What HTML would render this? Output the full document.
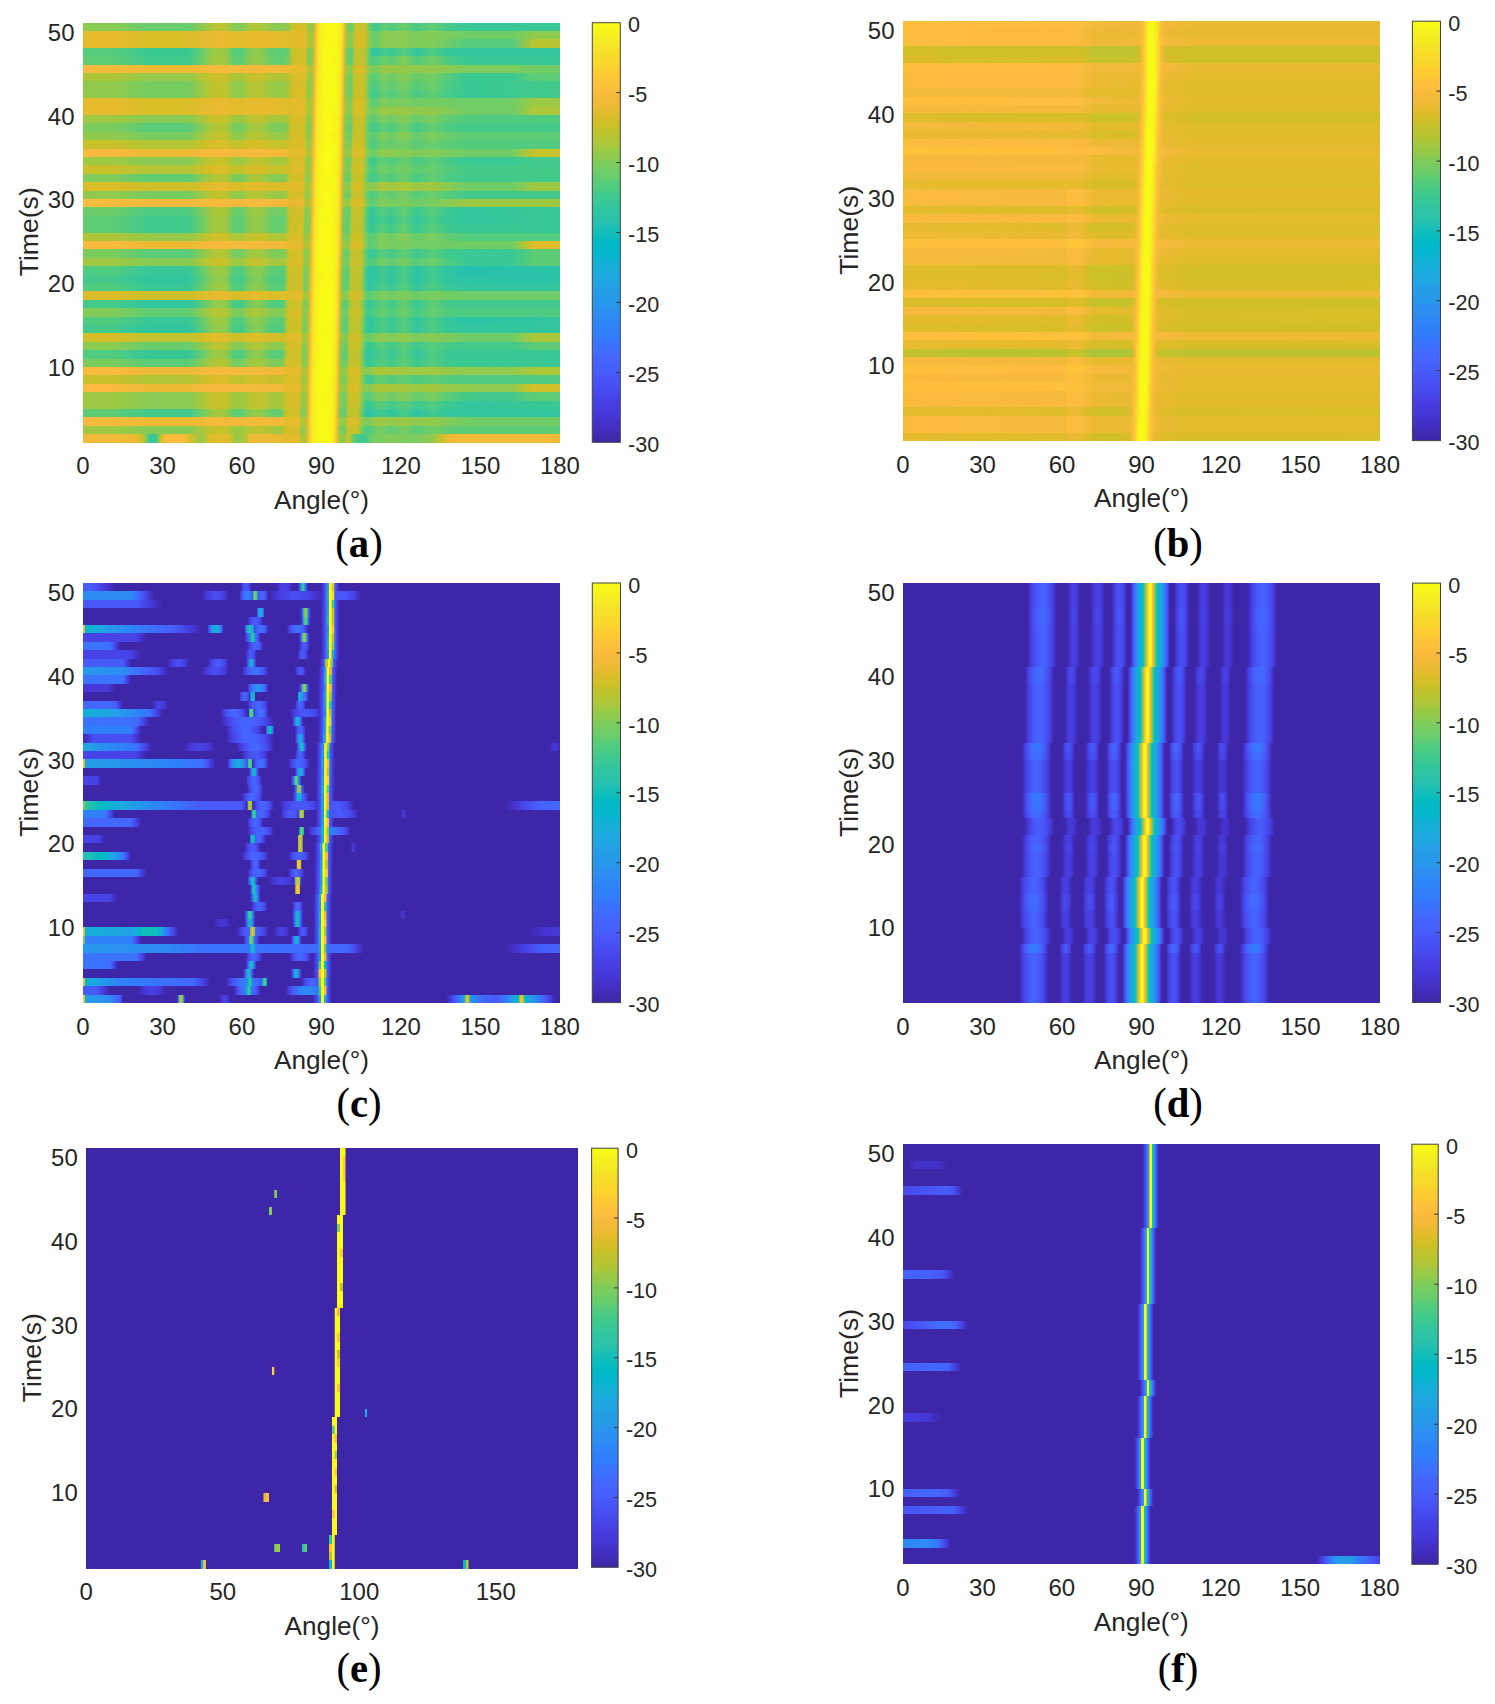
<!DOCTYPE html><html><head><meta charset="utf-8"><style>html,body{margin:0;padding:0;background:#fff;overflow:hidden}body{position:relative;width:1495px;height:1704px}.p{position:absolute;overflow:hidden;filter:blur(0.45px)}.p i{position:absolute;left:0;right:0;display:block}svg{position:absolute;left:0;top:0;display:block}</style></head><body><div class="p" style="left:83px;top:22.6px;width:476.9px;height:420px"><i style="top:0px;height:9px;background:linear-gradient(90deg,#8acb52,#8acb52 6.67%,#68cd6b 13.33%,#68cd6b 22.22%,#bbc42f 27.78%,#b7c532 30%,#89cb53 31.39%,#81cc58 33.33%,#a4c83e 34.72%,#aec637 35.56%,#b0c636 36.94%,#8bcb51 40%,#8bcb51 42.22%,#96ca49 43.06%,#cbc129 43.89%,#d2bf27 44.17%,#d8be28 46.67%,#c8c129 46.94%,#99c946 47.22%,#88cb53 47.5%,#92ca4c 48.06%,#a3c83f 48.33%,#dcbd29 48.61%,#fec13a 48.89%,#f5e825 49.44%,#f5ef21 49.72%,#f8f817 50.56%,#f9fb15 51.94%,#f8f817 53.33%,#f6ef20 53.89%,#f5e825 54.17%,#febe3c 54.72%,#c5c22a 55%,#82cc57 55.28%,#66cd6d 56.39%,#82cc58 56.67%,#b3c534 56.94%,#c6c22a 57.22%,#cac129 59.17%,#70cd65 60%,#41ca8c 60.83%,#46cb88 61.94%,#62cd70 63.06%,#50cc80 64.72%,#6ecd67 67.22%,#47cb87 70%,#62cd70 73.33%,#49cb85 75.83%,#39c895 80.56%,#39c895)"></i><i style="top:8.4px;height:9px;background:linear-gradient(90deg,#e6bb2d,#e6bb2d 6.94%,#d9be28 13.33%,#d9be28 22.22%,#ecba32 27.78%,#e1bc2b 33.06%,#eabb30 35.56%,#e0bc2a 43.89%,#e5bb2d 46.67%,#d5be28 46.94%,#afc637 47.22%,#a5c83d 47.5%,#abc739 48.06%,#bdc32e 48.33%,#e8bb2f 48.61%,#fec338 48.89%,#f5ea23 49.44%,#f8f817 50.56%,#f9fb15 51.94%,#f8f818 53.33%,#f6ef20 53.89%,#f5e626 54.17%,#fbbc3d 54.72%,#cac129 55%,#9ac945 55.28%,#83cc57 56.39%,#a1c840 56.67%,#cac129 56.94%,#d4bf28 57.22%,#d6be28 59.17%,#bcc42f 59.44%,#8acb52 60%,#68cd6b 60.83%,#6fcd66 61.94%,#90ca4d 63.06%,#85cb55 64.72%,#8ccb50 67.22%,#7ecc5b 70%,#84cc56 73.33%,#6fcd66 80.56%,#6fcd66 90%,#8ecb4f 94.44%,#8ecb4f)"></i><i style="top:16.8px;height:9px;background:linear-gradient(90deg,#e6bb2d,#e6bb2d 6.94%,#d9be28 13.33%,#d9be28 22.22%,#ecba32 27.78%,#e1bc2b 33.06%,#eabb30 35.56%,#e0bc2a 43.89%,#e5bb2d 46.67%,#d1bf27 46.94%,#aac73a 47.22%,#a5c83d 47.5%,#acc739 48.06%,#c3c22b 48.33%,#ecba32 48.61%,#fec537 48.89%,#f5ec22 49.44%,#f8f917 50.56%,#f8f718 53.33%,#f5ee21 53.89%,#fccf30 54.44%,#f8ba3d 54.72%,#c3c22b 55%,#99c946 55.28%,#82cc57 56.39%,#cec028 56.94%,#d8be28 58.89%,#d3bf27 59.17%,#9bc944 59.72%,#89cb53 60%,#68cd6b 60.83%,#70cd65 61.94%,#8fca4d 63.06%,#85cb55 64.72%,#8ccb50 67.22%,#7ecc5b 70%,#80cc59 73.33%,#53cc7d 80.56%,#53cc7d 90%,#b9c430 94.44%,#b9c430)"></i><i style="top:25.2px;height:9px;background:linear-gradient(90deg,#55cc7c,#55cc7c 6.67%,#3bc992 13.33%,#3bc992 22.22%,#5ccc76 24.44%,#84cc56 26.11%,#a0c841 27.78%,#9ac945 30%,#5ccc76 31.39%,#5acc77 31.67%,#53cc7d 33.33%,#7acc5e 34.44%,#89cb53 35.28%,#91ca4d 37.22%,#73cd62 38.33%,#5ecd74 40%,#5ecd74 42.22%,#6ccd69 43.06%,#acc738 43.61%,#cac129 43.89%,#d2bf27 46.67%,#afc637 46.94%,#79cc5e 47.22%,#88cb53 48.06%,#b1c635 48.33%,#eabb30 48.61%,#fec735 48.89%,#f5ec22 49.44%,#f8f917 50.56%,#f9fb15 51.67%,#f8f917 53.06%,#f5ee21 53.89%,#fdcd32 54.44%,#edba33 54.72%,#a2c83f 55%,#74cc62 55.28%,#57cc7a 56.39%,#bcc42f 56.94%,#c3c22b 58.89%,#b9c431 59.17%,#75cc61 59.72%,#47cb87 60.28%,#32c69f 60.83%,#35c79a 61.94%,#47cb87 63.06%,#37c897 64.72%,#58cc79 67.22%,#32c69e 70%,#4fcc81 73.33%,#3ac994 75.56%,#33c79d 78.33%,#32c69f)"></i><i style="top:33.6px;height:9px;background:linear-gradient(90deg,#5dcc75,#5dcc75 6.67%,#41ca8c 13.33%,#41ca8c 22.22%,#68cd6b 24.72%,#8acb52 26.11%,#a5c83e 27.78%,#9fc942 30%,#62cd70 31.39%,#5acc77 33.33%,#81cc59 34.44%,#93ca4b 35.56%,#96ca48 37.22%,#7acc5d 38.33%,#65cd6e 40%,#65cd6e 42.22%,#74cc62 43.06%,#b2c534 43.61%,#ccc028 43.89%,#d3bf27 46.67%,#abc739 46.94%,#79cc5e 47.22%,#8bcb51 48.06%,#bac430 48.33%,#efba35 48.61%,#fec934 48.89%,#f5ed22 49.44%,#f8f917 50.56%,#f9fb15 51.67%,#f6f21e 53.61%,#f5ed21 53.89%,#fdcb33 54.44%,#e6bb2d 54.72%,#99c946 55%,#75cc61 55.28%,#5ccc76 56.39%,#bfc32d 56.94%,#c4c22b 58.89%,#b6c532 59.17%,#73cd63 59.72%,#5bcc76 60.28%,#4ecc82 60.83%,#56cc7b 61.94%,#70cd65 63.06%,#5acc78 64.72%,#83cc57 67.22%,#4fcc80 70%,#74cc62 73.33%,#4ccb82 76.39%,#38c896 80.56%,#38c896)"></i><i style="top:42px;height:9px;background:linear-gradient(90deg,#f9ba3d,#f9ba3d 6.67%,#eeba34 13.06%,#eeba34 22.5%,#f7ba3d 27.78%,#f3ba38 42.78%,#e3bc2c 43.89%,#e9bb2f 46.67%,#c9c129 46.94%,#aac73a 47.22%,#b2c535 48.06%,#d6be28 48.33%,#f8ba3d 48.61%,#fdcc32 48.89%,#f5ed21 49.44%,#f8f917 50.56%,#f9fb15 51.94%,#f8f917 53.06%,#f5ed22 53.89%,#fec834 54.44%,#e9bb30 54.72%,#b0c636 55%,#9ec942 55.28%,#98c947 55.56%,#8ecb4f 56.11%,#91ca4c 56.39%,#bac430 56.67%,#d7be28 56.94%,#dcbd29 58.89%,#cec028 59.17%,#96ca48 59.72%,#78cc5f 60.83%,#7dcc5c 61.67%,#9ec942 63.06%,#95ca49 64.72%,#92ca4c 73.33%,#7fcc5a 80.56%,#7fcc5a 90%,#70cd65 94.44%,#70cd65)"></i><i style="top:50.4px;height:9px;background:linear-gradient(90deg,#adc638,#adc638 6.67%,#96ca48 13.33%,#96ca48 22.22%,#bfc32d 25.83%,#cfc028 27.78%,#cdc028 30%,#aec637 31.39%,#a9c73a 33.33%,#bec32e 34.44%,#c8c129 36.39%,#c8c129 37.22%,#b0c636 40%,#b0c636 42.22%,#bac430 43.06%,#d7be28 43.89%,#ddbd29 46.39%,#dabd28 46.67%,#91ca4c 47.22%,#9ec942 48.06%,#d1bf27 48.33%,#fabb3d 48.61%,#fdce31 48.89%,#f5e227 49.17%,#f5ee21 49.44%,#f8f917 50.56%,#f8f917 53.06%,#f5ec22 53.89%,#fec636 54.44%,#ddbd29 54.72%,#95ca49 55%,#87cb54 55.28%,#73cd63 56.11%,#7dcc5c 56.39%,#adc638 56.67%,#cbc129 56.94%,#d0c028 58.89%,#bcc42f 59.17%,#7fcc5a 59.72%,#5dcc74 60.56%,#5bcc76 60.83%,#5fcd73 61.67%,#7ecc5b 62.78%,#6fcd66 64.72%,#87cb54 67.22%,#66cd6d 70%,#77cc5f 73.33%,#59cc78 75.83%,#3ac993 80.56%,#3ac993 90%,#5ecc74 94.44%,#5ecc74)"></i><i style="top:58.8px;height:9px;background:linear-gradient(90deg,#90ca4d,#90ca4d 6.67%,#77cc60 13.33%,#77cc60 22.22%,#b1c636 26.11%,#c2c22c 27.78%,#bec32e 30%,#95ca49 31.39%,#8fcb4e 33.33%,#abc739 34.44%,#b1c636 35%,#b9c431 37.22%,#a6c73c 38.33%,#98ca47 40%,#98ca47 42.22%,#a8c73b 43.06%,#d4bf27 43.89%,#dabd28 46.39%,#d2bf27 46.67%,#a5c83d 46.94%,#8acb51 47.22%,#9ac945 48.06%,#d4bf28 48.33%,#fcbd3d 48.61%,#f5e426 49.17%,#f5ee21 49.44%,#f8f818 50.28%,#f9fb15 51.67%,#f8f817 53.06%,#f5ec23 53.89%,#fec438 54.44%,#d3bf27 54.72%,#87cb54 55%,#6bcd69 56.11%,#7bcc5c 56.39%,#adc638 56.67%,#c7c129 56.94%,#ccc028 58.89%,#b4c533 59.17%,#77cc60 59.72%,#4fcc80 60.56%,#52cc7e 61.67%,#6fcd65 62.78%,#5ecd74 64.72%,#7bcc5d 67.22%,#55cc7b 70%,#6ecd67 73.33%,#53cc7d 75.56%,#39c994 80.56%,#43ca8b)"></i><i style="top:67.2px;height:9px;background:linear-gradient(90deg,#90ca4d,#90ca4d 6.67%,#77cc60 13.33%,#77cc60 22.22%,#b1c636 26.11%,#c2c22c 27.78%,#bec32e 30%,#95ca49 31.39%,#8fcb4e 33.33%,#abc739 34.44%,#b1c636 35%,#b9c431 37.22%,#a6c73c 38.33%,#98ca47 40%,#98ca47 42.22%,#9ec942 42.78%,#ccc028 43.61%,#d4bf27 43.89%,#dabd28 46.39%,#cdc028 46.67%,#a0c841 46.94%,#8bcb51 47.22%,#a1c840 48.06%,#dabd28 48.33%,#febf3b 48.61%,#f5e725 49.17%,#f5ee21 49.44%,#f8f818 50.28%,#f9fb15 51.67%,#f8f817 53.06%,#f6f020 53.61%,#f5e924 53.89%,#fec03b 54.44%,#cbc029 54.72%,#86cb55 55%,#6acd6a 56.11%,#82cc58 56.39%,#b2c535 56.67%,#c7c129 56.94%,#ccc028 58.89%,#b1c635 59.17%,#74cc62 59.72%,#42ca8b 60.56%,#45cb88 61.67%,#62cd71 62.78%,#51cc7f 64.72%,#6ccd68 67.22%,#48cb86 70%,#61cd71 73.33%,#49cb85 75.83%,#39c994 80.56%,#43ca8b)"></i><i style="top:75.6px;height:9px;background:linear-gradient(90deg,#e6bb2d,#e6bb2d 6.94%,#d9be28 13.33%,#d9be28 22.22%,#ecba32 27.78%,#e1bc2b 33.06%,#eabb30 35.56%,#e0bc2a 43.61%,#e5bb2d 46.39%,#d7be28 46.67%,#b1c635 46.94%,#a5c83e 47.22%,#abc739 47.78%,#bac430 48.06%,#e6bb2d 48.33%,#fec239 48.61%,#f5e924 49.17%,#f5ef20 49.44%,#f9fb15 51.67%,#f8f818 53.06%,#f6ef20 53.61%,#f5e725 53.89%,#fdbd3d 54.44%,#cec028 54.72%,#9ac945 55%,#83cc57 56.11%,#9ec942 56.39%,#c7c12a 56.67%,#d4bf28 56.94%,#d7be28 58.89%,#bec32e 59.17%,#89cb53 59.72%,#5acc77 60.56%,#60cd72 61.67%,#81cc59 62.78%,#75cc61 64.72%,#7dcc5c 67.22%,#6ecd66 70%,#76cc60 73.33%,#6fcd66 77.5%,#6fcd66 90%,#9dc943 94.44%,#9dc943)"></i><i style="top:84px;height:9px;background:linear-gradient(90deg,#e6bb2d,#e6bb2d 6.94%,#d9be28 13.33%,#d9be28 22.22%,#ecba32 27.78%,#e1bc2b 33.06%,#eabb30 35.56%,#e0bc2a 43.61%,#e5bb2d 46.39%,#d3bf27 46.67%,#adc738 46.94%,#a5c83d 47.22%,#abc739 47.78%,#c0c32d 48.06%,#eabb30 48.33%,#fec438 48.61%,#f5eb23 49.17%,#f8f917 50.56%,#f8f818 53.06%,#f5ef20 53.61%,#fcd130 54.17%,#fabb3d 54.44%,#c7c12a 54.72%,#9ac945 55%,#8ecb4e 55.56%,#83cc57 56.11%,#ccc028 56.67%,#d4bf28 56.94%,#d8be28 58.61%,#d5be28 58.89%,#bbc430 59.17%,#9dc943 59.44%,#8ccb50 59.72%,#77cc5f 60.56%,#7fcc5a 61.67%,#9fc942 62.78%,#94ca4a 64.72%,#9bc944 67.22%,#8dcb4f 70%,#91ca4c 73.33%,#6fcd66 80.56%,#6fcd66 90%,#acc739 94.44%,#acc739)"></i><i style="top:92.4px;height:9px;background:linear-gradient(90deg,#9fc942,#9fc942 6.67%,#87cb54 13.33%,#87cb54 22.22%,#bac430 26.11%,#c9c129 27.78%,#c6c22a 30%,#a2c83f 31.39%,#9cc943 33.33%,#bac430 35%,#c1c32d 37.22%,#a4c83e 40%,#a4c83e 42.22%,#a9c73a 42.78%,#d4bf27 43.61%,#dcbd29 46.39%,#c1c32c 46.67%,#92ca4c 46.94%,#90ca4d 47.22%,#99c946 47.78%,#b9c431 48.06%,#eaba31 48.33%,#fec636 48.61%,#f5ec22 49.17%,#f8f917 50.28%,#f9fb15 51.39%,#f7f31d 53.33%,#f5e227 53.89%,#fdce31 54.17%,#f3ba38 54.44%,#b4c534 54.72%,#87cb54 55%,#6bcd69 56.11%,#c4c22b 56.67%,#cdc028 58.61%,#c6c22a 58.89%,#88cb53 59.44%,#76cc61 59.72%,#5bcc77 60.56%,#62cd71 61.67%,#80cc59 62.78%,#6dcd67 64.72%,#88cb53 67.22%,#64cd6f 70%,#7dcc5b 73.33%,#64cd6f 75.83%,#50cc80 80.56%,#50cc80)"></i><i style="top:100.8px;height:9px;background:linear-gradient(90deg,#7acc5d,#7acc5d 6.67%,#5acc77 13.33%,#5acc77 22.22%,#9ec943 26.11%,#b4c534 27.78%,#afc637 30%,#7ccc5c 31.39%,#79cc5e 31.94%,#74cd62 33.33%,#96ca48 34.44%,#9ec943 35%,#a8c73b 37.22%,#91ca4c 38.33%,#7ecc5a 40%,#7ecc5a 42.22%,#86cb54 42.78%,#b9c430 43.33%,#d0c027 43.61%,#d7be28 46.39%,#b4c534 46.67%,#81cc59 46.94%,#91ca4c 47.78%,#b9c430 48.06%,#edba33 48.33%,#fec835 48.61%,#f5ed22 49.17%,#f9fb15 51.39%,#f8f917 52.78%,#f5ee21 53.61%,#fdcc32 54.17%,#ebba32 54.44%,#a4c83e 54.72%,#7ccc5c 55%,#60cd72 56.11%,#c3c22b 56.67%,#c8c129 58.61%,#bdc32f 58.89%,#7bcc5d 59.44%,#67cd6d 59.72%,#41ca8c 60.56%,#48cb86 61.67%,#62cd71 62.78%,#4ecc81 64.72%,#6fcd65 67.22%,#45cb88 70%,#66cd6d 73.33%,#4dcc82 76.11%,#42ca8b 80.28%,#42ca8b)"></i><i style="top:109.2px;height:9px;background:linear-gradient(90deg,#90ca4d,#90ca4d 6.67%,#77cc60 13.33%,#77cc60 22.22%,#b1c636 26.11%,#c2c22c 27.78%,#bec32e 30%,#95ca49 31.39%,#8fcb4e 33.33%,#abc739 34.44%,#b1c636 35%,#b9c431 37.22%,#a6c73c 38.33%,#98ca47 40%,#98ca47 42.22%,#a0c841 42.78%,#c5c22a 43.33%,#d3bf27 43.61%,#dabd28 46.39%,#b4c534 46.67%,#89cb52 46.94%,#98ca47 47.78%,#c4c22b 48.06%,#f3ba38 48.33%,#feca33 48.61%,#f5ed22 49.17%,#f9fb15 51.39%,#f6f21e 53.33%,#f5ed21 53.61%,#feca33 54.17%,#e6bb2d 54.44%,#9fc942 54.72%,#82cc58 55%,#73cd62 55.56%,#6ccd68 56.11%,#9fc942 56.39%,#c7c12a 56.67%,#ccc028 58.61%,#bdc32e 58.89%,#7dcc5b 59.44%,#5bcc77 60.56%,#5fcd73 61.39%,#80cc59 62.78%,#6ccd68 64.72%,#8acb51 67.22%,#63cd70 70%,#81cc59 73.33%,#6bcd69 75.56%,#5dcc75 80.28%,#5dcc75)"></i><i style="top:117.6px;height:9px;background:linear-gradient(90deg,#c8c129,#c8c129 6.67%,#b3c534 13.33%,#b3c534 22.22%,#d0bf27 25.83%,#dcbd29 27.78%,#dabd28 30%,#c5c22a 31.39%,#c2c22c 33.33%,#d0c027 34.44%,#d7be28 36.94%,#c6c22a 40%,#c6c22a 42.22%,#dabd28 43.61%,#e0bc2a 46.39%,#bac430 46.67%,#98c947 46.94%,#a4c83e 47.78%,#d0bf27 48.06%,#f8ba3d 48.33%,#fdcd32 48.61%,#f5ed21 49.17%,#f8f917 50.28%,#f9fb15 51.67%,#f8f917 52.78%,#f5ed22 53.61%,#fec835 54.17%,#e3bc2c 54.44%,#a0c841 54.72%,#8ecb4f 55%,#7bcc5d 55.83%,#81cc59 56.11%,#afc637 56.39%,#cfc028 56.67%,#d3bf27 58.61%,#c3c22b 58.89%,#86cb55 59.44%,#53cc7d 60.28%,#4ecc81 60.56%,#52cc7e 61.39%,#70cd65 62.78%,#63cd70 64.72%,#73cd63 67.22%,#5bcc76 70%,#6acd69 73.33%,#5dcc75 75.56%,#51cc7e 80.56%,#51cc7e)"></i><i style="top:126px;height:9px;background:linear-gradient(90deg,#f9ba3d,#f9ba3d 6.67%,#eeba34 13.06%,#eeba34 22.5%,#f7ba3c 27.22%,#f2ba38 42.5%,#e3bc2c 43.61%,#e4bb2c 46.39%,#c3c22b 46.67%,#abc739 46.94%,#b3c534 47.78%,#dcbd29 48.06%,#fcbc3d 48.33%,#f5e327 48.89%,#f5ee21 49.17%,#f8f818 50%,#f9fb15 51.39%,#f8f917 52.78%,#f5ec22 53.61%,#fec537 54.17%,#e1bc2b 54.44%,#a5c83d 54.72%,#9dc943 55%,#8dcb50 55.83%,#98c947 56.11%,#c0c32d 56.39%,#d8be28 56.67%,#dcbd29 58.61%,#cac129 58.89%,#94ca4a 59.44%,#6bcd69 60.28%,#69cd6b 60.56%,#6ecd67 61.39%,#8ecb4f 62.5%,#8fcb4e 62.78%,#7fcc5a 70%,#82cc57 73.33%,#70cd65 80.28%,#70cd65 90%,#aec637 93.06%,#c7c12a 94.44%,#c7c12a)"></i><i style="top:134.4px;height:9px;background:linear-gradient(90deg,#9fc942,#9fc942 6.67%,#87cb54 13.33%,#87cb54 22.22%,#bac430 26.11%,#c9c129 27.78%,#c6c22a 30%,#a2c83f 31.39%,#9cc943 33.33%,#bac430 35%,#c1c32d 37.22%,#a4c83e 40%,#a4c83e 42.22%,#b0c636 42.78%,#cec028 43.33%,#d5be28 43.61%,#dbbd29 46.11%,#d2bf27 46.39%,#a6c83c 46.67%,#8ecb4e 46.94%,#a0c841 47.78%,#d7be28 48.06%,#febd3c 48.33%,#f5e526 48.89%,#f5ee21 49.17%,#f8f818 50%,#f9fb15 51.39%,#f8f817 52.78%,#f5eb23 53.61%,#fec239 54.17%,#d1bf27 54.44%,#89cb52 54.72%,#6ecd67 55.83%,#82cc58 56.11%,#b2c635 56.39%,#c9c129 56.67%,#cec028 58.61%,#b5c533 58.89%,#78cc5f 59.44%,#43ca8b 60.28%,#45cb88 61.39%,#61cd71 62.5%,#52cc7e 64.72%,#6acd6a 67.22%,#49cb85 70%,#5fcd73 73.33%,#48cb86 76.11%,#3ac993 80.28%,#3ac994 90%,#43ca8a 94.44%,#43ca8a)"></i><i style="top:142.8px;height:9px;background:linear-gradient(90deg,#c8c129,#c8c129 6.67%,#b3c534 13.33%,#b3c534 22.22%,#d0bf27 25.83%,#dcbd29 27.78%,#dabd28 30%,#c5c22a 31.39%,#c2c22c 33.33%,#d0c027 34.44%,#d7be28 36.94%,#c6c22a 40%,#c6c22a 42.22%,#dbbd28 43.61%,#e0bc2b 46.11%,#d3bf27 46.39%,#abc739 46.67%,#9ac946 46.94%,#a2c840 47.5%,#afc637 47.78%,#e0bc2a 48.06%,#fec03a 48.33%,#f5e825 48.89%,#f5ee21 49.17%,#f8f817 50%,#f9fb15 51.39%,#f8f817 52.78%,#f6f020 53.33%,#f5e825 53.61%,#febf3c 54.17%,#cec028 54.44%,#92ca4c 54.72%,#78cc5f 55.83%,#91ca4c 56.11%,#bec32e 56.39%,#cfc028 56.67%,#d3bf27 58.61%,#b9c431 58.89%,#80cc59 59.44%,#4dcc82 60.28%,#52cc7e 61.39%,#71cd64 62.5%,#63cd70 64.72%,#73cd63 67.22%,#5bcc76 70%,#69cd6b 73.33%,#58cc79 75.56%,#45cb89 80.56%,#45cb89)"></i><i style="top:151.2px;height:9px;background:linear-gradient(90deg,#81cc59,#81cc59 6.67%,#60cd72 13.33%,#60cd72 22.22%,#a1c840 26.11%,#b7c532 27.78%,#b2c635 30%,#81cc58 31.39%,#79cc5e 33.33%,#9ec942 34.72%,#a9c73b 35.56%,#abc739 36.94%,#86cb54 39.72%,#84cc57 42.22%,#87cb54 42.5%,#cac129 43.33%,#d1bf27 43.61%,#d7be28 46.11%,#c3c22b 46.39%,#92ca4c 46.67%,#86cb55 46.94%,#90ca4d 47.5%,#a8c73b 47.78%,#e0bc2a 48.06%,#fec339 48.33%,#f5ea24 48.89%,#f8f917 50.28%,#f8f818 52.78%,#f5e626 53.61%,#fbd22f 53.89%,#fabb3d 54.17%,#bdc32f 54.44%,#80cc59 54.72%,#63cd70 55.83%,#85cb56 56.11%,#b6c532 56.39%,#c4c22a 56.67%,#c6c22a 58.61%,#6dcd68 59.44%,#41ca8c 60.28%,#46cb88 61.39%,#62cd70 62.5%,#4fcc81 64.72%,#6fcd66 67.22%,#46cb88 70%,#65cd6e 73.33%,#4dcc82 76.11%,#42ca8b 80.28%,#42ca8b)"></i><i style="top:159.6px;height:9px;background:linear-gradient(90deg,#dbbd29,#dbbd29 6.94%,#cdc028 13.33%,#cdc028 22.22%,#e7bb2e 27.78%,#e6bb2d 30%,#d9bd28 31.39%,#d7be28 33.33%,#e4bb2c 35.83%,#dabd28 40%,#e4bb2c 46.11%,#cfc028 46.39%,#a7c73c 46.67%,#a2c840 46.94%,#a9c73b 47.5%,#c0c32d 47.78%,#ebba31 48.06%,#fec537 48.33%,#f5ec22 48.89%,#f8f917 50%,#f8f718 52.78%,#f5ef21 53.33%,#fcd030 53.89%,#f8ba3d 54.17%,#c2c22c 54.44%,#96ca48 54.72%,#7fcc5a 55.83%,#cbc029 56.39%,#d3bf27 56.67%,#d6be28 58.06%,#d2bf27 58.61%,#99c946 59.17%,#8ccb50 59.44%,#87cb54 60.28%,#8fcb4e 61.39%,#adc638 62.5%,#a1c840 64.72%,#abc739 67.22%,#9ac945 70%,#a0c841 73.33%,#6ecd66 80.56%,#6ecd66 90%,#9cc943 94.44%,#9cc943)"></i><i style="top:168px;height:9px;background:linear-gradient(90deg,#90ca4d,#90ca4d 6.67%,#77cc60 13.33%,#77cc60 22.22%,#b1c636 26.11%,#c2c22c 27.78%,#bec32e 30%,#95ca49 31.39%,#8fcb4e 33.33%,#abc739 34.44%,#b1c636 35%,#b9c431 37.22%,#a6c73c 38.33%,#98ca47 40%,#98ca47 42.22%,#9bc945 42.5%,#d2bf27 43.33%,#dabd28 46.11%,#bcc42f 46.39%,#8ccb50 46.67%,#97ca48 47.5%,#bac430 47.78%,#ebba32 48.06%,#fec735 48.33%,#f5ec22 48.89%,#f8f917 50%,#f9fb15 51.11%,#f8f917 52.5%,#f5ee21 53.33%,#fdcd31 53.89%,#f0ba36 54.17%,#aec637 54.44%,#83cc57 54.72%,#67cd6c 55.83%,#c4c22b 56.39%,#ccc028 58.33%,#c3c22b 58.61%,#83cc57 59.17%,#70cd65 59.44%,#4dcc82 60.28%,#55cc7c 61.39%,#71cd65 62.5%,#5ecc74 64.72%,#7bcc5d 67.22%,#55cc7c 70%,#6fcd66 73.33%,#58cc79 75.56%,#43ca8b 80.56%,#43ca8b)"></i><i style="top:176.4px;height:9px;background:linear-gradient(90deg,#febe3c,#f7ba3c 13.06%,#f8ba3d 42.5%,#e4bb2c 43.33%,#eaba30 46.11%,#d0bf27 46.39%,#adc638 46.67%,#b5c533 47.5%,#d2bf27 47.78%,#f5ba3a 48.06%,#fec934 48.33%,#f5ed22 48.89%,#f9fb15 51.11%,#f6f21e 53.06%,#f5ed21 53.33%,#fdcb33 53.89%,#f0ba36 54.17%,#bbc42f 54.44%,#a1c840 54.72%,#8fcb4e 55.83%,#b8c431 56.11%,#d9be28 56.39%,#ddbd29 58.33%,#d3bf27 58.61%,#bac430 58.89%,#89cb52 59.44%,#63cd6f 60%,#5bcc77 60.28%,#63cd70 61.39%,#80cc59 62.5%,#76cc60 64.72%,#7bcc5d 67.22%,#70cd65 70.56%,#72cd63 72.22%,#9ec943 80.56%,#9ec943)"></i><i style="top:184.8px;height:9px;background:linear-gradient(90deg,#6bcd69,#6bcd69 6.67%,#4dcc82 13.33%,#4dcc82 22.22%,#acc738 27.78%,#a7c73c 30%,#6fcd66 31.39%,#66cd6d 33.33%,#90ca4d 34.72%,#9cc944 35.56%,#9fc942 37.22%,#86cb55 38.33%,#71cd64 40%,#71cd64 42.22%,#7acc5d 42.5%,#b8c531 43.06%,#cec028 43.33%,#d5be28 46.11%,#a9c73b 46.39%,#7ecc5b 46.67%,#8fcb4e 47.5%,#c2c32c 47.78%,#f4ba39 48.06%,#fdcb33 48.33%,#f5ed22 48.89%,#f8f917 50%,#f9fb15 51.39%,#f8f917 52.5%,#f5ed22 53.33%,#fec934 53.89%,#e1bc2b 54.17%,#93ca4b 54.44%,#78cc5f 54.72%,#62cd71 55.56%,#64cd6f 55.83%,#98c946 56.11%,#c1c32c 56.39%,#c6c22a 58.33%,#b5c533 58.61%,#72cd63 59.17%,#3dc990 60%,#39c895 60.28%,#3eca8f 61.39%,#55cc7c 62.5%,#53cc7e 63.33%,#41ca8c 64.72%,#63cd70 67.22%,#3ac993 70%,#58cc79 73.33%,#3fca8e 75.56%,#32c69e 80.28%,#38c896)"></i><i style="top:193.2px;height:9px;background:linear-gradient(90deg,#5dcc75,#5dcc75 6.67%,#41ca8c 13.33%,#41ca8c 22.22%,#68cd6b 24.72%,#8acb52 26.11%,#a5c83e 27.78%,#9fc942 30%,#62cd70 31.39%,#5acc77 33.33%,#81cc59 34.44%,#93ca4b 35.56%,#96ca48 37.22%,#7acc5d 38.33%,#65cd6e 40%,#65cd6e 42.22%,#72cd64 42.5%,#b6c532 43.06%,#ccc028 43.33%,#d0bf27 46.11%,#7acc5d 46.67%,#8ccb50 47.5%,#c7c12a 47.78%,#f8ba3d 48.06%,#fdce31 48.33%,#f5ed21 48.89%,#f8f917 50%,#f8f917 52.5%,#f5ec22 53.33%,#fec736 53.89%,#d8be28 54.17%,#85cb55 54.44%,#73cd62 54.72%,#5ecc74 55.56%,#66cd6d 55.83%,#9cc944 56.11%,#bfc32d 56.39%,#c4c22b 58.33%,#afc636 58.61%,#6ccd68 59.17%,#56cc7b 59.44%,#35c79a 60%,#32c69e 60.28%,#34c79c 61.11%,#48cb86 62.5%,#37c897 64.72%,#57cc7a 67.22%,#33c69d 70%,#4ecc81 73.33%,#3ac994 75.56%,#32c69f 80.28%,#38c896)"></i><i style="top:201.6px;height:9px;background:linear-gradient(90deg,#5dcc75,#5dcc75 6.67%,#41ca8c 13.33%,#41ca8c 22.22%,#68cd6b 24.72%,#8acb52 26.11%,#a5c83e 27.78%,#9fc942 30%,#62cd70 31.39%,#5acc77 33.33%,#81cc59 34.44%,#93ca4b 35.56%,#96ca48 37.22%,#7acc5d 38.33%,#65cd6e 40%,#65cd6e 42.22%,#76cc61 42.5%,#bac430 43.06%,#ccc028 43.33%,#d3bf27 45.83%,#cbc129 46.11%,#99c946 46.39%,#7bcc5d 46.67%,#8dcb4f 47.5%,#cec028 47.78%,#fbbc3d 48.06%,#f5e427 48.61%,#f5ee21 48.89%,#f8f818 49.72%,#f9fb15 51.11%,#f8f817 52.5%,#f5ec22 53.33%,#fec437 53.89%,#d0bf27 54.17%,#7acc5d 54.44%,#5dcc75 55.56%,#6ccd68 55.83%,#a2c840 56.11%,#bfc32d 56.39%,#c4c22a 58.33%,#acc739 58.61%,#6acd6a 59.17%,#3ac993 60%,#3bc992 61.11%,#55cc7c 62.5%,#54cc7d 63.33%,#40ca8d 64.72%,#64cd6e 67.22%,#39c995 70%,#5bcc76 73.33%,#42ca8b 75.83%,#3ac993 78.33%,#38c896)"></i><i style="top:210px;height:9px;background:linear-gradient(90deg,#adc638,#adc638 6.67%,#96ca48 13.33%,#96ca48 22.22%,#bfc32d 25.83%,#cfc028 27.78%,#cdc028 30%,#aec637 31.39%,#a9c73a 33.33%,#bec32e 34.44%,#c8c129 36.39%,#c8c129 37.22%,#b0c636 40%,#b0c636 42.22%,#c5c22a 42.78%,#d7be28 43.33%,#ddbd29 45.83%,#d2bf27 46.11%,#a7c73c 46.39%,#92ca4b 46.67%,#a6c83d 47.5%,#dbbd29 47.78%,#febf3c 48.06%,#f5e626 48.61%,#f5ee21 48.89%,#f8f818 49.72%,#f9fb15 51.11%,#f8f817 52.5%,#f6f020 53.06%,#f5ea24 53.33%,#fec13a 53.89%,#cfc028 54.17%,#8ccb50 54.44%,#71cd64 55.56%,#87cb54 55.83%,#b6c532 56.11%,#cbc129 56.39%,#d0c027 58.33%,#b6c532 58.61%,#7dcc5c 59.17%,#5bcc76 60%,#60cd73 61.11%,#80cc59 62.22%,#6ecd66 64.72%,#86cb54 67.22%,#66cd6d 70%,#7bcc5d 73.33%,#64cd6e 75.83%,#50cc7f 80.56%,#50cc7f)"></i><i style="top:218.4px;height:9px;background:linear-gradient(90deg,#f9ba3d,#f9ba3d 6.67%,#eeba34 13.06%,#eeba34 22.5%,#f7ba3c 27.22%,#f2ba38 42.22%,#e3bc2c 43.33%,#e8bb2f 45.83%,#dcbd29 46.11%,#b8c431 46.39%,#acc739 46.67%,#b1c635 47.22%,#bec32e 47.5%,#e7bb2e 47.78%,#fec13a 48.06%,#f5e924 48.61%,#f5ef21 48.89%,#f8f817 49.72%,#f9fb15 51.11%,#f8f817 52.5%,#f6ef20 53.06%,#f5e725 53.33%,#febe3c 53.89%,#d2bf27 54.17%,#a1c840 54.44%,#8bcb51 55.56%,#a4c83e 55.83%,#cbc129 56.11%,#d8be28 56.39%,#dbbd29 58.33%,#c3c22b 58.61%,#8ecb4e 59.17%,#5acc77 60%,#60cd72 61.11%,#81cc59 62.22%,#76cc60 64.72%,#7acc5d 67.22%,#70cd65 70%,#70cd65 90%,#c1c32c 93.06%,#dfbc2a 94.44%,#dfbc2a)"></i><i style="top:226.8px;height:9px;background:linear-gradient(90deg,#7acc5d,#7acc5d 6.67%,#5acc77 13.33%,#5acc77 22.22%,#9ec943 26.11%,#b4c534 27.78%,#afc637 30%,#7ccc5c 31.39%,#79cc5e 31.94%,#74cd62 33.33%,#96ca48 34.44%,#9ec943 35%,#a8c73b 37.22%,#91ca4c 38.33%,#7ecc5a 40%,#7ecc5a 42.22%,#cac129 43.06%,#d6be28 45.56%,#d6be28 45.83%,#bfc32d 46.11%,#8ecb4f 46.39%,#85cb56 46.67%,#8fca4d 47.22%,#aac73a 47.5%,#e2bc2b 47.78%,#fec338 48.06%,#f5eb23 48.61%,#f8f817 49.72%,#f9fb15 51.11%,#f8f818 52.5%,#f5ef20 53.06%,#f5e526 53.33%,#fcd12f 53.61%,#f8ba3d 53.89%,#b8c431 54.17%,#7ecc5b 54.44%,#61cd71 55.56%,#86cb55 55.83%,#b8c431 56.11%,#c4c22b 56.39%,#c4c22b 58.33%,#69cd6b 59.17%,#43ca8a 59.72%,#38c896 60%,#3cc991 61.11%,#55cc7c 62.22%,#54cc7d 63.33%,#42ca8c 64.72%,#61cd72 67.22%,#3bc992 70%,#58cc79 73.33%,#42ca8b 75.83%,#39c994 80%,#39c895 90%,#5bcc76 94.44%,#5bcc76)"></i><i style="top:235.2px;height:9px;background:linear-gradient(90deg,#9fc942,#9fc942 6.67%,#87cb54 13.33%,#87cb54 22.22%,#bac430 26.11%,#c9c129 27.78%,#c6c22a 30%,#a2c83f 31.39%,#9cc943 33.33%,#bac430 35%,#c1c32d 37.22%,#a4c83e 40%,#a4c83e 42.22%,#d3bf27 43.06%,#dcbd29 45.83%,#c1c32c 46.11%,#93ca4b 46.39%,#90ca4d 46.67%,#99c946 47.22%,#b8c431 47.5%,#e9bb30 47.78%,#fec636 48.06%,#f5ec22 48.61%,#f8f917 49.72%,#f9fb15 50.83%,#f7f31d 52.78%,#f5e327 53.33%,#fccf31 53.61%,#f4ba39 53.89%,#b5c533 54.17%,#87cb54 54.44%,#6bcd69 55.56%,#c3c22b 56.11%,#cdc028 58.06%,#c7c12a 58.33%,#89cb53 58.89%,#73cd63 59.17%,#4dcc82 60%,#54cc7c 61.11%,#71cd64 62.22%,#5fcd73 64.72%,#79cc5f 67.22%,#57cc7a 70%,#6ccd68 73.33%,#4fcc80 76.11%,#3ac994 80.56%,#3ac994 90%,#5dcc75 94.44%,#5dcc75)"></i><i style="top:243.6px;height:9px;background:linear-gradient(90deg,#50cc80,#50cc80 6.67%,#38c896 13.33%,#38c896 22.22%,#5dcc75 24.72%,#80cc59 26.11%,#9dc943 27.78%,#97ca48 30%,#57cc7a 31.39%,#53cc7d 32.22%,#4ecc81 33.33%,#76cc61 34.44%,#8acb52 35.56%,#8dcb4f 37.22%,#6fcd66 38.33%,#5acc77 40%,#5acc77 42.22%,#a6c73c 42.78%,#cac129 43.06%,#d1bf27 45.83%,#acc738 46.11%,#76cc61 46.39%,#87cb54 47.22%,#b2c535 47.5%,#ebba31 47.78%,#fec835 48.06%,#f5ec22 48.61%,#f8f917 49.72%,#f9fb15 50.83%,#f8f917 52.22%,#f5ee21 53.06%,#fdcc32 53.61%,#ebba31 53.89%,#9ec942 54.17%,#72cd63 54.44%,#56cc7b 55.56%,#bcc42f 56.11%,#c2c22c 58.06%,#b7c532 58.33%,#72cd63 58.89%,#40ca8d 59.44%,#2cc4a7 60%,#30c5a2 61.11%,#3dc990 62.22%,#3dc990 63.33%,#31c6a0 64.72%,#4bcb84 67.22%,#2cc4a7 70%,#42ca8c 73.33%,#31c6a0 75.56%,#23c1af 80.56%,#2cc4a7)"></i><i style="top:252px;height:9px;background:linear-gradient(90deg,#43ca8a,#43ca8a 6.67%,#32c69f 13.33%,#32c69f 22.22%,#48cb86 24.17%,#95ca49 27.78%,#8ecb4e 30%,#4ccb83 31.39%,#4acb84 31.67%,#44ca8a 33.33%,#6bcd69 34.44%,#80cc59 35.56%,#84cc56 37.22%,#64cd6e 38.33%,#52cc7e 39.72%,#4fcc81 41.94%,#53cc7e 42.22%,#a6c83d 42.78%,#c8c129 43.06%,#d0c027 45.83%,#a3c83e 46.11%,#72cd64 46.39%,#85cb56 47.22%,#b8c431 47.5%,#f0ba36 47.78%,#feca33 48.06%,#f5ed22 48.61%,#f9fb15 50.83%,#f6f21e 52.78%,#f5ed21 53.06%,#feca33 53.61%,#e3bc2c 53.89%,#91ca4c 54.17%,#6fcd66 54.44%,#57cc7a 55.56%,#bbc42f 56.11%,#c0c32d 58.06%,#b1c635 58.33%,#6ccd69 58.89%,#52cc7e 59.17%,#3dca90 59.44%,#2cc4a7 60%,#3eca8f 62.78%,#30c5a1 64.72%,#4dcb82 67.22%,#2bc3a8 70%,#44cb89 73.33%,#33c69d 75.56%,#2cc4a7 79.44%,#2bc3a8)"></i><i style="top:260.4px;height:9px;background:linear-gradient(90deg,#50cc80,#50cc80 6.67%,#38c896 13.33%,#38c896 22.22%,#5dcc75 24.72%,#80cc59 26.11%,#9dc943 27.78%,#97ca48 30%,#57cc7a 31.39%,#53cc7d 32.22%,#4ecc81 33.33%,#76cc61 34.44%,#8acb52 35.56%,#8dcb4f 37.22%,#6fcd66 38.33%,#5dcc75 39.72%,#5acc77 41.94%,#61cd71 42.22%,#afc637 42.78%,#cac129 43.06%,#d1bf27 45.83%,#76cc60 46.39%,#89cb53 47.22%,#c1c32c 47.5%,#f5ba3a 47.78%,#fdcc32 48.06%,#f5ed21 48.61%,#f8f917 49.72%,#f9fb15 51.11%,#f8f917 52.22%,#f5ed22 53.06%,#fec835 53.61%,#dcbd29 53.89%,#89cb53 54.17%,#71cd64 54.44%,#5bcc77 55.28%,#60cd72 55.56%,#95ca49 55.83%,#bdc32e 56.11%,#c2c22c 58.06%,#afc636 58.33%,#6bcd69 58.89%,#56cc7b 59.17%,#35c79a 59.72%,#32c69e 60%,#34c79c 60.83%,#49cb85 62.5%,#48cb87 63.33%,#37c898 64.72%,#58cc79 67.22%,#32c69f 70%,#4fcc80 73.33%,#3ac994 75.56%,#32c69f 80%,#32c69f)"></i><i style="top:268.8px;height:9px;background:linear-gradient(90deg,#dbbd29,#dbbd29 6.94%,#cdc028 13.33%,#cdc028 22.22%,#e7bb2e 27.78%,#e6bb2d 30%,#d9bd28 31.39%,#d7be28 33.33%,#e4bb2c 35.83%,#dabd28 40%,#e3bb2c 45.56%,#e0bc2a 45.83%,#bbc42f 46.11%,#a0c841 46.39%,#aac73a 47.22%,#d8be28 47.5%,#fbbc3d 47.78%,#f5e327 48.33%,#f5ee21 48.61%,#f8f818 49.44%,#f9fb15 50.83%,#f8f917 52.22%,#f5ec22 53.06%,#fec636 53.61%,#dfbc2a 53.89%,#9ec942 54.17%,#93ca4a 54.44%,#82cc58 55.28%,#8dcb4f 55.56%,#b8c431 55.83%,#d2bf27 56.11%,#d7be28 58.06%,#c4c22b 58.33%,#8bcb51 58.89%,#5ecc74 59.72%,#5bcc76 60%,#5fcd73 60.83%,#80cc59 62.22%,#73cd62 64.72%,#7ecc5b 67.22%,#6ccd68 70%,#78cc5f 73.33%,#6ecd66 77.78%,#6ecd66)"></i><i style="top:277.2px;height:9px;background:linear-gradient(90deg,#43ca8a,#43ca8a 6.67%,#32c69f 13.33%,#32c69f 22.22%,#48cb86 24.17%,#95ca49 27.78%,#8ecb4e 30%,#4ccb83 31.39%,#4acb84 31.67%,#44ca8a 33.33%,#6bcd69 34.44%,#80cc59 35.56%,#84cc56 37.22%,#64cd6e 38.33%,#52cc7e 39.72%,#4fcc81 41.94%,#60cd72 42.22%,#b4c534 42.78%,#c9c129 43.06%,#cfc028 45.56%,#c4c22a 45.83%,#90ca4d 46.11%,#74cc62 46.39%,#8acb51 47.22%,#cec028 47.5%,#fdbd3d 47.78%,#f5e526 48.33%,#f5ee21 48.61%,#f8f818 49.44%,#f9fb15 50.83%,#f8f817 52.22%,#f5eb23 53.06%,#fec339 53.61%,#cac129 53.89%,#74cd62 54.17%,#56cc7b 55.28%,#68cd6b 55.56%,#9fc941 55.83%,#bcc42f 56.11%,#c0c32d 58.06%,#a5c83d 58.33%,#64cd6f 58.89%,#3ac994 59.72%,#3bc992 60.83%,#54cc7d 61.94%,#59cc78 63.06%,#3eca8f 64.72%,#68cd6c 67.22%,#37c897 70%,#60cd72 73.33%,#48cb86 75.56%,#40ca8d 77.78%,#40ca8d)"></i><i style="top:285.6px;height:9px;background:linear-gradient(90deg,#81cc59,#81cc59 6.67%,#60cd72 13.33%,#60cd72 22.22%,#a1c840 26.11%,#b7c532 27.78%,#b2c635 30%,#81cc58 31.39%,#7bcc5d 32.78%,#79cc5e 33.33%,#9ac945 34.44%,#a9c73b 35.56%,#abc739 36.94%,#86cb54 39.72%,#84cc57 41.94%,#93ca4b 42.22%,#c7c12a 42.78%,#d1bf27 43.06%,#d7be28 45.56%,#c8c129 45.83%,#99c946 46.11%,#85cb55 46.39%,#90ca4d 46.94%,#9fc942 47.22%,#d9bd28 47.5%,#fec03b 47.78%,#f5e725 48.33%,#f5ee21 48.61%,#f8f817 49.44%,#f9fb15 50.83%,#f8f817 52.22%,#f6f020 52.78%,#f5e924 53.06%,#febf3c 53.61%,#c7c12a 53.89%,#81cc59 54.17%,#64cd6f 55.28%,#7ecc5b 55.56%,#b0c636 55.83%,#c4c22a 56.11%,#c9c129 58.06%,#acc738 58.33%,#6fcd66 58.89%,#41ca8c 59.72%,#46cb88 60.83%,#62cd70 61.94%,#64cd6e 63.06%,#4ecc81 64.72%,#6ecd66 67.22%,#46cb88 70%,#67cd6c 73.33%,#55cc7c 75.56%,#4ecc81 77.78%,#4ecc81)"></i><i style="top:294px;height:9px;background:linear-gradient(90deg,#50cc80,#50cc80 6.67%,#38c896 13.33%,#38c896 22.22%,#5dcc75 24.72%,#80cc59 26.11%,#9dc943 27.78%,#97ca48 30%,#57cc7a 31.39%,#53cc7d 32.22%,#4ecc81 33.33%,#76cc61 34.44%,#8acb52 35.56%,#8dcb4f 37.22%,#6fcd66 38.33%,#5dcc75 39.72%,#5acc77 41.94%,#73cd63 42.22%,#bfc32d 42.78%,#cbc129 43.06%,#d1bf27 45.56%,#bbc42f 45.83%,#87cb54 46.11%,#79cc5e 46.39%,#85cb55 46.94%,#9ec942 47.22%,#dcbd29 47.5%,#fec239 47.78%,#f5ea24 48.33%,#f8f817 49.44%,#f9fb15 50.83%,#f8f818 52.22%,#f6ef20 52.78%,#f5e625 53.06%,#fabb3d 53.61%,#b8c431 53.89%,#75cc61 54.17%,#58cc79 55.28%,#78cc5f 55.56%,#aec637 55.83%,#bec32e 56.11%,#c0c32d 58.06%,#61cd72 58.89%,#3bc992 59.44%,#32c69f 59.72%,#34c79b 60.83%,#48cb86 61.94%,#4ccb83 63.06%,#37c898 64.72%,#58cc79 67.22%,#32c69f 70%,#4ecc81 73.33%,#37c897 75.56%,#2cc4a7 80.28%,#32c69f)"></i><i style="top:302.4px;height:9px;background:linear-gradient(90deg,#43ca8a,#43ca8a 6.67%,#32c69f 13.33%,#32c69f 22.22%,#48cb86 24.17%,#95ca49 27.78%,#8ecb4e 30%,#4ccb83 31.39%,#4acb84 31.67%,#44ca8a 33.33%,#6bcd69 34.44%,#80cc59 35.56%,#84cc56 37.22%,#64cd6e 38.33%,#52cc7e 39.72%,#4fcc81 41.94%,#6ecd67 42.22%,#c1c32c 42.78%,#c9c129 43.06%,#cfc028 45.56%,#b3c534 45.83%,#7dcc5c 46.11%,#76cc60 46.39%,#83cc57 46.94%,#a3c83e 47.22%,#e1bc2b 47.5%,#fec437 47.78%,#f5ec22 48.33%,#f8f917 49.72%,#f8f818 52.22%,#f5ef21 52.78%,#fcd030 53.33%,#f5ba3a 53.61%,#acc738 53.89%,#71cd64 54.17%,#54cc7d 55.28%,#7bcc5d 55.56%,#b1c635 55.83%,#bcc42f 56.11%,#c0c32d 57.78%,#bac430 58.06%,#76cc60 58.61%,#5ccc76 58.89%,#48cb86 59.17%,#32c69f 59.72%,#35c79a 60.83%,#48cb86 61.94%,#4ccb83 62.78%,#36c899 64.72%,#5acc77 67.22%,#40ca8d 68.61%,#31c6a0 70%,#51cc7f 73.33%,#3ac994 75.56%,#33c79c 77.78%,#31c6a0)"></i><i style="top:310.8px;height:9px;background:linear-gradient(90deg,#d4be28,#d4bf28 6.94%,#c1c32c 13.06%,#c1c32d 22.22%,#d0bf27 24.72%,#e1bc2b 27.78%,#e0bc2a 30%,#d0c028 31.39%,#cdc028 33.33%,#ddbd29 35.56%,#d0bf27 41.94%,#dcbd29 42.78%,#e2bc2b 45.56%,#c9c129 45.83%,#9fc941 46.11%,#9fc942 46.39%,#a6c83d 46.94%,#c3c22b 47.22%,#eeba34 47.5%,#fec736 47.78%,#f5ec22 48.33%,#f8f917 49.44%,#f9fb15 50.56%,#f6f31d 52.5%,#f5e228 53.06%,#fdce31 53.33%,#f3ba39 53.61%,#bac430 53.89%,#93ca4b 54.17%,#7acc5e 55.28%,#cdc028 55.83%,#d5be28 57.78%,#cdc028 58.06%,#93ca4b 58.61%,#83cc57 58.89%,#69cd6b 59.72%,#71cd65 60.83%,#90ca4d 61.94%,#82cc58 64.72%,#8fca4d 67.22%,#7acc5e 70%,#87cb54 73.33%,#6ecd66 80.28%,#6ecd67 90%,#aac73a 94.44%,#aac73a)"></i><i style="top:319.2px;height:9px;background:linear-gradient(90deg,#8acb52,#8acb52 6.67%,#68cd6b 13.33%,#68cd6b 22.22%,#bbc42f 27.78%,#b7c532 30%,#89cb53 31.39%,#81cc58 33.33%,#a0c841 34.44%,#afc637 36.11%,#b0c636 37.22%,#9cc944 38.33%,#8bcb51 40%,#8ccb50 41.94%,#bdc32f 42.5%,#d2bf27 42.78%,#d8be28 45.56%,#b5c533 45.83%,#85cb56 46.11%,#94ca4a 46.94%,#bdc32e 47.22%,#efba35 47.5%,#fec934 47.78%,#f5ed22 48.33%,#f9fb15 50.56%,#f8f917 51.94%,#f5ee21 52.78%,#fdcb32 53.33%,#eaba31 53.61%,#a3c83e 53.89%,#7fcc5a 54.17%,#65cd6e 55.28%,#c5c22a 55.83%,#cac129 57.78%,#bec32e 58.06%,#7dcc5b 58.61%,#65cd6e 58.89%,#3fca8e 59.44%,#38c896 59.72%,#3dca90 60.83%,#55cc7b 61.94%,#58cc79 62.78%,#43ca8b 64.72%,#5fcd73 67.22%,#3cc991 70%,#58cc79 73.33%,#42ca8b 77.78%,#42ca8b 90%,#5ccc76 94.44%,#5ccc76)"></i><i style="top:327.6px;height:9px;background:linear-gradient(90deg,#50cc80,#50cc80 6.67%,#38c896 13.33%,#38c896 22.22%,#5dcc75 24.72%,#80cc59 26.11%,#9dc943 27.78%,#97ca48 30%,#57cc7a 31.39%,#4ecc81 33.33%,#76cc61 34.44%,#8acb52 35.56%,#8dcb4f 37.22%,#6fcd66 38.33%,#5dcc75 39.72%,#5acc77 41.67%,#5fcd73 41.94%,#adc738 42.5%,#cac129 42.78%,#d2bf27 45.56%,#a4c83e 45.83%,#76cc61 46.11%,#88cb53 46.94%,#bdc32e 47.22%,#f2ba38 47.5%,#fdcb33 47.78%,#f5ed22 48.33%,#f8f917 49.44%,#f9fb15 50.83%,#f8f917 51.94%,#f5ed22 52.78%,#fec934 53.33%,#e0bc2a 53.61%,#8fcb4e 53.89%,#71cd64 54.17%,#5bcc76 55%,#5dcc75 55.28%,#92ca4c 55.56%,#bdc32e 55.83%,#c2c22c 57.78%,#b2c635 58.06%,#6dcd68 58.61%,#57cc7a 58.89%,#36c899 59.44%,#32c69e 59.72%,#36c899 60.83%,#45cb89 61.67%,#4dcc82 62.78%,#37c898 64.72%,#58cc79 67.22%,#32c69f 70%,#51cc7f 73.33%,#3dc990 75.56%,#38c896 77.5%,#38c896)"></i><i style="top:336px;height:9px;background:linear-gradient(90deg,#7acc5d,#7acc5d 6.67%,#5acc77 13.33%,#5acc77 22.22%,#9ec943 26.11%,#b4c534 27.78%,#afc637 30%,#7ccc5c 31.39%,#79cc5e 31.94%,#74cd62 33.33%,#96ca48 34.44%,#9ec943 35%,#a8c73b 37.22%,#91ca4c 38.33%,#7ecc5a 40%,#7ecc5a 41.67%,#86cb55 41.94%,#bec32e 42.5%,#d0bf27 42.78%,#d6be28 45.28%,#d4bf28 45.56%,#82cc58 46.11%,#92ca4b 46.94%,#c9c129 47.22%,#f8ba3d 47.5%,#fdcd31 47.78%,#f5ed21 48.33%,#f8f917 49.44%,#f9fb15 50.83%,#f8f917 51.94%,#f5ec22 52.78%,#fec735 53.33%,#dbbd29 53.61%,#8dcb50 53.89%,#7acc5d 54.17%,#65cd6e 55%,#6dcd68 55.28%,#a0c841 55.56%,#c3c22b 55.83%,#c8c129 57.78%,#b5c533 58.06%,#73cd63 58.61%,#5ecd74 58.89%,#3cc991 59.44%,#39c895 59.72%,#3bc992 60.56%,#56cc7b 61.94%,#59cc78 62.78%,#41ca8c 64.72%,#61cd72 67.22%,#3bc992 70%,#58cc79 73.33%,#42ca8b 75.83%,#3bc992 78.06%,#39c895)"></i><i style="top:344.4px;height:9px;background:linear-gradient(90deg,#f9ba3d,#f9ba3d 6.67%,#eeba34 13.06%,#eeba34 22.5%,#f7ba3c 27.22%,#f2ba38 41.67%,#e3bc2c 42.78%,#e8bb2f 45.28%,#e3bb2c 45.56%,#c2c22c 45.83%,#abc739 46.11%,#b3c534 46.94%,#ddbd29 47.22%,#fcbd3d 47.5%,#f5e427 48.06%,#f5ee21 48.33%,#f8f818 49.17%,#f9fb15 50.56%,#f8f917 51.94%,#f5ec22 52.78%,#fec537 53.33%,#e0bc2a 53.61%,#a3c83f 53.89%,#8ccb50 55%,#99c946 55.28%,#c2c22c 55.56%,#d8be28 55.83%,#dcbd29 57.78%,#c9c129 58.06%,#95ca49 58.61%,#88cb53 59.44%,#8dcb50 60.56%,#acc739 61.67%,#adc638 61.94%,#9dc943 70%,#a1c840 73.33%,#8fcb4e 80.28%,#8fcb4e 90%,#acc738 94.44%,#acc738)"></i><i style="top:352.8px;height:9px;background:linear-gradient(90deg,#c8c129,#c8c129 6.67%,#b3c534 13.33%,#b3c534 22.22%,#d0bf27 25.83%,#dcbd29 27.78%,#dabd28 30%,#c5c22a 31.39%,#c2c22c 33.33%,#d0c027 34.44%,#d7be28 36.94%,#c7c129 39.72%,#c6c22a 41.67%,#dbbd28 42.78%,#e0bc2b 45.28%,#d6be28 45.56%,#aec637 45.83%,#99c946 46.11%,#aac73a 46.94%,#dcbd29 47.22%,#febe3c 47.5%,#f5e626 48.06%,#f5ee21 48.33%,#f8f818 49.17%,#f9fb15 50.56%,#f8f817 51.94%,#f6f01f 52.5%,#f5ea24 52.78%,#fec13a 53.33%,#d3bf27 53.61%,#92ca4b 53.89%,#79cc5e 55%,#8ecb4f 55.28%,#bac430 55.56%,#cfc028 55.83%,#d3bf27 57.78%,#bbc42f 58.06%,#80cc59 58.61%,#43ca8b 59.44%,#45cb88 60.56%,#62cd71 61.67%,#61cd72 63.06%,#54cc7c 64.72%,#64cd6f 67.22%,#4ecc81 70%,#5ecd74 73.33%,#51cc7e 77.78%,#51cc7e)"></i><i style="top:361.2px;height:9px;background:linear-gradient(90deg,#f9ba3d,#f9ba3d 6.67%,#eeba34 13.06%,#eeba34 22.5%,#f7ba3c 27.22%,#f2ba38 41.67%,#e3bc2c 42.78%,#e8bb2f 45.28%,#dcbd29 45.56%,#b9c430 45.83%,#acc739 46.11%,#b1c635 46.67%,#bdc32e 46.94%,#e6bb2d 47.22%,#fec13a 47.5%,#f5e825 48.06%,#f5ef21 48.33%,#f8f817 49.17%,#f9fb15 50.56%,#f8f817 51.94%,#f6ef20 52.5%,#f5e825 52.78%,#febe3c 53.33%,#d3bf27 53.61%,#a1c840 53.89%,#9bc944 54.17%,#8bcb51 55%,#a3c83f 55.28%,#cac129 55.56%,#d8be28 55.83%,#dcbd29 57.78%,#c3c22b 58.06%,#94ca4a 58.61%,#87cb54 59.44%,#8dcb4f 60.56%,#adc638 61.67%,#9dc943 70%,#a1c840 73.33%,#8fcb4e 80.28%,#8fcb4e 90%,#b7c531 92.5%,#d3bf27 94.44%,#d3bf27)"></i><i style="top:369.6px;height:9px;background:linear-gradient(90deg,#9fc942,#9fc942 6.67%,#87cb54 13.33%,#87cb54 22.22%,#bac430 26.11%,#c9c129 27.78%,#c6c22a 30%,#a2c83f 31.39%,#9cc943 33.33%,#bac430 35%,#c1c32d 37.22%,#a4c83e 40%,#a4c83e 41.67%,#d1bf27 42.5%,#d6be28 42.78%,#dcbd29 45.28%,#c7c12a 45.56%,#99c946 45.83%,#90ca4d 46.11%,#99c946 46.67%,#b0c636 46.94%,#e4bb2c 47.22%,#fec338 47.5%,#f5eb23 48.06%,#f8f917 49.44%,#f8f818 51.94%,#f5ef20 52.5%,#fbd12f 53.06%,#fabb3d 53.33%,#bfc32d 53.61%,#88cb53 53.89%,#81cc59 54.17%,#6ccd68 55%,#8fcb4e 55.28%,#bec32e 55.56%,#c9c129 55.83%,#cdc028 57.5%,#cac129 57.78%,#8dcb4f 58.33%,#78cc5f 58.61%,#5acc77 59.44%,#61cd72 60.56%,#81cc59 61.67%,#84cc56 62.78%,#6dcd68 64.72%,#88cb53 67.22%,#64cd6f 70%,#7bcc5d 73.33%,#61cd72 75.56%,#43ca8a 80.56%,#43ca8a 90%,#5dcc75 94.44%,#5dcc75)"></i><i style="top:378px;height:9px;background:linear-gradient(90deg,#9fc942,#9fc942 6.67%,#87cb54 13.33%,#87cb54 22.22%,#bac430 26.11%,#c9c129 27.78%,#c6c22a 30%,#a2c83f 31.39%,#9cc943 33.33%,#bac430 35%,#c1c32d 37.22%,#a4c83e 40%,#a4c83e 41.67%,#d3bf27 42.5%,#dcbd29 45.28%,#c2c22c 45.56%,#94ca4a 45.83%,#90ca4d 46.11%,#99c946 46.67%,#b7c532 46.94%,#e9bb2f 47.22%,#fec537 47.5%,#f5ec22 48.06%,#f8f917 49.17%,#f8f719 51.94%,#f5ee21 52.5%,#fccf30 53.06%,#f5ba3a 53.33%,#b6c532 53.61%,#87cb54 53.89%,#6bcd69 55%,#c3c22b 55.56%,#cdc028 57.22%,#c7c12a 57.78%,#6ecd67 58.61%,#43ca8a 59.17%,#38c896 59.44%,#3cc991 60.56%,#55cc7b 61.67%,#58cc79 62.78%,#44cb89 64.72%,#5bcc76 67.22%,#3eca8f 70%,#52cc7e 73.33%,#3fca8e 75.56%,#33c69d 80.56%,#3ac994)"></i><i style="top:386.4px;height:9px;background:linear-gradient(90deg,#5dcc75,#5dcc75 6.67%,#41ca8c 13.33%,#41ca8c 22.22%,#68cd6b 24.72%,#8acb52 26.11%,#a5c83e 27.78%,#9fc942 30%,#62cd70 31.39%,#5acc77 33.33%,#81cc59 34.44%,#93ca4b 35.56%,#96ca48 37.22%,#7acc5d 38.33%,#65cd6e 40%,#65cd6e 41.67%,#abc739 42.22%,#cbc129 42.5%,#d3bf27 45.28%,#b0c636 45.56%,#7bcc5d 45.83%,#8acb51 46.67%,#b3c534 46.94%,#ebba31 47.22%,#fec735 47.5%,#f5ec22 48.06%,#f8f917 49.17%,#f9fb15 50.28%,#f8f917 51.67%,#f5ee21 52.5%,#fdcd32 53.06%,#ecba32 53.33%,#a2c83f 53.61%,#76cc61 53.89%,#59cc78 55%,#bdc32e 55.56%,#c4c22b 57.5%,#bac430 57.78%,#76cc60 58.33%,#42ca8c 58.89%,#2cc4a7 59.44%,#2fc5a2 60.56%,#43ca8a 62.5%,#31c6a0 64.72%,#49cb85 67.22%,#2dc4a6 70%,#43ca8a 73.33%,#35c79a 75.56%,#32c69f 77.78%,#32c69f)"></i><i style="top:394.8px;height:9px;background:linear-gradient(90deg,#f9ba3d,#f9ba3d 6.67%,#eeba34 13.06%,#eeba34 22.5%,#f7ba3c 27.22%,#f2ba38 41.39%,#e2bc2c 42.5%,#e9bb2f 45.28%,#cdc028 45.56%,#aac73a 45.83%,#b2c535 46.67%,#d2bf27 46.94%,#f5ba3b 47.22%,#feca33 47.5%,#f5ed22 48.06%,#f8f917 49.17%,#f9fb15 50.28%,#f6f21e 52.22%,#f5ed21 52.5%,#fdca33 53.06%,#eeba34 53.33%,#b7c532 53.61%,#9ec942 53.89%,#8dcb50 55%,#b6c532 55.28%,#d7be28 55.56%,#dcbd29 57.5%,#d1bf27 57.78%,#9ac946 58.33%,#78cc5f 59.44%,#7dcc5c 60.28%,#9bc945 61.39%,#9ec943 61.94%,#94ca4a 64.72%,#99c946 67.22%,#8ecb4e 70%,#90ca4d 73.33%,#70cd65 80.56%,#70cd65)"></i><i style="top:403.2px;height:9px;background:linear-gradient(90deg,#9fc942,#9fc942 6.67%,#87cb54 13.33%,#87cb54 22.22%,#bac430 26.11%,#c9c129 27.78%,#c6c22a 30%,#a2c83f 31.39%,#9cc943 33.33%,#bac430 35%,#c1c32d 37.22%,#a4c83e 40%,#a4c83e 41.39%,#a7c73c 41.67%,#c9c129 42.22%,#d5be28 42.5%,#dcbd29 45.28%,#b3c534 45.56%,#8dcb4f 45.83%,#9bc945 46.67%,#cac129 46.94%,#f6ba3b 47.22%,#fdcc32 47.5%,#f5ed21 48.06%,#f8f917 49.17%,#f9fb15 50.56%,#f8f917 51.67%,#f5ed22 52.5%,#fec834 53.06%,#e2bc2b 53.33%,#9bc945 53.61%,#84cb56 53.89%,#70cd65 54.72%,#74cc62 55%,#a5c83d 55.28%,#c9c129 55.56%,#cec028 57.5%,#bdc32e 57.78%,#7ecc5b 58.33%,#52cc7e 59.17%,#4ecc81 59.44%,#52cc7e 60.28%,#72cd64 61.67%,#76cc61 62.5%,#5ecd74 64.72%,#78cc5f 67.22%,#56cc7a 70%,#71cd64 73.33%,#5dcc75 77.78%,#5dcc75)"></i><i style="top:411.6px;height:8.4px;background:linear-gradient(90deg,#f2ba37,#eeba34 11.11%,#d7be28 11.94%,#bbc42f 12.78%,#52cc7e 13.61%,#38c896 13.89%,#38c896 15.28%,#59cc78 15.56%,#afc637 16.11%,#d4be28 16.39%,#fbbc3d 17.22%,#fbbc3d 21.11%,#d3bf27 22.5%,#90ca4d 25%,#c8c129 26.11%,#e0bc2a 26.67%,#e0bc2a 30.56%,#c8c129 31.11%,#90ca4d 32.22%,#bbc42f 34.44%,#eeba34 34.72%,#ebba32 41.39%,#e1bc2b 42.5%,#e7bb2d 45%,#e4bb2c 45.28%,#c2c22c 45.56%,#a7c73c 45.83%,#b0c636 46.67%,#dabd28 46.94%,#fbbc3d 47.22%,#f5ee21 48.06%,#f9fb15 50.28%,#f8f917 51.67%,#f5ec22 52.5%,#fec636 53.06%,#e2bc2b 53.33%,#a5c83d 53.61%,#9ac945 53.89%,#89cb52 54.72%,#93ca4b 55%,#bdc32f 55.28%,#d6be28 55.56%,#d6be28 55.83%,#90ca4d 56.11%,#48cb86 57.22%,#3dc990 58.89%,#71cd64 60.56%,#81cc59 63.89%,#77cc60 69.44%,#90ca4d 73.33%,#cdc028 75.28%,#f2ba37 77.22%,#f5ba3a 97.22%,#eaba31)"></i></div><div class="p" style="left:903px;top:21.1px;width:477px;height:420px"><i style="top:0px;height:9px;background:linear-gradient(90deg,#febe3c,#fcbd3d 37.5%,#f2ba37 40%,#f0ba36 49.17%,#f8ba3d 50%,#fec636 50.56%,#f6f01f 51.39%,#f9fb15 52.22%,#f6f01f 53.06%,#fcbd3d 54.17%,#f4ba3a 54.72%,#eaba31 60.83%,#eaba31)"></i><i style="top:8.4px;height:9px;background:linear-gradient(90deg,#fcbc3d,#fabb3d 37.5%,#eeba34 40%,#ecba33 49.17%,#eeba35 49.72%,#f7ba3c 50%,#fec735 50.56%,#f6f21e 51.39%,#f9fb15 52.22%,#f6ef20 53.06%,#fec438 53.89%,#f7ba3c 54.44%,#edba34 55.28%,#e6bb2d 61.11%,#e6bb2d)"></i><i style="top:16.8px;height:9px;background:linear-gradient(90deg,#fcbc3d,#fabb3d 37.5%,#eeba34 40%,#f2ba38 49.72%,#febd3c 50.28%,#f6f31d 51.39%,#f9fb15 52.22%,#f5ee21 53.06%,#fec338 53.89%,#f7ba3c 54.72%,#eeba35 60.56%,#eeba34)"></i><i style="top:25.2px;height:9px;background:linear-gradient(90deg,#d3bf27,#d3bf27 8.06%,#cdc028 8.33%,#d0c027 37.5%,#bec32e 40%,#bec32e 47.78%,#c7c129 49.44%,#ebba31 50%,#fdbd3d 50.28%,#f7f41c 51.39%,#f9fa15 52.22%,#f8f719 52.78%,#fec239 53.89%,#f8ba3d 54.17%,#ddbd29 54.72%,#d6be28 55%,#cdc028 61.11%,#cdc028)"></i><i style="top:33.6px;height:9px;background:linear-gradient(90deg,#dabd28,#dabd28 8.06%,#d4be28 8.33%,#d7be28 37.5%,#c6c22a 40%,#c6c22a 47.78%,#ccc028 49.44%,#d9be28 49.72%,#eeba34 50%,#febd3c 50.28%,#f7f51b 51.39%,#f9fa16 51.94%,#f8f619 52.78%,#fec13a 53.89%,#f7ba3c 54.17%,#dbbd29 54.72%,#d6be28 55%,#cdc028 61.11%,#cdc028)"></i><i style="top:42px;height:9px;background:linear-gradient(90deg,#febe3c,#fcbd3d 37.5%,#f2ba37 40%,#f4ba39 49.72%,#febe3c 50.28%,#f7f61a 51.39%,#f9fa15 52.22%,#f8f61a 52.78%,#fec03b 53.89%,#f7ba3c 54.44%,#eaba31 60.83%,#eaba31)"></i><i style="top:50.4px;height:9px;background:linear-gradient(90deg,#fabb3d,#f9ba3d 37.5%,#ecba32 40%,#eaba31 49.44%,#f0ba36 49.72%,#febf3b 50.28%,#f7f61a 51.39%,#f9fa16 51.94%,#f8f61a 52.78%,#febf3c 53.89%,#f4ba39 54.44%,#ebba32 55.28%,#e4bb2c 60.83%,#e4bb2c)"></i><i style="top:58.8px;height:9px;background:linear-gradient(90deg,#fabb3d,#f9ba3d 37.5%,#ecba32 40%,#e8bb2f 49.44%,#f0ba36 49.72%,#fec03a 50.28%,#f8f61a 51.39%,#f9fa15 51.94%,#f7f61a 52.78%,#febe3c 53.89%,#f8ba3d 54.17%,#e8bb2f 54.72%,#e0bc2b 60.56%,#e0bc2a)"></i><i style="top:67.2px;height:9px;background:linear-gradient(90deg,#f2ba38,#f0ba36 37.5%,#e2bc2b 40%,#e3bc2c 49.44%,#eeba34 49.72%,#f9bb3d 50%,#fec13a 50.28%,#f8f61a 51.39%,#f9fa15 51.94%,#f7f51b 52.78%,#fdbd3d 53.89%,#f8ba3d 54.17%,#e8bb2f 54.72%,#e0bc2b 60.56%,#e0bc2a)"></i><i style="top:75.6px;height:9px;background:linear-gradient(90deg,#febf3b,#fdbd3d 37.5%,#f3ba39 40%,#eeba34 49.44%,#f5ba3a 49.72%,#fec239 50.28%,#f8f719 51.39%,#f9fa16 52.22%,#f7f41c 52.78%,#fdbd3d 53.89%,#f8ba3d 54.17%,#ecba32 54.72%,#e4bb2c 60.56%,#e4bb2c)"></i><i style="top:84px;height:9px;background:linear-gradient(90deg,#f8ba3d,#f5ba3a 37.5%,#e8bb2f 40%,#e6bb2d 49.17%,#e6bb2d 49.44%,#f1ba37 49.72%,#fabb3d 50%,#fec338 50.28%,#f8f719 51.39%,#f9fb15 51.94%,#f7f31d 52.78%,#fec835 53.61%,#f7ba3c 54.17%,#e8bb2f 54.72%,#e0bc2a 60.56%,#e0bc2a)"></i><i style="top:92.4px;height:9px;background:linear-gradient(90deg,#dfbc2a,#dfbc2a 8.06%,#d9be28 8.33%,#dbbd29 37.5%,#cbc129 40%,#cbc129 47.5%,#d1bf27 49.17%,#d6be28 49.44%,#eaba31 49.72%,#fabb3d 50%,#fec636 50.28%,#f6f01f 51.11%,#f9fb15 51.94%,#f6f01f 52.78%,#fec537 53.61%,#fabc3d 53.89%,#f1ba37 54.17%,#ddbd29 54.72%,#d4be28 60.83%,#d4be28)"></i><i style="top:100.8px;height:9px;background:linear-gradient(90deg,#f4ba3a,#f2ba37 37.5%,#e4bb2c 40%,#e4bb2c 49.17%,#f4ba3a 49.72%,#fdbd3d 50%,#fec934 50.28%,#f7f31d 51.11%,#f9fb15 51.94%,#f8f719 52.5%,#fec239 53.61%,#f3ba39 54.17%,#e8bb2f 54.72%,#e0bc2b 60.28%,#e0bc2a)"></i><i style="top:109.2px;height:9px;background:linear-gradient(90deg,#ebba31,#e8bb2f 37.5%,#d9be28 40%,#d9bd28 47.5%,#debc2a 49.17%,#f5ba3a 49.72%,#febe3c 50%,#f7f61a 51.11%,#f9fa16 51.67%,#f8f61a 52.5%,#fec03b 53.61%,#f2ba38 54.17%,#e7bb2e 55%,#e0bc2b 60.28%,#e0bc2a)"></i><i style="top:117.6px;height:9px;background:linear-gradient(90deg,#fcbc3d,#fabb3d 37.5%,#eeba34 40%,#ebba32 49.17%,#f2ba38 49.44%,#fec13a 50%,#f8f61a 51.11%,#f9fa16 51.94%,#f7f61a 52.5%,#fdbd3d 53.61%,#f3ba38 54.17%,#ecba32 54.44%,#e4bb2c 60.56%,#e4bb2c)"></i><i style="top:126px;height:9px;background:linear-gradient(90deg,#fec339,#febe3c 38.33%,#f3ba39 49.17%,#f9ba3d 49.44%,#fec338 50%,#f8f719 51.11%,#f9fb15 51.67%,#f7f31d 52.5%,#fdbd3d 53.61%,#f5ba3b 54.17%,#eaba31 60.28%,#eaba31)"></i><i style="top:134.4px;height:9px;background:linear-gradient(90deg,#f8ba3d,#f5ba3a 37.5%,#e8bb2f 40%,#e8bb2f 48.89%,#f4ba3a 49.44%,#fec636 50%,#f6f01f 50.83%,#f9fb15 51.67%,#f6f01f 52.5%,#fec537 53.33%,#f7ba3c 53.89%,#ebba32 54.72%,#e4bb2c 60.28%,#e4bb2c)"></i><i style="top:142.8px;height:9px;background:linear-gradient(90deg,#fabb3d,#f9ba3d 37.5%,#ecba32 40%,#e8bb2f 48.89%,#f6ba3b 49.44%,#fdbd3d 49.72%,#f7f31d 50.83%,#f9fb15 51.67%,#f8f719 52.22%,#fec239 53.33%,#f3ba39 53.89%,#e8bb2f 54.44%,#e0bc2b 60%,#e0bc2a)"></i><i style="top:151.2px;height:9px;background:linear-gradient(90deg,#f2ba38,#f0ba36 37.5%,#e2bc2b 40%,#e2bc2b 48.06%,#e3bc2c 48.89%,#f6ba3c 49.44%,#febe3c 49.72%,#f7f61a 50.83%,#f9fa16 51.39%,#f8f61a 52.22%,#fec03b 53.33%,#f2ba38 53.89%,#e7bb2e 54.72%,#e0bc2b 60%,#e0bc2a)"></i><i style="top:159.6px;height:9px;background:linear-gradient(90deg,#e9bb30,#e6bb2d 37.5%,#d7be28 40%,#d7be28 47.22%,#dcbd29 48.89%,#f7ba3c 49.44%,#fec13a 49.72%,#f8f61a 50.83%,#f9fa15 51.39%,#f7f61a 52.22%,#fdbd3d 53.33%,#f8ba3d 53.61%,#e6bb2d 54.17%,#debc2a 59.72%,#debd29)"></i><i style="top:168px;height:9px;background:linear-gradient(90deg,#fabb3d,#f7ba3c 34.17%,#fdbd3d 34.44%,#fdbd3d 37.5%,#ecba32 40%,#eaba31 48.61%,#f3ba39 49.17%,#fec338 49.72%,#f8f719 50.83%,#f9fb15 51.39%,#f7f31d 52.22%,#fec835 53.06%,#f8ba3d 53.61%,#ecba32 54.17%,#e4bb2c 60%,#e4bb2c)"></i><i style="top:176.4px;height:9px;background:linear-gradient(90deg,#fabb3d,#f7ba3c 34.17%,#fdbd3d 34.44%,#fdbd3d 37.5%,#ecba32 40%,#e9bb30 48.33%,#eaba31 48.89%,#f4ba39 49.17%,#fcbc3d 49.44%,#fec636 49.72%,#f6f01f 50.56%,#f9fb15 51.39%,#f6f11f 52.22%,#fec537 53.06%,#f5ba3b 53.61%,#e8bb2f 54.17%,#e0bc2b 59.72%,#e0bc2a)"></i><i style="top:184.8px;height:9px;background:linear-gradient(90deg,#e3bc2c,#debd29 34.17%,#e8bb2f 34.44%,#e8bb2f 37.5%,#debd29 37.78%,#d0c027 40%,#d0bf27 46.94%,#d6be28 48.61%,#debd29 48.89%,#efba35 49.17%,#fcbd3d 49.44%,#f6f31d 50.56%,#f9fb15 51.39%,#f8f719 51.94%,#fec338 53.06%,#fabb3d 53.33%,#f1ba37 53.61%,#e2bc2b 54.17%,#d9bd28 60%,#d9be28)"></i><i style="top:193.2px;height:9px;background:linear-gradient(90deg,#fabb3d,#f7ba3c 34.17%,#fdbd3d 34.44%,#fdbd3d 37.5%,#ecba32 40%,#ebba32 47.78%,#ebba31 48.61%,#f8ba3d 49.17%,#febe3c 49.44%,#f7f51b 50.56%,#f9fa16 51.11%,#f8f61a 51.94%,#fec13a 53.06%,#f6ba3b 53.61%,#edba33 54.44%,#e6bb2d 60%,#e6bb2d)"></i><i style="top:201.6px;height:9px;background:linear-gradient(90deg,#e5bb2d,#e0bc2a 34.17%,#eaba31 34.44%,#eaba31 37.5%,#e0bc2a 37.78%,#d2bf27 40%,#d2bf27 46.67%,#d9be28 48.61%,#f5ba3a 49.17%,#fec03b 49.44%,#f8f61a 50.56%,#f9fa16 51.11%,#f7f61a 51.94%,#febe3c 53.06%,#f8ba3d 53.33%,#e5bb2d 53.89%,#dbbd29 60.28%,#dbbd29)"></i><i style="top:210px;height:9px;background:linear-gradient(90deg,#efba35,#eaba31 34.17%,#f3ba39 34.44%,#f3ba39 37.5%,#eaba31 37.78%,#debd29 40%,#debc2a 47.22%,#e1bc2b 48.61%,#edba33 48.89%,#f9bb3d 49.17%,#fec239 49.44%,#f8f619 50.56%,#f9fa15 51.11%,#f7f51b 51.94%,#fdbd3d 53.06%,#f7ba3c 53.33%,#e8bb2f 53.89%,#e0bc2a 59.72%,#e0bc2a)"></i><i style="top:218.4px;height:9px;background:linear-gradient(90deg,#fec13a,#febe3c 34.17%,#fec437 34.44%,#fec437 37.5%,#f8ba3d 39.72%,#f5ba3a 48.61%,#fec437 49.44%,#f5ef20 50.28%,#f9fb15 51.11%,#f6f21e 51.94%,#fdbd3d 53.06%,#f8ba3d 53.61%,#eeba34 59.72%,#eeba34)"></i><i style="top:226.8px;height:9px;background:linear-gradient(90deg,#f8ba3d,#f3ba39 34.17%,#fbbc3d 34.44%,#fbbc3d 37.5%,#f3ba39 37.78%,#e8bb2f 40%,#e8bb2f 48.33%,#f5ba3a 48.89%,#fec736 49.44%,#f6f11e 50.28%,#f9fb15 51.11%,#f6f020 51.94%,#fec437 52.78%,#f6ba3c 53.33%,#ebba32 54.17%,#e4bb2c 59.72%,#e4bb2c)"></i><i style="top:235.2px;height:9px;background:linear-gradient(90deg,#f6ba3b,#f2ba37 34.17%,#fabb3d 34.44%,#fabb3d 37.5%,#f2ba37 37.78%,#e6bb2d 40%,#e5bb2d 48.06%,#eaba31 48.61%,#f5ba3b 48.89%,#fdbd3d 49.17%,#f7f41c 50.28%,#f9fa15 51.11%,#f8f719 51.67%,#fec239 52.78%,#f3ba39 53.33%,#e8bb2f 53.89%,#e0bc2b 59.44%,#e0bc2a)"></i><i style="top:243.6px;height:9px;background:linear-gradient(90deg,#e1bc2b,#dbbd29 34.17%,#e6bb2d 34.44%,#e6bb2d 37.5%,#dbbd29 37.78%,#cdc028 40%,#cdc028 46.39%,#d3bf27 48.33%,#e0bc2a 48.61%,#f2ba38 48.89%,#febf3c 49.17%,#f7f61a 50.28%,#f9fa16 50.83%,#f8f61a 51.67%,#febf3b 52.78%,#f7ba3c 53.06%,#e0bc2a 53.61%,#ddbd29 53.89%,#d4be28 60%,#d4be28)"></i><i style="top:252px;height:9px;background:linear-gradient(90deg,#dfbc2a,#d9be28 34.17%,#e4bb2c 34.44%,#e4bb2c 37.5%,#d9be28 37.78%,#cbc129 40%,#cbc029 46.67%,#d2bf27 48.33%,#f4ba3a 48.89%,#fec13a 49.17%,#f8f61a 50.28%,#f9fa15 50.83%,#f7f61a 51.67%,#fdbd3d 52.78%,#f5ba3a 53.06%,#debd29 53.61%,#d4be28 60%,#d4be28)"></i><i style="top:260.4px;height:9px;background:linear-gradient(90deg,#e5bb2d,#e0bc2a 34.17%,#eaba31 34.44%,#eaba31 37.5%,#e0bc2a 37.78%,#d2bf27 40%,#d2bf27 46.39%,#d8be28 48.33%,#f8ba3d 48.89%,#fec339 49.17%,#f8f719 50.28%,#f9fa15 50.83%,#f7f41c 51.67%,#fdbd3d 52.78%,#f5ba3a 53.06%,#e2bc2b 53.61%,#d9bd28 59.72%,#d9be28)"></i><i style="top:268.8px;height:9px;background:linear-gradient(90deg,#febe3c,#fec13a 37.5%,#f2ba37 40%,#f2ba38 48.33%,#f8ba3d 48.61%,#fec437 49.17%,#f5ef20 50%,#f9fb15 50.83%,#f6f21e 51.67%,#fdbd3d 52.78%,#f8ba3d 53.33%,#eeba34 59.44%,#eeba34)"></i><i style="top:277.2px;height:9px;background:linear-gradient(90deg,#dabd28,#d4be28 34.17%,#e0bc2a 34.44%,#e0bc2a 37.5%,#d4be28 37.78%,#c6c22a 40%,#c6c22a 46.39%,#ccc028 48.06%,#d3bf27 48.33%,#fabb3d 48.89%,#f6f11f 50%,#f9fb15 50.83%,#f6f01f 51.67%,#fabb3d 52.78%,#efba35 53.06%,#d9be28 53.61%,#d0bf27 59.44%,#d0c027)"></i><i style="top:285.6px;height:9px;background:linear-gradient(90deg,#f8ba3d,#f3ba39 34.17%,#fbbc3d 34.44%,#fbbc3d 37.5%,#f3ba39 37.78%,#e8bb2f 40%,#e3bb2c 48.06%,#f4ba39 48.61%,#fdbd3d 48.89%,#f6f31d 50%,#f9fb15 50.83%,#f8f719 51.39%,#f6e028 51.94%,#fec338 52.5%,#fabb3d 52.78%,#f1ba37 53.06%,#e2bc2b 53.61%,#d9bd28 59.44%,#d9be28)"></i><i style="top:294px;height:9px;background:linear-gradient(90deg,#e5bb2d,#e0bc2a 34.17%,#eaba31 34.44%,#eaba31 37.5%,#e0bc2a 37.78%,#d2bf27 40%,#d2bf27 46.39%,#d8be28 48.06%,#f1ba37 48.61%,#febd3c 48.89%,#f7f51b 50%,#f9fa16 50.56%,#f8f619 51.39%,#f6de29 51.94%,#fec13a 52.5%,#f0ba36 53.06%,#e2bc2b 53.61%,#d9bd28 59.44%,#d9be28)"></i><i style="top:302.4px;height:9px;background:linear-gradient(90deg,#dfbc2a,#d9be28 34.17%,#e4bb2c 34.44%,#e4bb2c 37.5%,#d9be28 37.78%,#cbc129 40%,#cbc029 46.39%,#d2bf27 48.06%,#e0bc2a 48.33%,#f2ba38 48.61%,#febf3c 48.89%,#f7f61a 50%,#f9fa16 50.56%,#f8f61a 51.39%,#febf3b 52.5%,#f7ba3c 52.78%,#e0bc2a 53.33%,#ddbd29 53.61%,#d4be28 59.72%,#d4be28)"></i><i style="top:310.8px;height:9px;background:linear-gradient(90deg,#febe3c,#fec13a 37.5%,#f2ba37 40%,#f6ba3c 48.33%,#fec13a 48.89%,#f8f61a 50%,#f9fa16 50.83%,#f7f61a 51.39%,#febd3c 52.5%,#f9ba3d 53.06%,#eeba34 59.17%,#eeba34)"></i><i style="top:319.2px;height:9px;background:linear-gradient(90deg,#e9bb30,#e4bb2c 34.17%,#eeba34 34.44%,#eeba34 37.5%,#e4bb2c 37.78%,#d7be28 40%,#d7be28 46.39%,#dabd28 48.06%,#f8ba3d 48.61%,#fec239 48.89%,#f8f719 50%,#f9fa15 50.56%,#f7f41c 51.39%,#fdbd3d 52.5%,#f5ba3b 52.78%,#e2bc2b 53.33%,#d9bd28 59.44%,#d9be28)"></i><i style="top:327.6px;height:9px;background:linear-gradient(90deg,#c2c22c,#c2c22c 8.06%,#bbc42f 8.33%,#bbc42f 34.17%,#c8c129 34.44%,#c8c129 37.5%,#bbc42f 37.78%,#abc739 40%,#abc739 46.11%,#b8c431 48.06%,#dabd28 48.33%,#f5ba3a 48.61%,#fec437 48.89%,#f5ee21 49.72%,#f9fb15 50.56%,#f6f21d 51.39%,#fec735 52.22%,#fabc3d 52.5%,#d7be28 53.06%,#c6c22a 53.33%,#bbc42f 59.44%,#bbc42f)"></i><i style="top:336px;height:9px;background:linear-gradient(90deg,#f8ba3d,#f3ba39 34.17%,#fbbc3d 34.44%,#fbbc3d 37.5%,#f3ba39 37.78%,#e8bb2f 40%,#e8bb2f 47.78%,#f4ba3a 48.33%,#fec636 48.89%,#f6f01f 49.72%,#f9fb15 50.56%,#f6f01f 51.39%,#fec537 52.22%,#f7ba3c 52.78%,#ebba32 53.61%,#e4bb2c 59.17%,#e4bb2c)"></i><i style="top:344.4px;height:9px;background:linear-gradient(90deg,#fec03b,#fdbd3d 34.17%,#fec338 34.44%,#fec338 37.5%,#f8ba3d 39.44%,#f4ba39 48.06%,#febd3c 48.61%,#f6f31d 49.72%,#f9fb15 50.56%,#f8f719 51.11%,#f6e028 51.67%,#fec338 52.22%,#f8ba3d 52.78%,#f1ba37 53.33%,#eaba31 59.17%,#eaba31)"></i><i style="top:352.8px;height:9px;background:linear-gradient(90deg,#fabb3d,#f7ba3c 34.17%,#fdbd3d 34.44%,#fdbd3d 37.5%,#ecba32 40%,#eaba31 47.5%,#f8ba3d 48.33%,#febe3c 48.61%,#f7f51b 49.72%,#f9fa16 50.28%,#f8f619 51.11%,#f6de29 51.67%,#fec13a 52.22%,#f5ba3a 52.78%,#ebba32 53.61%,#e4bb2c 59.17%,#e4bb2c)"></i><i style="top:361.2px;height:9px;background:linear-gradient(90deg,#febe3c,#fec13a 37.5%,#f2ba37 40%,#f3ba39 48.06%,#febf3b 48.61%,#f7f61a 49.72%,#f9fa16 50.56%,#f8f61a 51.11%,#febf3b 52.22%,#f5ba3a 52.78%,#edba33 53.61%,#e6bb2d 59.17%,#e6bb2d)"></i><i style="top:369.6px;height:9px;background:linear-gradient(90deg,#fabb3d,#f7ba3c 34.17%,#fdbd3d 34.44%,#fdbd3d 37.5%,#ecba32 40%,#e8bb2f 47.78%,#f1ba36 48.06%,#fec13a 48.61%,#f8f61a 49.72%,#f9fa15 50.28%,#f7f61a 51.11%,#fdbd3d 52.22%,#f8ba3d 52.5%,#e8bb2f 53.06%,#e0bc2b 58.89%,#e0bc2a)"></i><i style="top:378px;height:9px;background:linear-gradient(90deg,#fabb3d,#f7ba3c 34.17%,#fdbd3d 34.44%,#fdbd3d 37.5%,#ecba32 40%,#eaba31 47.5%,#f3ba39 48.06%,#fec338 48.61%,#f6df29 49.17%,#f8f719 49.72%,#f9fa15 50.28%,#f7f31c 51.11%,#fec835 51.94%,#f8ba3d 52.5%,#ecba32 53.06%,#e4bb2c 58.89%,#e4bb2c)"></i><i style="top:386.4px;height:9px;background:linear-gradient(90deg,#e5bb2d,#e0bc2a 34.17%,#eaba31 34.44%,#eaba31 37.5%,#e0bc2a 37.78%,#d2bf27 40%,#d2bf27 45.83%,#dabd28 47.78%,#ecba32 48.06%,#fabb3d 48.33%,#fec537 48.61%,#f6ef20 49.44%,#f9fb15 50.28%,#f6f11e 51.11%,#fec636 51.94%,#fbbc3d 52.22%,#f3ba39 52.5%,#e2bc2b 53.06%,#d9bd28 58.89%,#d9be28)"></i><i style="top:394.8px;height:9px;background:linear-gradient(90deg,#fabb3d,#f7ba3c 34.17%,#fdbd3d 34.44%,#fdbd3d 37.5%,#ecba32 40%,#eaba31 47.5%,#f6ba3b 48.06%,#fec735 48.61%,#f6f21e 49.44%,#f9fb15 50.28%,#f6ef20 51.11%,#fec438 51.94%,#f6ba3b 52.5%,#ebba32 53.33%,#e4bb2c 58.89%,#e4bb2c)"></i><i style="top:403.2px;height:9px;background:linear-gradient(90deg,#fabb3d,#f7ba3c 34.17%,#fdbd3d 34.44%,#fdbd3d 37.5%,#ecba32 40%,#eaba31 47.22%,#f7ba3c 48.06%,#febd3c 48.33%,#f7f41c 49.44%,#f9fa15 50.28%,#f8f719 50.83%,#fec239 51.94%,#f5ba3a 52.5%,#ebba32 53.33%,#e4bb2c 58.89%,#e4bb2c)"></i><i style="top:411.6px;height:8.4px;background:linear-gradient(90deg,#e5bb2d,#e0bc2a 34.17%,#eaba31 34.44%,#eaba31 37.5%,#e0bc2a 37.78%,#d2bf27 40%,#d2bf27 45.56%,#d8be28 47.5%,#f3ba38 48.06%,#febe3c 48.33%,#f7f61a 49.44%,#f9fa16 50%,#f8f61a 50.83%,#fec03b 51.94%,#f8ba3d 52.22%,#e4bb2c 52.78%,#e2bc2b 53.06%,#d9bd28 58.89%,#d9be28)"></i></div><div class="p" style="left:83px;top:582.9px;width:476.9px;height:420.2px"><i style="top:0px;height:9px;background:linear-gradient(90deg,#475bf9,#475bf9 1.67%,#4744e8 3.61%,#4539d9 4.58%,#3e26a8 6.67%,#3e26a8 33.06%,#463adb 33.33%,#4744e8 33.47%,#475af9 34.03%,#4757f7 34.44%,#4744e8 34.86%,#463adb 35%,#3e26a8 35.28%,#3e26a8 40.56%,#4538d7 41.25%,#4743e7 42.08%,#463adc 43.06%,#4331c8 43.47%,#3e26a8 43.89%,#3e26a8 45%,#473fe2 45.28%,#4755f6 45.56%,#0fb2d4 45.69%,#09bcbe 45.83%,#48cb86 46.11%,#09bcbe 46.39%,#0fb2d4 46.53%,#4755f6 46.67%,#473fe2 46.94%,#3e26a8 47.22%,#3e26a8 49.86%,#473ee1 50.42%,#4755f6 50.83%,#426afe 50.97%,#2797eb 51.11%,#2797eb 51.39%,#12beb9 51.53%,#f9fb15 51.67%,#f9fb15 51.94%,#f5eb23 52.08%,#fbbc3d 52.22%,#fbbc3d 52.5%,#88cb53 52.64%,#4563fc 52.78%,#4745e9 53.19%,#4434d0 53.47%,#3e28ac 53.75%,#3e26a8 53.89%,#3e26a8)"></i><i style="top:8.4px;height:9px;background:linear-gradient(90deg,#2d8cf3,#2d8cf3 10%,#3777fe 10.97%,#4564fd 11.81%,#4740e4 13.47%,#3e26a8 15%,#3e26a8 25%,#4433cb 25.56%,#463ee1 26.11%,#484ff2 27.64%,#4849ed 28.75%,#463ee1 29.44%,#4433cb 30%,#3e26a8 30.56%,#3e26a8 32.78%,#463cdf 33.06%,#465efb 33.47%,#3975fe 33.89%,#3080fb 34.31%,#317efb 34.72%,#3f6eff 35.14%,#4854f5 35.56%,#29c3aa 35.69%,#40ca8d 35.83%,#9fc942 36.11%,#40ca8d 36.39%,#29c3aa 36.53%,#484df0 36.67%,#4660fc 37.08%,#4564fd 37.78%,#484df0 38.33%,#4639da 38.61%,#3e26a8 38.89%,#4434cf 40.14%,#463cdf 40.97%,#484ff2 44.03%,#4742e6 47.36%,#4538d8 48.33%,#402bb7 49.72%,#4433cb 50.14%,#473ee1 50.42%,#4755f6 50.83%,#406dfe 50.97%,#23a1e5 51.11%,#23a1e5 51.39%,#24c2ae 51.53%,#f9fb15 51.67%,#f9fb15 51.94%,#f7f51b 52.08%,#f5e128 52.22%,#f5e128 52.5%,#c8c129 52.64%,#4563fc 52.78%,#4759f8 52.92%,#4759f8 54.72%,#4744e8 56.67%,#4435d1 57.5%,#3e26a8 58.33%,#3e26a8)"></i><i style="top:16.81px;height:9px;background:linear-gradient(90deg,#475bf9,#4758f8 11.39%,#463adc 14.17%,#3e26a8 16.67%,#3e26a8 49.86%,#473ee1 50.42%,#4755f6 50.83%,#4367fd 50.97%,#2d8cf3 51.11%,#2d8cf3 51.39%,#02bac4 51.53%,#f9fb15 51.67%,#f9fb15 51.94%,#fad42e 52.08%,#48cb86 52.22%,#48cb86 52.5%,#12beb9 52.64%,#4563fc 52.78%,#4745e9 53.19%,#4434d0 53.47%,#3e28ac 53.75%,#3e26a8 53.89%,#3e26a8)"></i><i style="top:25.21px;height:9px;background:linear-gradient(90deg,#3e26a8,#3e26a8 36.39%,#484ff1 36.53%,#3776fe 36.67%,#2994ed 36.81%,#1fa6e2 36.94%,#0fb2d4 37.22%,#1fa6e2 37.5%,#2994ed 37.64%,#3776fe 37.78%,#484ff1 37.92%,#3e26a8 38.06%,#3e26a8 45.56%,#4536d5 45.69%,#4849ed 45.83%,#4367fd 46.11%,#35c79a 46.25%,#59cc78 46.39%,#bbc42f 46.67%,#59cc78 46.94%,#35c79a 47.08%,#4367fd 47.22%,#4849ed 47.5%,#4536d5 47.64%,#3e26a8 47.78%,#3e26a8 49.86%,#473ee1 50.42%,#4755f6 50.83%,#426afe 50.97%,#2797eb 51.11%,#2797eb 51.39%,#12beb9 51.53%,#f9fb15 51.67%,#f9fb15 51.94%,#f5e526 52.08%,#d4be28 52.22%,#d4be28 52.5%,#5ccc76 52.64%,#4563fc 52.78%,#4745e9 53.19%,#4434d0 53.47%,#3e28ac 53.75%,#3e26a8 53.89%,#3e26a8)"></i><i style="top:33.62px;height:9px;background:linear-gradient(90deg,#3e26a8,#3e26a8 34.44%,#4433cd 34.72%,#4740e4 35%,#4850f3 35.42%,#475af9 35.97%,#4757f7 36.53%,#4747eb 37.08%,#463adb 37.36%,#3e26a8 37.78%,#3e26a8 45.56%,#473fe2 45.83%,#4755f6 46.11%,#12beb9 46.25%,#50cc7f 46.53%,#81cc59 46.67%,#50cc7f 46.81%,#12beb9 47.08%,#4755f6 47.22%,#473fe2 47.5%,#3e26a8 47.78%,#3e26a8 49.86%,#473ee1 50.42%,#4755f6 50.83%,#3d70ff 50.97%,#1caadf 51.11%,#1caadf 51.39%,#2fc5a2 51.53%,#f9fb15 51.67%,#f9fb15 51.94%,#f5e526 52.08%,#d4be28 52.22%,#d4be28 52.5%,#5ccc76 52.64%,#4563fc 52.78%,#4745e9 53.19%,#4434d0 53.47%,#3e28ac 53.75%,#3e26a8 53.89%,#3e26a8)"></i><i style="top:42.02px;height:9px;background:linear-gradient(90deg,#fec735,#fec735 0.28%,#01b8c9 0.42%,#17aeda 2.36%,#23a1e5 4.44%,#3080fb 11.25%,#4563fd 17.5%,#475bf9 19.44%,#4744e9 21.53%,#4536d5 22.92%,#3e26a8 25%,#3e26a8 26.11%,#4539d8 26.25%,#484ff1 26.39%,#4563fc 26.53%,#3776fe 26.67%,#249ee6 27.08%,#10b2d5 27.64%,#10b2d5 27.92%,#1fa6e2 28.33%,#2e87f7 28.75%,#4563fc 29.03%,#484ff1 29.17%,#4539d8 29.31%,#3e26a8 29.44%,#3e26a8 33.89%,#484cef 34.03%,#3a74fe 34.17%,#2994ed 34.31%,#1caadf 34.44%,#02b7cb 34.58%,#24c2ae 34.86%,#29c3aa 35%,#24c2ae 35.14%,#02b7cb 35.42%,#1caadf 35.56%,#2994ed 35.69%,#3a74fe 35.83%,#484cef 35.97%,#3f6efe 36.81%,#3c71ff 37.5%,#465efb 38.06%,#484ef1 38.33%,#4639da 38.61%,#3e26a8 38.89%,#3e26a8 42.78%,#463cde 43.19%,#484bef 43.47%,#465efb 43.89%,#3d70ff 44.58%,#3f6efe 45.56%,#4852f4 46.39%,#463cde 46.81%,#3e26a8 47.22%,#3e26a8 49.86%,#473ee1 50.42%,#4755f6 50.83%,#4564fd 50.97%,#2f80fa 51.11%,#2f80fa 51.39%,#05b6ce 51.53%,#f9fb15 51.67%,#f9fb15 51.94%,#f5ee21 52.08%,#fec735 52.22%,#fec735 52.5%,#9fc942 52.64%,#4563fc 52.78%,#4745e9 53.19%,#4434d0 53.47%,#3e28ac 53.75%,#3e26a8 53.89%,#3e26a8)"></i><i style="top:50.42px;height:9px;background:linear-gradient(90deg,#4743e7,#4743e7 11.11%,#4536d5 11.94%,#3e26a8 13.33%,#3e26a8 33.89%,#463cdf 34.17%,#4849ed 34.31%,#465efb 34.58%,#3975fe 35%,#0fb2d4 35.14%,#09bcbe 35.28%,#48cb86 35.56%,#09bcbe 35.83%,#0fb2d4 35.97%,#3975fe 36.11%,#465efb 36.53%,#4849ed 36.81%,#463cdf 36.94%,#3e26a8 37.22%,#3e26a8 45.28%,#4536d5 45.42%,#4849ed 45.56%,#4367fd 45.83%,#35c79a 45.97%,#59cc78 46.11%,#bbc42f 46.39%,#59cc78 46.67%,#35c79a 46.81%,#4367fd 46.94%,#4849ed 47.22%,#4536d5 47.36%,#3e26a8 47.5%,#3e26a8 49.86%,#473ee1 50.42%,#4755f6 50.83%,#426afe 50.97%,#2797eb 51.11%,#2797eb 51.39%,#12beb9 51.53%,#f9fb15 51.67%,#f9fb15 51.94%,#f5e327 52.08%,#c8c129 52.22%,#c8c129 52.5%,#52cc7e 52.64%,#4563fc 52.78%,#4745e9 53.19%,#4434d0 53.47%,#3e28ac 53.75%,#3e26a8 53.89%,#3e26a8)"></i><i style="top:58.83px;height:9px;background:linear-gradient(90deg,#3a74fe,#3a74fe 5.56%,#465efb 6.11%,#473fe2 6.94%,#3e26a8 7.78%,#3e26a8 34.44%,#4536d4 34.72%,#4747eb 35%,#4465fd 35.83%,#4465fd 36.39%,#475af9 36.81%,#4747eb 37.22%,#4536d4 37.5%,#3e26a8 37.78%,#3e26a8 45.28%,#463adb 45.56%,#4744e8 45.69%,#475af9 46.25%,#4757f7 46.67%,#4744e8 47.08%,#463adb 47.22%,#3e26a8 47.5%,#3e26a8 49.86%,#473ee1 50.42%,#4755f6 50.83%,#406dfe 50.97%,#23a1e5 51.11%,#23a1e5 51.39%,#24c2ae 51.53%,#f9fb15 51.67%,#f9fb15 51.94%,#f7db2b 52.08%,#81cc59 52.22%,#81cc59 52.5%,#2fc5a2 52.64%,#4563fc 52.78%,#4745e9 53.19%,#4434d0 53.47%,#3e28ac 53.75%,#3e26a8 53.89%,#3e26a8)"></i><i style="top:67.23px;height:9px;background:linear-gradient(90deg,#4743e7,#4743e7 10%,#4536d5 10.83%,#3e26a8 12.22%,#3e26a8 34.17%,#463adb 34.44%,#4744e8 34.58%,#4757f7 35%,#475af9 35.42%,#4744e8 35.97%,#463adb 36.11%,#3e26a8 36.39%,#3e26a8 45%,#463adb 45.28%,#4744e8 45.42%,#4757f7 45.83%,#475af9 46.25%,#4744e8 46.81%,#463adb 46.94%,#3e26a8 47.22%,#3e26a8 49.86%,#473ee1 50.42%,#4755f6 50.83%,#4367fd 50.97%,#2d8cf3 51.11%,#2d8cf3 51.39%,#02bac4 51.53%,#f9fb15 51.67%,#f9fb15 51.94%,#fec13a 52.08%,#1caadf 52.22%,#1caadf 52.5%,#259ce7 52.64%,#4563fc 52.78%,#4745e9 53.19%,#4434d0 53.47%,#3e28ac 53.75%,#3e26a8 53.89%,#3e26a8)"></i><i style="top:75.64px;height:9px;background:linear-gradient(90deg,#475bf9,#475bf9 8.33%,#463de0 9.17%,#3e26a8 10%,#3e26a8 17.78%,#4332c9 18.19%,#463cdf 18.61%,#484ff2 19.86%,#484aee 20.69%,#463cdf 21.39%,#4332c9 21.81%,#3e26a8 22.22%,#3e26a8 26.11%,#4435d1 26.53%,#4744e8 26.94%,#4759f8 27.92%,#475af9 28.61%,#4744e8 29.72%,#4435d1 30.14%,#3e26a8 30.56%,#3e26a8 34.17%,#4434cf 34.31%,#4744e8 34.44%,#465efb 34.72%,#2797eb 34.86%,#1ea7e1 35%,#08b5d0 35.14%,#12beb9 35.28%,#08b5d0 35.42%,#1ea7e1 35.56%,#2797eb 35.69%,#465efb 35.83%,#4744e8 36.11%,#4434cf 36.25%,#3e26a8 36.39%,#3e26a8 49.58%,#473ee1 50.14%,#4755f6 50.56%,#2d8cf3 50.69%,#9fc942 50.83%,#9fc942 51.11%,#dabd28 51.25%,#f9fb15 51.39%,#f9fb15 51.67%,#f6de29 51.81%,#9fc942 51.94%,#9fc942 52.22%,#39c895 52.36%,#4563fc 52.5%,#4745e9 52.92%,#4434d0 53.19%,#3e28ac 53.47%,#3e26a8 53.61%,#3e26a8)"></i><i style="top:84.04px;height:9px;background:linear-gradient(90deg,#2797eb,#2d8cf3 8.33%,#3b72ff 11.39%,#475bfa 14.03%,#484ff2 15.56%,#4740e4 16.25%,#3e26a8 17.78%,#3e26a8 25%,#4433cb 25.56%,#463ee1 26.11%,#484ff2 27.64%,#4849ed 28.75%,#463ee1 29.44%,#4433cb 30%,#3e26a8 30.56%,#3e26a8 33.33%,#4537d6 33.75%,#484aee 34.17%,#465efb 34.72%,#3e70ff 35.56%,#3e70ff 36.67%,#4755f6 37.78%,#463de0 38.33%,#3e26a8 38.89%,#3e26a8 44.44%,#463adb 44.72%,#4744e8 44.86%,#475af9 45.42%,#4757f7 45.83%,#4744e8 46.25%,#463adb 46.39%,#3e26a8 46.67%,#3e26a8 49.31%,#3f28af 49.44%,#463bdd 49.86%,#4759f8 50.42%,#2797eb 50.56%,#2797eb 50.97%,#f9fb15 51.11%,#f9fb15 51.53%,#eaba31 51.67%,#eaba31 52.08%,#4367fd 52.22%,#473fe3 52.78%,#3e26a8 53.33%,#3e26a8)"></i><i style="top:92.44px;height:9px;background:linear-gradient(90deg,#3a74fe,#3a74fe 8.33%,#4465fd 8.61%,#4742e6 9.31%,#3e26a8 10%,#3e26a8 49.31%,#463cde 49.86%,#475af9 50.42%,#1caadf 50.56%,#1caadf 50.97%,#f9fb15 51.11%,#f9fb15 51.53%,#48cb86 51.67%,#48cb86 52.08%,#4466fd 52.22%,#473fe2 52.78%,#3e26a8 53.33%,#3e26a8)"></i><i style="top:100.85px;height:9px;background:linear-gradient(90deg,#4538d7,#4538d7 5.56%,#3e26a8 6.67%,#3e26a8 34.44%,#463bdd 34.72%,#465efb 35.14%,#3c71ff 35.42%,#2e87f7 35.83%,#2797eb 36.67%,#2e87f7 37.5%,#3c71ff 37.92%,#465efb 38.19%,#4848ec 38.47%,#463bdd 38.61%,#3e26a8 38.89%,#3e26a8 45.28%,#4536d5 45.42%,#4849ed 45.56%,#4367fd 45.83%,#35c79a 45.97%,#59cc78 46.11%,#bbc42f 46.39%,#59cc78 46.67%,#35c79a 46.81%,#4367fd 46.94%,#4849ed 47.22%,#4536d5 47.36%,#3e26a8 47.5%,#3e26a8 49.31%,#463ddf 49.86%,#475bf9 50.42%,#2d8cf3 50.56%,#2d8cf3 50.97%,#f9fb15 51.11%,#f9fb15 51.53%,#fbbc3d 51.67%,#fbbc3d 52.08%,#4465fd 52.22%,#463ee1 52.78%,#3f29b0 53.19%,#3e26a8 53.33%,#3e26a8)"></i><i style="top:109.25px;height:9px;background:linear-gradient(90deg,#3e26a8,#3e26a8 32.78%,#473fe2 33.06%,#4755f6 33.33%,#4466fd 33.75%,#4562fc 34.17%,#484bee 34.58%,#473fe2 34.72%,#3e26a8 35%,#2797eb 35.14%,#1ea7e1 35.28%,#08b5d0 35.42%,#12beb9 35.56%,#08b5d0 35.69%,#1ea7e1 35.83%,#2797eb 35.97%,#3e26a8 36.11%,#3e26a8 45%,#2d8cf3 45.14%,#19addc 45.42%,#01b9c7 45.56%,#19addc 45.69%,#2d8cf3 45.97%,#2f80fa 46.11%,#347afd 46.39%,#4367fd 46.67%,#4849ed 46.94%,#4536d5 47.08%,#3e26a8 47.22%,#3e26a8 49.31%,#463de0 49.86%,#4854f5 50.28%,#4564fd 50.42%,#23a1e5 50.56%,#23a1e5 50.83%,#07b5d0 50.97%,#f9fb15 51.11%,#f9fb15 51.39%,#f5ee21 51.53%,#bbc42f 51.67%,#bbc42f 51.94%,#81cc59 52.08%,#4564fd 52.22%,#463de0 52.78%,#3f28ae 53.19%,#3e26a8 53.33%,#3e26a8)"></i><i style="top:117.66px;height:9px;background:linear-gradient(90deg,#4367fd,#4367fd 6.67%,#4661fc 6.81%,#463de0 7.64%,#3e26a8 8.33%,#3e26a8 14.44%,#4538d7 15.14%,#4743e7 15.97%,#463adc 16.94%,#4331c8 17.36%,#3e26a8 17.78%,#3e26a8 34.44%,#4538d8 34.86%,#4745e9 35.14%,#4755f6 35.56%,#4464fd 36.25%,#4466fd 36.94%,#4850f3 37.92%,#4538d8 38.47%,#3e26a8 38.89%,#3e26a8 44.44%,#473fe2 44.72%,#484bee 44.86%,#4562fc 45.28%,#4466fd 45.69%,#4755f6 46.11%,#473fe2 46.39%,#3e26a8 46.67%,#3e26a8 49.31%,#473ee1 49.86%,#4755f6 50.28%,#426afe 50.42%,#2797eb 50.56%,#2797eb 50.83%,#12beb9 50.97%,#f9fb15 51.11%,#f9fb15 51.39%,#fcd130 51.53%,#35c79a 51.67%,#35c79a 51.94%,#02bac4 52.08%,#4563fc 52.22%,#4745e9 52.64%,#4434d0 52.92%,#3e28ac 53.19%,#3e26a8 53.33%,#3e26a8)"></i><i style="top:126.06px;height:9px;background:linear-gradient(90deg,#0fb2d4,#23a1e5 6.67%,#307efb 12.36%,#3e6fff 14.03%,#4745e9 15.42%,#4535d2 15.97%,#3e26a8 16.67%,#3e26a8 28.89%,#4639da 29.44%,#484df0 30%,#4564fd 31.11%,#4564fd 32.22%,#4755f6 33.06%,#4744e8 33.61%,#4435d0 34.03%,#3e26a8 34.44%,#3e26a8 34.72%,#12beb9 34.86%,#50cc7f 35.14%,#81cc59 35.28%,#50cc7f 35.42%,#12beb9 35.69%,#4639da 35.83%,#484ef1 36.11%,#4464fd 36.53%,#3c71ff 36.94%,#3b73fe 37.36%,#426afe 37.78%,#4756f7 38.19%,#4639da 38.61%,#3e26a8 38.89%,#3e26a8 43.33%,#463adb 44.17%,#4850f3 45.28%,#475bf9 46.53%,#4850f3 48.06%,#4744e8 48.75%,#4331c8 49.58%,#473fe2 49.86%,#4756f6 50.28%,#4368fe 50.42%,#2f80fa 50.56%,#2f80fa 50.83%,#2cc4a6 50.97%,#f9fb15 51.11%,#f9fb15 51.39%,#f8d92c 51.53%,#d4be28 51.67%,#d4be28 51.94%,#31c6a0 52.08%,#4562fc 52.22%,#4744e8 52.64%,#3e27aa 53.19%,#3e26a8 53.33%,#3e26a8)"></i><i style="top:134.46px;height:9px;background:linear-gradient(90deg,#3a74fe,#3e6fff 11.25%,#4745e9 12.64%,#4535d2 13.19%,#3e26a8 13.89%,#3e26a8 28.89%,#4639da 30%,#484ff2 31.25%,#4465fd 33.47%,#4563fd 35.69%,#4853f5 37.36%,#4744e8 38.33%,#4435d0 39.17%,#3e26a8 40%,#3e26a8 43.89%,#4536d5 44.03%,#4849ed 44.17%,#4367fd 44.44%,#2797eb 44.58%,#1ea7e1 44.72%,#08b5d0 44.86%,#12beb9 45%,#08b5d0 45.14%,#1ea7e1 45.28%,#2797eb 45.42%,#4367fd 45.56%,#4759f8 45.69%,#4849ed 45.83%,#4536d5 45.97%,#3e26a8 46.11%,#3e26a8 49.31%,#4538d8 49.72%,#484ff2 50.14%,#4756f7 50.28%,#2f80fa 50.42%,#23a1e5 50.56%,#23a1e5 50.83%,#90ca4d 50.97%,#f9fb15 51.11%,#f9fb15 51.39%,#f5e128 51.53%,#fec735 51.67%,#fec735 51.94%,#29c3aa 52.08%,#4661fc 52.22%,#463adc 52.78%,#3e26a8 53.19%,#3e26a8)"></i><i style="top:142.87px;height:9px;background:linear-gradient(90deg,#2f80fa,#2f80fa 10%,#406dfe 10.42%,#4755f6 10.97%,#4743e7 11.39%,#4538d7 11.67%,#3e26a8 12.22%,#3e26a8 30%,#463bdd 30.83%,#484cf0 31.53%,#4466fd 33.47%,#4563fd 34.72%,#4746ea 36.53%,#4537d6 37.08%,#3e26a8 37.78%,#3e26a8 38.33%,#4756f6 38.47%,#2e84f8 38.61%,#21a3e3 38.75%,#08b5d0 38.89%,#08bcbf 39.03%,#12beb9 39.17%,#08bcbf 39.31%,#08b5d0 39.44%,#21a3e3 39.58%,#2e84f8 39.72%,#4756f6 39.86%,#3e26a8 40%,#3e26a8 44.44%,#473fe2 44.72%,#4755f6 45%,#4466fd 45.42%,#4562fc 45.83%,#484bee 46.25%,#473fe2 46.39%,#3e26a8 46.67%,#3e26a8 49.17%,#3e27aa 49.31%,#4741e4 49.86%,#4757f7 50.28%,#2f82fa 50.42%,#2797eb 50.56%,#2797eb 50.83%,#c8c129 50.97%,#f9fb15 51.11%,#f9fb15 51.39%,#e5bb2d 51.53%,#81cc59 51.67%,#81cc59 51.94%,#21a3e3 52.08%,#4660fb 52.22%,#4742e6 52.64%,#3e26a8 53.19%,#3e26a8)"></i><i style="top:151.27px;height:9px;background:linear-gradient(90deg,#3e26a8,#463adc 1.25%,#484ff2 2.22%,#484ff2 10%,#463adc 10.97%,#3e26a8 12.22%,#3e26a8 30%,#4536d4 30.83%,#473fe2 31.25%,#4853f5 32.36%,#4563fd 33.89%,#4465fd 35.83%,#484cf0 38.06%,#4536d4 39.17%,#3e26a8 40%,#3e26a8 44.44%,#4536d5 44.58%,#4849ed 44.72%,#4367fd 45%,#2d8cf3 45.14%,#19addc 45.42%,#01b9c7 45.56%,#19addc 45.69%,#2d8cf3 45.97%,#4367fd 46.11%,#4849ed 46.39%,#4536d5 46.53%,#3e26a8 46.67%,#3e27ac 49.31%,#4741e5 49.86%,#4758f8 50.28%,#2699e9 50.42%,#1caadf 50.56%,#1caadf 50.83%,#fec13a 50.97%,#f9fb15 51.11%,#f9fb15 51.39%,#fec13a 51.53%,#eaba31 51.67%,#eaba31 51.94%,#259ce7 52.08%,#465ffb 52.22%,#4741e5 52.64%,#3e26a8 53.19%,#3e26a8)"></i><i style="top:159.68px;height:9px;background:linear-gradient(90deg,#1caadf,#2895ec 3.06%,#317dfc 9.17%,#3a74fe 11.11%,#4368fe 11.53%,#473fe2 13.19%,#3e26a8 14.44%,#3e26a8 21.11%,#4538d7 22.5%,#4743e7 24.17%,#463adc 26.11%,#4331c8 26.94%,#3e26a8 27.78%,#3e26a8 32.22%,#4537d6 32.92%,#4746ea 33.47%,#4563fd 35.28%,#4464fd 36.81%,#484cf0 38.47%,#463bdd 39.17%,#3e26a8 40%,#3e26a8 44.72%,#4536d5 44.86%,#4849ed 45%,#4367fd 45.28%,#23a1e5 45.42%,#03bbc3 45.69%,#29c3aa 45.83%,#03bbc3 45.97%,#23a1e5 46.25%,#4367fd 46.39%,#4849ed 46.67%,#4536d5 46.81%,#3e26a8 46.94%,#3e26a8 48.89%,#4538d8 49.31%,#4747ec 49.58%,#4756f7 49.86%,#3a74fe 50%,#2d8cf3 50.14%,#2d8cf3 50.42%,#71cd64 50.56%,#f9fb15 50.69%,#f9fb15 50.97%,#fec13a 51.11%,#9fc942 51.25%,#9fc942 51.53%,#05b6ce 51.67%,#4661fc 51.81%,#463adc 52.36%,#3e26a8 52.78%,#3e26a8 97.78%,#43c 98.33%,#4538d7 98.89%,#43c 99.44%,#3e26a8)"></i><i style="top:168.08px;height:9px;background:linear-gradient(90deg,#4743e7,#4743e7 11.11%,#4536d5 11.94%,#3e26a8 13.33%,#3e26a8 33.33%,#4536d3 33.89%,#4742e6 34.31%,#4757f7 35.42%,#4759f9 36.53%,#4742e6 37.92%,#4536d3 38.33%,#3e26a8 38.89%,#3e26a8 44.44%,#473fe2 44.72%,#484bee 44.86%,#4562fc 45.28%,#4466fd 45.69%,#4755f6 46.11%,#473fe2 46.39%,#3e26a8 46.67%,#3e26a8 48.75%,#3e27aa 48.89%,#4740e4 49.44%,#4757f7 49.86%,#3080fb 50%,#2797eb 50.14%,#2797eb 50.42%,#b6c532 50.56%,#f9fb15 50.69%,#f9fb15 50.97%,#b4c534 51.11%,#29c3aa 51.25%,#29c3aa 51.53%,#2797ea 51.67%,#4660fb 51.81%,#463adb 52.36%,#3e26a8 52.78%,#3e26a8)"></i><i style="top:176.48px;height:9px;background:linear-gradient(90deg,#fec735,#fec735 0.28%,#23a0e5 0.42%,#2f80fa 19.44%,#3e6fff 25.14%,#475af9 25.83%,#4745e9 26.53%,#4535d2 27.08%,#3e26a8 27.78%,#3e26a8 30.28%,#4741e5 30.56%,#465efb 30.83%,#3678fe 31.11%,#2d8cf3 31.39%,#1fa6e2 32.08%,#1caadf 32.64%,#249fe6 33.19%,#2e83f9 33.75%,#416bfe 34.03%,#465efb 34.17%,#4741e5 34.44%,#12beb9 34.58%,#50cc7f 34.86%,#81cc59 35%,#50cc7f 35.14%,#12beb9 35.42%,#3e26a8 35.56%,#4639da 35.83%,#484ef1 36.11%,#465efb 36.39%,#3c71ff 36.94%,#3f6efe 37.64%,#484ef1 38.33%,#4639da 38.61%,#3e26a8 38.89%,#3e26a8 43.06%,#4538d8 43.47%,#4745e9 43.75%,#4755f6 44.17%,#4464fd 44.86%,#4466fd 45.56%,#4850f3 46.53%,#4538d8 47.08%,#3e26a8 47.5%,#3e27ab 48.89%,#4639da 49.31%,#4850f3 49.72%,#4757f7 49.86%,#2d8df2 50%,#23a1e5 50.14%,#23a1e5 50.42%,#e9bb30 50.56%,#f9fb15 50.69%,#f9fb15 50.97%,#fcce31 51.11%,#fbbc3d 51.25%,#fbbc3d 51.53%,#1baade 51.67%,#465ffb 51.81%,#4742e6 52.22%,#3e26a8 52.78%,#3e26a8)"></i><i style="top:184.89px;height:9px;background:linear-gradient(90deg,#3e26a8,#3e26a8 34.72%,#4434cf 34.86%,#4744e8 35%,#465efb 35.28%,#23a1e5 35.42%,#03bbc3 35.69%,#29c3aa 35.83%,#03bbc3 35.97%,#23a1e5 36.25%,#465efb 36.39%,#4744e8 36.67%,#4434cf 36.81%,#3e26a8 36.94%,#3e26a8 44.44%,#463bdd 44.58%,#4853f5 44.72%,#4368fe 44.86%,#347afd 45%,#2797eb 45.14%,#1ea7e1 45.28%,#08b5d0 45.42%,#12beb9 45.56%,#08b5d0 45.69%,#1ea7e1 45.83%,#2797eb 45.97%,#347afd 46.11%,#4368fe 46.25%,#4853f5 46.39%,#463bdd 46.53%,#3e26a8 46.67%,#3e28ac 48.89%,#4741e6 49.44%,#4758f8 49.86%,#2f81fa 50%,#2d8cf3 50.14%,#2d8cf3 50.42%,#febd3c 50.56%,#f9fb15 50.69%,#f9fb15 50.97%,#e7bb2d 51.11%,#bbc42f 51.25%,#bbc42f 51.53%,#2a93ee 51.67%,#465efb 51.81%,#4741e5 52.22%,#3e26a8 52.78%,#3e26a8)"></i><i style="top:193.29px;height:9px;background:linear-gradient(90deg,#4743e7,#4743e7 2.78%,#4536d5 3.19%,#3e26a8 3.89%,#3e26a8 34.17%,#4536d4 34.44%,#4747eb 34.72%,#4562fc 35.42%,#4465fd 36.11%,#4747eb 36.94%,#4536d4 37.22%,#3e26a8 37.5%,#3e26a8 43.61%,#4536d5 43.75%,#4849ed 43.89%,#4367fd 44.17%,#12beb9 44.31%,#50cc7f 44.58%,#81cc59 44.72%,#50cc7f 44.86%,#12beb9 45.14%,#4367fd 45.28%,#4849ed 45.56%,#4536d5 45.69%,#3e26a8 45.83%,#3e26a8 48.75%,#3f28ad 48.89%,#4742e6 49.44%,#4758f8 49.86%,#2c8ff0 50%,#2797eb 50.14%,#2797eb 50.42%,#f9d82c 50.56%,#f9fb15 50.69%,#f9fb15 50.97%,#f8d92b 51.11%,#fad42e 51.53%,#2d8af4 51.67%,#465efb 51.81%,#4740e4 52.22%,#3e26a8 52.78%,#3e26a8)"></i><i style="top:201.7px;height:9px;background:linear-gradient(90deg,#3e26a8,#3e26a8 34.44%,#4536d4 34.72%,#4747eb 35%,#4465fd 35.83%,#4465fd 36.39%,#475af9 36.81%,#4747eb 37.22%,#4536d4 37.5%,#3e26a8 37.78%,#3e26a8 44.17%,#4536d5 44.31%,#4849ed 44.44%,#4367fd 44.72%,#48cb86 44.86%,#a9c73b 45.14%,#d4be28 45.28%,#a9c73b 45.42%,#48cb86 45.69%,#4367fd 45.83%,#4849ed 46.11%,#4536d5 46.25%,#3e26a8 46.39%,#3e26a8 48.75%,#3f28af 48.89%,#4743e7 49.44%,#4759f8 49.86%,#1ea7e1 50%,#1caadf 50.42%,#f6f11f 50.56%,#f9fb15 50.69%,#f9fb15 50.97%,#71cd64 51.11%,#62cd70 51.25%,#62cd70 51.53%,#3f6eff 51.67%,#465dfa 51.81%,#4740e3 52.22%,#3e26a8 52.78%,#3e26a8)"></i><i style="top:210.1px;height:9px;background:linear-gradient(90deg,#3e26a8,#3e26a8 33.33%,#4538d8 33.75%,#4745e9 34.03%,#4755f6 34.44%,#4464fd 35.14%,#4466fd 35.83%,#4850f3 36.81%,#4538d8 37.36%,#3e26a8 37.78%,#3e26a8 43.89%,#4536d4 44.17%,#4852f4 44.58%,#317efb 44.72%,#259ce7 44.86%,#17aedb 45%,#04b6cc 45.14%,#01b9c7 45.28%,#04b6cc 45.42%,#17aedb 45.56%,#259ce7 45.69%,#317efb 45.83%,#4562fc 45.97%,#475af9 46.25%,#473fe2 46.81%,#4536d4 46.94%,#3e26a8 47.22%,#3e26a8 48.75%,#3f29b0 48.89%,#463bdd 49.31%,#4852f4 49.72%,#4759f9 49.86%,#2797eb 50%,#2797eb 50.42%,#f9fb15 50.56%,#f9fb15 50.97%,#eaba31 51.11%,#eaba31 51.53%,#4366fd 51.67%,#4849ed 52.08%,#3e26a8 52.78%,#3e26a8)"></i><i style="top:218.5px;height:9px;background:linear-gradient(90deg,#81cc59,#81cc59 0.28%,#34c79b 0.42%,#01b9c6 4.03%,#1da9e0 7.92%,#337bfd 17.92%,#475bfa 24.86%,#475bf9 33.33%,#463de0 33.89%,#3e26a8 34.44%,#62cd70 34.58%,#c4c22b 34.86%,#eaba31 35%,#c4c22b 35.14%,#62cd70 35.42%,#3e26a8 35.56%,#473fe2 36.11%,#4850f3 36.53%,#475dfa 36.94%,#4466fd 38.06%,#4850f3 39.03%,#4538d8 39.58%,#3e26a8 40%,#3e26a8 41.11%,#463adb 42.22%,#484ef1 43.47%,#475bf9 45.42%,#4756f7 46.81%,#4744e8 48.33%,#4435d1 49.17%,#4744e8 49.44%,#475af9 49.86%,#23a1e5 50%,#23a1e5 50.42%,#f9fb15 50.56%,#f9fb15 50.97%,#d4be28 51.11%,#d4be28 51.53%,#4466fd 51.67%,#4852f4 51.94%,#475bf9 53.47%,#4747eb 55.28%,#463adb 55.83%,#3e26a8 56.67%,#3e26a8 88.33%,#4537d6 90.83%,#484aee 92.92%,#4563fd 95.56%,#4367fd)"></i><i style="top:226.91px;height:9px;background:linear-gradient(90deg,#2f80fa,#2f80fa 4.44%,#4661fc 5.14%,#463de0 5.97%,#3e26a8 6.67%,#3e26a8 35%,#4332ca 35.28%,#01b9c7 35.42%,#23c1af 35.56%,#3ac993 35.69%,#62cd70 35.83%,#3ac993 35.97%,#23c1af 36.11%,#01b9c7 36.25%,#475dfa 36.39%,#4466fd 37.5%,#4850f3 38.47%,#4538d8 39.03%,#3e26a8 39.44%,#3e26a8 41.39%,#4435d1 41.81%,#4744e8 42.22%,#4759f8 43.19%,#475af9 43.89%,#484ff2 44.58%,#463adb 45.28%,#62cd70 45.42%,#c4c22b 45.69%,#eaba31 45.83%,#c4c22b 45.97%,#62cd70 46.25%,#3e26a8 46.39%,#3e26a8 48.75%,#463cdf 49.31%,#475bf9 49.86%,#2d8cf3 50%,#2d8cf3 50.42%,#f9fb15 50.56%,#f9fb15 50.97%,#12beb9 51.11%,#12beb9 51.53%,#4465fd 51.67%,#4851f3 51.94%,#475bf9 54.03%,#484aee 55.97%,#463adb 56.81%,#3e26a8 57.78%,#3e26a8 66.67%,#43c 66.94%,#4538d7 67.22%,#43c 67.5%,#3e26a8 67.78%,#3e26a8)"></i><i style="top:235.31px;height:9px;background:linear-gradient(90deg,#4367fd,#4367fd 10%,#473fe2 11.25%,#3e26a8 12.22%,#3e26a8 34.44%,#4536d4 34.72%,#4747eb 35%,#4465fd 35.83%,#4465fd 36.39%,#475af9 36.81%,#4747eb 37.22%,#4536d4 37.5%,#3e26a8 37.78%,#3e26a8 48.75%,#463de0 49.31%,#465ffb 49.86%,#2797eb 50%,#2797eb 50.28%,#20a4e3 50.42%,#f9fb15 50.56%,#f8f718 50.97%,#fec735 51.11%,#fec735 51.39%,#f6ba3b 51.53%,#4464fd 51.67%,#4746eb 52.08%,#3f28af 52.64%,#3e26a8 52.78%,#3e26a8)"></i><i style="top:243.72px;height:9px;background:linear-gradient(90deg,#3e26a8,#3e26a8 34.44%,#4435d0 34.86%,#4744e8 35.28%,#4755f6 35.83%,#4564fd 36.67%,#4564fd 37.78%,#484df0 38.89%,#4639da 39.44%,#3e26a8 40%,#3e26a8 45.28%,#12beb9 45.42%,#50cc7f 45.69%,#81cc59 45.83%,#50cc7f 45.97%,#12beb9 46.25%,#3e26a8 46.39%,#3e26a8 47.22%,#4536d5 47.78%,#4740e3 48.06%,#4852f4 48.61%,#4564fd 49.31%,#406dfe 49.72%,#4368fe 49.86%,#1caadf 50%,#1caadf 50.28%,#0ebdbb 50.42%,#f9fb15 50.56%,#f9fb15 50.83%,#f5e924 50.97%,#9fc942 51.11%,#9fc942 51.39%,#58cc79 51.53%,#2f80fa 51.67%,#3c72ff 53.33%,#4660fc 54.17%,#4849ed 55%,#4536d5 55.56%,#3e26a8 56.11%,#3e26a8)"></i><i style="top:252.12px;height:9px;background:linear-gradient(90deg,#4743e7,#4743e7 3.33%,#4536d5 3.75%,#3e26a8 4.44%,#3e26a8 35%,#23a1e5 35.14%,#03bbc3 35.42%,#29c3aa 35.56%,#03bbc3 35.69%,#23a1e5 35.97%,#465ffb 36.11%,#4367fd 36.67%,#465ffb 37.22%,#473fe2 37.92%,#4536d4 38.06%,#3e26a8 38.33%,#3e26a8 45%,#81cc59 45.14%,#b2c635 45.28%,#dcbd29 45.42%,#fbbc3d 45.56%,#dcbd29 45.69%,#b2c635 45.83%,#81cc59 45.97%,#3e26a8 46.11%,#3e26a8 48.75%,#473ee1 49.31%,#4755f6 49.72%,#426afe 49.86%,#2797eb 50%,#2797eb 50.28%,#12beb9 50.42%,#f9fb15 50.56%,#f9fb15 50.83%,#f5e825 50.97%,#eaba31 51.11%,#eaba31 51.39%,#71cd64 51.53%,#4563fc 51.67%,#4745e9 52.08%,#4434d0 52.36%,#3e28ac 52.64%,#3e26a8 52.78%,#3e26a8)"></i><i style="top:260.52px;height:9px;background:linear-gradient(90deg,#3e26a8,#3e26a8 33.89%,#463adb 34.31%,#4747eb 34.58%,#4757f7 35.14%,#475af9 35.69%,#4850f3 36.25%,#4740e4 36.67%,#4433cd 36.94%,#3e26a8 37.22%,#3e26a8 45%,#81cc59 45.14%,#b2c635 45.28%,#dcbd29 45.42%,#fbbc3d 45.56%,#dcbd29 45.69%,#b2c635 45.83%,#81cc59 45.97%,#3e26a8 46.11%,#3e26a8 48.47%,#3f28af 48.61%,#4743e7 49.17%,#4759f8 49.58%,#23a1e5 49.72%,#23a1e5 50.14%,#f9fb15 50.28%,#f9fb15 50.69%,#48cb86 50.83%,#48cb86 51.25%,#4367fd 51.39%,#4853f5 51.67%,#473fe3 51.94%,#3e26a8 52.5%,#3e26a8 56.11%,#43c 56.39%,#4538d7 56.67%,#43c 56.94%,#3e26a8 57.22%,#3e26a8)"></i><i style="top:268.93px;height:9px;background:linear-gradient(90deg,#29c3aa,#03bbc2 3.61%,#01b8ca 4.58%,#1da9e0 5.83%,#2e83f9 8.19%,#3e6fff 8.61%,#4747eb 9.31%,#4538d7 9.58%,#3e26a8 10%,#3e26a8 33.33%,#4435d0 33.75%,#4744e8 34.17%,#4755f6 34.72%,#4564fd 35.56%,#4564fd 36.67%,#484df0 37.78%,#4639da 38.33%,#3e26a8 38.89%,#3e26a8 43.06%,#4538d8 43.47%,#4850f3 44.03%,#4466fd 45%,#4464fd 45.69%,#4755f6 46.39%,#4745e9 46.81%,#4538d8 47.08%,#3e26a8 47.5%,#3e26a8 48.47%,#463cde 49.03%,#484bef 49.31%,#475af9 49.58%,#2d8cf3 49.72%,#2d8cf3 50.14%,#f9fb15 50.28%,#f9fb15 50.69%,#fbbc3d 50.83%,#fbbc3d 51.25%,#4466fd 51.39%,#473fe2 51.94%,#3e26a8 52.5%,#3e26a8)"></i><i style="top:277.33px;height:9px;background:linear-gradient(90deg,#3e26a8,#3e26a8 35%,#4332ca 35.14%,#473fe2 35.28%,#484bee 35.42%,#4562fc 35.83%,#4466fd 36.25%,#4755f6 36.67%,#473fe2 36.94%,#3e26a8 37.22%,#3e26a8 44.72%,#bbc42f 44.86%,#e3bb2c 45%,#febf3c 45.14%,#fad42e 45.28%,#febf3c 45.42%,#e3bb2c 45.56%,#bbc42f 45.69%,#3e26a8 45.83%,#3e26a8 48.47%,#463cdf 49.03%,#475af9 49.58%,#2797eb 49.72%,#2797eb 50.14%,#f9fb15 50.28%,#f9fb15 50.69%,#bbc42f 50.83%,#bbc42f 51.25%,#4465fd 51.39%,#4851f4 51.67%,#463ee1 51.94%,#3f29b1 52.36%,#3e26a8 52.5%,#3e26a8)"></i><i style="top:285.74px;height:9px;background:linear-gradient(90deg,#4367fd,#4367fd 11.11%,#473fe2 12.36%,#3e26a8 13.33%,#3e26a8 34.44%,#4538d8 34.86%,#4745e9 35.14%,#4755f6 35.56%,#4464fd 36.25%,#4466fd 36.94%,#4850f3 37.92%,#4538d8 38.47%,#3e26a8 38.89%,#3e26a8 43.06%,#4536d4 43.33%,#4747eb 43.61%,#4465fd 44.44%,#4465fd 45%,#4747eb 45.83%,#4536d4 46.11%,#3e26a8 46.39%,#3e26a8 48.47%,#463de0 49.03%,#465efb 49.58%,#23a1e5 49.72%,#23a1e5 50%,#1caadf 50.14%,#f9fb15 50.28%,#f8f917 50.69%,#fad42e 50.83%,#fad42e 51.11%,#fec636 51.25%,#4464fd 51.39%,#4747eb 51.81%,#3f28af 52.36%,#3e26a8 52.5%,#3e26a8)"></i><i style="top:294.14px;height:9px;background:linear-gradient(90deg,#3e26a8,#3e26a8 34.44%,#4536d5 34.58%,#4849ed 34.72%,#4367fd 35%,#23a1e5 35.14%,#03bbc3 35.42%,#29c3aa 35.56%,#03bbc3 35.69%,#23a1e5 35.97%,#4367fd 36.11%,#4849ed 36.39%,#4536d5 36.53%,#3e26a8 36.67%,#3e26a8 38.89%,#4537d6 40%,#4743e7 41.39%,#463adc 43.06%,#402bb7 44.17%,#484bef 44.31%,#3e6fff 44.44%,#81cc59 44.58%,#b2c635 44.72%,#dcbd29 44.86%,#fbbc3d 45%,#dcbd29 45.14%,#b2c635 45.28%,#81cc59 45.42%,#3e6fff 45.56%,#484bef 45.69%,#3e26a8 45.83%,#3e26a8 48.47%,#463ee0 49.03%,#4854f5 49.44%,#4564fd 49.58%,#2797eb 49.72%,#2797eb 50%,#0fb2d4 50.14%,#f9fb15 50.28%,#f9fb15 50.56%,#f5e825 50.69%,#81cc59 50.83%,#81cc59 51.11%,#46cb88 51.25%,#4563fd 51.39%,#4746ea 51.81%,#3f28ae 52.36%,#3e26a8 52.5%,#3e26a8)"></i><i style="top:302.54px;height:9px;background:linear-gradient(90deg,#3e26a8,#3e26a8 35%,#4536d5 35.14%,#4849ed 35.28%,#1caadf 35.42%,#03b7cc 35.56%,#35c79a 35.83%,#03b7cc 36.11%,#1caadf 36.25%,#347afd 36.39%,#4367fd 36.67%,#4849ed 36.94%,#4536d5 37.08%,#3e26a8 37.22%,#3e26a8 44.44%,#bbc42f 44.58%,#e3bb2c 44.72%,#febf3c 44.86%,#fad42e 45%,#febf3c 45.14%,#e3bb2c 45.28%,#bbc42f 45.42%,#3e26a8 45.56%,#3e26a8 48.47%,#473ee1 49.03%,#4755f6 49.44%,#3d70ff 49.58%,#1caadf 49.72%,#1caadf 50%,#2fc5a2 50.14%,#f9fb15 50.28%,#f9fb15 50.56%,#f5e526 50.69%,#d4be28 50.83%,#d4be28 51.11%,#5ccc76 51.25%,#4563fc 51.39%,#4745e9 51.81%,#4434d0 52.08%,#3e28ac 52.36%,#3e26a8 52.5%,#3e26a8)"></i><i style="top:310.95px;height:9px;background:linear-gradient(90deg,#4743e7,#4743e7 5.56%,#4535d2 6.25%,#3e26a8 7.22%,#3e26a8 35%,#4434cf 35.14%,#4744e8 35.28%,#465efb 35.56%,#23a1e5 35.69%,#03bbc3 35.97%,#29c3aa 36.11%,#03bbc3 36.25%,#23a1e5 36.53%,#465efb 36.67%,#4744e8 36.94%,#4434cf 37.08%,#3e26a8 37.22%,#3e26a8 48.19%,#3f28af 48.33%,#4743e7 48.89%,#4759f8 49.31%,#2797eb 49.44%,#2797eb 49.86%,#f9fb15 50%,#f9fb15 50.42%,#fbbc3d 50.56%,#fbbc3d 50.97%,#4367fd 51.11%,#473fe3 51.67%,#3e26a8 52.22%,#3e26a8)"></i><i style="top:319.35px;height:9px;background:linear-gradient(90deg,#3e26a8,#3e26a8 35.28%,#4536d4 35.56%,#4747eb 35.83%,#4465fd 36.67%,#4465fd 37.22%,#4747eb 38.06%,#4536d4 38.33%,#3e26a8 38.61%,#3e26a8 43.89%,#473fe2 44.17%,#4755f6 44.44%,#4466fd 44.86%,#4562fc 45.28%,#484bee 45.69%,#473fe2 45.83%,#3e26a8 46.11%,#3e26a8 48.19%,#3f29b0 48.33%,#463bdd 48.75%,#4759f9 49.31%,#2d8cf3 49.44%,#2d8cf3 49.86%,#f9fb15 50%,#f9fb15 50.42%,#35c79a 50.56%,#35c79a 50.97%,#4367fd 51.11%,#473fe3 51.67%,#3e26a8 52.22%,#3e26a8)"></i><i style="top:327.76px;height:9px;background:linear-gradient(90deg,#3e26a8,#3e26a8 33.89%,#463bdd 34.03%,#4853f5 34.17%,#347afd 34.44%,#01b9c7 34.58%,#23c1af 34.72%,#3ac993 34.86%,#62cd70 35%,#3ac993 35.14%,#23c1af 35.28%,#01b9c7 35.42%,#347afd 35.56%,#4853f5 35.83%,#463bdd 35.97%,#3e26a8 36.11%,#3e26a8 43.89%,#4536d5 44.03%,#4849ed 44.17%,#4367fd 44.44%,#2797eb 44.58%,#1ea7e1 44.72%,#08b5d0 44.86%,#12beb9 45%,#08b5d0 45.14%,#1ea7e1 45.28%,#2797eb 45.42%,#4367fd 45.56%,#4849ed 45.83%,#4536d5 45.97%,#3e26a8 46.11%,#3e26a8 48.19%,#3f29b0 48.33%,#463bdd 48.75%,#4759f9 49.31%,#23a1e5 49.44%,#23a1e5 49.86%,#f9fb15 50%,#f9fb15 50.42%,#eaba31 50.56%,#eaba31 50.97%,#4366fd 51.11%,#473fe3 51.67%,#3e26a8 52.22%,#3e26a8 66.39%,#3f28ad 66.53%,#4434ce 66.81%,#4538d7 67.08%,#4332ca 67.36%,#3e26a8 67.64%,#3e26a8)"></i><i style="top:336.16px;height:9px;background:linear-gradient(90deg,#3e26a8,#3e26a8 27.5%,#4332c8 28.19%,#4538d7 29.03%,#4434d0 29.86%,#3e26a8 30.83%,#3e26a8 33.89%,#4536d5 34.03%,#4849ed 34.17%,#4367fd 34.44%,#23a1e5 34.58%,#03bbc3 34.86%,#29c3aa 35%,#03bbc3 35.14%,#23a1e5 35.42%,#4367fd 35.56%,#4849ed 35.83%,#4536d5 35.97%,#3e26a8 36.11%,#3e26a8 43.89%,#4434cf 44.03%,#4744e8 44.17%,#465efb 44.44%,#23a1e5 44.58%,#03bbc3 44.86%,#29c3aa 45%,#03bbc3 45.14%,#23a1e5 45.42%,#465efb 45.56%,#4744e8 45.83%,#4434cf 45.97%,#3e26a8 46.11%,#3e26a8 48.19%,#3f29b0 48.33%,#463bde 48.75%,#4852f4 49.17%,#475af9 49.31%,#2797eb 49.44%,#2797eb 49.86%,#f9fb15 50%,#f9fb15 50.42%,#fec735 50.56%,#fec735 50.97%,#4466fd 51.11%,#473fe2 51.67%,#3e26a8 52.22%,#3e26a8)"></i><i style="top:344.56px;height:9px;background:linear-gradient(90deg,#fec735,#fec735 0.28%,#0fb2d5 0.42%,#23a1e5 10%,#18aedb 10.97%,#01b8ca 11.94%,#04bbc2 12.36%,#12beb9 12.78%,#12beb9 15.56%,#01b9c7 15.83%,#1caadf 16.39%,#2f80fa 17.5%,#406dfe 17.92%,#4742e6 19.03%,#3e26a8 20%,#3e26a8 32.22%,#4536d4 32.78%,#4743e7 33.19%,#4758f8 34.03%,#4465fd 35%,#81cc59 35.14%,#b2c635 35.28%,#dcbd29 35.42%,#fbbc3d 35.56%,#dcbd29 35.69%,#b2c635 35.83%,#81cc59 35.97%,#4465fd 36.11%,#4758f8 37.08%,#4743e7 37.92%,#4536d4 38.33%,#3e26a8 38.89%,#3e26a8 40%,#4538d7 40.69%,#4743e7 41.53%,#463adc 42.5%,#4331c8 42.92%,#3e26a8 43.33%,#3e26a8 45%,#463adb 45.28%,#4744e8 45.42%,#4757f7 45.83%,#475af9 46.25%,#4744e8 46.81%,#463adb 46.94%,#3e26a8 47.22%,#3e26a8 48.19%,#3f29b0 48.33%,#463cde 48.75%,#475af9 49.31%,#1caadf 49.44%,#1caadf 49.86%,#f9fb15 50%,#f9fb15 50.42%,#9fc942 50.56%,#9fc942 50.97%,#4466fd 51.11%,#473fe2 51.67%,#3e26a8 52.22%,#3e26a8 93.33%,#4435d1 96.67%,#4538d7)"></i><i style="top:352.97px;height:9px;background:linear-gradient(90deg,#81cc59,#81cc59 0.28%,#2f80fa 0.42%,#2f80fa 10%,#406dfe 10.42%,#4755f6 10.97%,#4743e7 11.39%,#4538d7 11.67%,#3e26a8 12.22%,#3e26a8 33.61%,#4639da 33.89%,#4744e8 34.03%,#4756f7 34.31%,#426afe 34.72%,#29c3aa 34.86%,#40ca8d 35%,#9fc942 35.28%,#40ca8d 35.56%,#29c3aa 35.69%,#426afe 35.83%,#4756f7 36.25%,#4744e8 36.53%,#4639da 36.67%,#3e26a8 36.94%,#3e26a8 43.61%,#4536d5 43.75%,#4849ed 43.89%,#4367fd 44.17%,#2797eb 44.31%,#1ea7e1 44.44%,#08b5d0 44.58%,#12beb9 44.72%,#08b5d0 44.86%,#1ea7e1 45%,#2797eb 45.14%,#4367fd 45.28%,#4759f8 45.42%,#4849ed 45.56%,#4536d5 45.69%,#3e26a8 45.83%,#3e26a8 48.19%,#3f29b1 48.33%,#463cde 48.75%,#475af9 49.31%,#23a1e5 49.44%,#23a1e5 49.86%,#f9fb15 50%,#f9fb15 50.42%,#fbbc3d 50.56%,#fbbc3d 50.97%,#4466fd 51.11%,#473fe2 51.67%,#3e26a8 52.22%,#3e26a8)"></i><i style="top:361.37px;height:9px;background:linear-gradient(90deg,#2797eb,#2d8cf3 16.67%,#3974fe 24.72%,#3a73fe 34.86%,#347afd 35%,#23a1e5 35.14%,#03bbc3 35.42%,#29c3aa 35.56%,#03bbc3 35.69%,#23a1e5 35.97%,#347afd 36.11%,#3b72ff 36.39%,#416afe 49.31%,#2797eb 49.44%,#2797eb 49.86%,#f9fb15 50%,#f9fb15 50.42%,#62cd70 50.56%,#62cd70 50.97%,#4269fe 51.11%,#4367fd 55.56%,#4758f8 56.25%,#463adc 57.64%,#3e26a8 58.89%,#3e26a8 88.33%,#4536d5 91.25%,#4848ec 93.47%,#475bf9 95.56%,#4661fc)"></i><i style="top:369.78px;height:9px;background:linear-gradient(90deg,#3a74fe,#3a74fe 11.11%,#4368fe 11.39%,#4853f5 11.94%,#473fe2 12.5%,#3e26a8 13.33%,#3e26a8 34.17%,#4536d4 34.44%,#4747eb 34.72%,#475af9 35.14%,#4465fd 35.56%,#4465fd 36.11%,#4747eb 36.94%,#4536d4 37.22%,#3e26a8 37.5%,#3e26a8 43.33%,#4538d8 43.75%,#4745e9 44.03%,#4755f6 44.44%,#4464fd 45.14%,#4466fd 45.83%,#4850f3 46.81%,#4538d8 47.36%,#3e26a8 47.78%,#3e26a8 48.19%,#463cde 48.75%,#475af9 49.31%,#2d8cf3 49.44%,#2d8cf3 49.86%,#f9fb15 50%,#f9fb15 50.42%,#eaba31 50.56%,#eaba31 50.97%,#4466fd 51.11%,#473ee2 51.67%,#3e26a8 52.22%,#3e26a8)"></i><i style="top:378.18px;height:9px;background:linear-gradient(90deg,#3a74fe,#3a74fe 5.56%,#4465fd 5.83%,#4742e6 6.53%,#3e26a8 7.22%,#3e26a8 34.17%,#4536d5 34.31%,#4849ed 34.44%,#4367fd 34.72%,#23a1e5 34.86%,#03bbc3 35.14%,#29c3aa 35.28%,#03bbc3 35.42%,#23a1e5 35.69%,#4367fd 35.83%,#4849ed 36.11%,#4536d5 36.25%,#3e26a8 36.39%,#3e26a8 48.19%,#463cdf 48.75%,#475af9 49.31%,#48cb86 49.44%,#48cb86 49.86%,#f9fb15 50%,#f9fb15 50.42%,#01b9c7 50.56%,#01b9c7 50.97%,#4465fd 51.11%,#4848ec 51.53%,#3e26a8 52.22%,#3e26a8)"></i><i style="top:386.58px;height:9px;background:linear-gradient(90deg,#3e26a8,#3e26a8 33.61%,#4536d5 33.75%,#4849ed 33.89%,#4367fd 34.17%,#23a1e5 34.31%,#03bbc3 34.58%,#29c3aa 34.72%,#03bbc3 34.86%,#23a1e5 35.14%,#4367fd 35.28%,#4849ed 35.56%,#4536d5 35.69%,#3e26a8 35.83%,#3e26a8 43.61%,#4536d5 43.75%,#4849ed 43.89%,#4367fd 44.17%,#2797eb 44.31%,#1ea7e1 44.44%,#08b5d0 44.58%,#12beb9 44.72%,#08b5d0 44.86%,#1ea7e1 45%,#2797eb 45.14%,#4367fd 45.28%,#4849ed 45.56%,#4536d5 45.69%,#3e26a8 45.83%,#3e26a8 48.19%,#463cdf 48.75%,#475af9 49.31%,#fbbc3d 49.44%,#fbbc3d 49.86%,#f9fb15 50%,#f9fb15 50.42%,#bbc42f 50.56%,#bbc42f 50.97%,#4465fd 51.11%,#4747ec 51.53%,#3e26a8 52.22%,#3e26a8)"></i><i style="top:394.99px;height:9px;background:linear-gradient(90deg,#fec735,#fec735 0.28%,#0abdbd 0.42%,#01b9c6 0.69%,#1caadf 1.67%,#2f81fa 8.19%,#4368fe 22.64%,#4367fd 23.33%,#4849ed 24.72%,#463adc 25.42%,#3e26a8 26.67%,#3e26a8 30%,#463bdd 30.69%,#4852f4 31.39%,#3c72ff 32.78%,#2f80fa 34.44%,#0fb2d4 34.58%,#09bcbe 34.72%,#48cb86 35%,#09bcbe 35.28%,#0fb2d4 35.42%,#347afd 35.56%,#4564fd 36.81%,#4852f4 37.5%,#01b9c7 37.64%,#23c1af 37.78%,#3ac993 37.92%,#62cd70 38.06%,#3ac993 38.19%,#23c1af 38.33%,#01b9c7 38.47%,#422ec0 38.61%,#3e26a8 38.89%,#3e26a8 45.83%,#4538d8 46.25%,#4850f3 46.81%,#4466fd 47.78%,#4464fd 48.47%,#4755f6 49.17%,#475af9 49.31%,#81cc59 49.44%,#81cc59 49.86%,#f9fb15 50%,#f9fb15 50.42%,#48cb86 50.56%,#48cb86 50.97%,#4465fd 51.11%,#463ee1 51.67%,#3f29b1 52.08%,#3e26a8 52.22%,#3e26a8)"></i><i style="top:403.39px;height:9px;background:linear-gradient(90deg,#475bf9,#475bf9 2.78%,#484ff2 3.33%,#463adc 4.31%,#3e26a8 5.56%,#3e26a8 11.67%,#4537d6 12.78%,#4743e7 14.17%,#463adc 15.83%,#422fc3 16.67%,#3e26a8 17.22%,#3e26a8 31.67%,#463adb 32.08%,#4756f7 32.64%,#3a74fe 33.47%,#307ffb 34.17%,#0fb2d4 34.31%,#09bcbe 34.44%,#48cb86 34.72%,#09bcbe 35%,#0fb2d4 35.14%,#3677fe 35.28%,#4562fc 35.97%,#4849ed 36.53%,#463adb 36.81%,#3e26a8 37.22%,#3e26a8 42.5%,#473ee1 43.19%,#4758f8 43.89%,#317dfc 45.28%,#2d8bf4 46.53%,#2e87f7 47.92%,#317dfc 48.61%,#3d70ff 49.17%,#406dfe 49.31%,#35c79a 49.44%,#35c79a 49.86%,#f9fb15 50%,#f9fb15 50.42%,#fbbc3d 50.56%,#fbbc3d 50.97%,#4465fd 51.11%,#463ee1 51.67%,#3f29b0 52.08%,#3e26a8 52.22%,#3e26a8)"></i><i style="top:411.8px;height:8.4px;background:linear-gradient(90deg,#fad42e,#fad42e 0.28%,#23a0e5 0.42%,#2d8cf3 5.56%,#3777fe 6.53%,#465efb 7.64%,#475bf9 7.78%,#463de0 8.06%,#3e26a8 8.33%,#3e26a8 19.72%,#4744e8 19.86%,#4561fc 20%,#48cb86 20.14%,#a9c73b 20.42%,#d4be28 20.56%,#a9c73b 20.69%,#48cb86 20.97%,#4561fc 21.11%,#4744e8 21.25%,#3e26a8 21.39%,#3e26a8 28.61%,#4331c8 28.89%,#463adc 29.17%,#4743e7 29.72%,#463adc 30.28%,#4331c8 30.56%,#3e26a8 30.83%,#3e26a8 48.19%,#463ddf 48.75%,#475bf9 49.31%,#2797eb 49.44%,#2797eb 49.86%,#f9fb15 50%,#f9fb15 50.42%,#1caadf 50.56%,#1caadf 50.97%,#4465fd 51.11%,#463ee1 51.67%,#3f29b0 52.08%,#3e26a8 52.22%,#3e26a8 76.11%,#463bdd 77.08%,#465efb 78.19%,#317dfc 79.03%,#1caadf 80%,#81cc59 80.14%,#b2c635 80.28%,#dcbd29 80.42%,#fbbc3d 80.56%,#dcbd29 80.69%,#b2c635 80.83%,#81cc59 80.97%,#1caadf 81.11%,#2d8cf3 81.67%,#3678fe 82.92%,#4367fd 83.89%,#475bf9 86.67%,#3e6fff 87.92%,#2f80fa 88.89%,#1caadf 90.56%,#01b9c7 91.11%,#12beb9 91.39%,#9fc942 91.53%,#ccc028 91.67%,#f0ba36 91.81%,#fec735 91.94%,#f0ba36 92.08%,#ccc028 92.22%,#9fc942 92.36%,#12beb9 92.5%,#01b9c7 92.78%,#1caadf 93.33%,#2f80fa 95.56%,#4368fe 96.39%,#4743e7 97.78%,#4536d5 98.19%,#3e26a8 98.89%,#3e26a8)"></i></div><div class="p" style="left:903px;top:583.1px;width:477px;height:420.2px"><i style="top:0px;height:9px;background:linear-gradient(90deg,#3e26a8,#3e26a8 25.97%,#3e27ab 26.11%,#4537d6 26.67%,#4744e9 27.08%,#475bf9 28.06%,#4563fd 29.03%,#465efb 30%,#4747eb 31.11%,#4536d3 31.67%,#3e26a8 32.22%,#3e26a8 34.44%,#4538d8 35.14%,#4740e4 35.69%,#463adb 36.39%,#422fc3 36.81%,#3e26a8 37.08%,#3e26a8 39.31%,#4538d8 40%,#4743e7 40.69%,#463adc 41.53%,#4434ce 41.81%,#3e27ab 42.22%,#3e26a8 42.36%,#3e26a8 43.75%,#4740e4 44.44%,#4850f3 45.14%,#4851f3 45.56%,#4741e5 46.25%,#4536d4 46.53%,#3e26a8 46.94%,#3e26a8 47.64%,#4742e6 48.06%,#4367fd 48.47%,#2f80fa 48.75%,#2995ec 49.17%,#19addc 49.72%,#04b6cd 50%,#02bac4 50.14%,#20c1b1 50.42%,#32c69e 50.56%,#4fcc81 50.69%,#7fcc5a 50.83%,#bfc32e 50.97%,#e5bb2d 51.11%,#fbbc3d 51.25%,#fccf31 51.39%,#f6f020 51.53%,#f9fb15 51.81%,#f6f020 52.08%,#fccf31 52.22%,#fbbc3d 52.36%,#e5bb2d 52.5%,#bfc32e 52.64%,#7fcc5a 52.78%,#4fcc81 52.92%,#32c69e 53.06%,#20c1b1 53.19%,#02bac4 53.47%,#04b6cd 53.61%,#19addc 53.89%,#2995ec 54.44%,#2f80fa 54.86%,#4367fd 55.14%,#4742e6 55.56%,#3e26a8 55.97%,#3e26a8 56.81%,#4740e4 57.5%,#4850f3 58.19%,#4851f3 58.61%,#4741e5 59.31%,#4536d4 59.58%,#3e26a8 60%,#3e26a8 61.67%,#4538d8 62.36%,#473fe3 62.92%,#4537d5 63.75%,#3e26a8 64.44%,#3e26a8 66.81%,#4434d0 67.5%,#463adb 68.06%,#4535d2 68.61%,#3e26a8 69.31%,#3e26a8 72.22%,#4538d8 72.92%,#4849ed 73.47%,#4759f8 74.17%,#4563fd 75.28%,#465ffb 76.11%,#484aee 77.22%,#4639da 77.78%,#3e26a8 78.47%,#3e26a8)"></i><i style="top:8.4px;height:9px;background:linear-gradient(90deg,#3e26a8,#3e26a8 25.97%,#3e27ab 26.11%,#4537d6 26.67%,#4744e9 27.08%,#475bf9 28.06%,#4563fd 29.03%,#465efb 30%,#4747eb 31.11%,#4536d3 31.67%,#3e26a8 32.22%,#3e26a8 34.44%,#4538d8 35.14%,#4740e4 35.69%,#463adb 36.39%,#422fc3 36.81%,#3e26a8 37.08%,#3e26a8 39.31%,#4538d8 40%,#4743e7 40.69%,#463adc 41.53%,#4434ce 41.81%,#3e27ab 42.22%,#3e26a8 42.36%,#3e26a8 43.75%,#4740e4 44.44%,#4850f3 45.14%,#4851f3 45.56%,#4741e5 46.25%,#4536d4 46.53%,#3e26a8 46.94%,#3e26a8 47.64%,#4742e6 48.06%,#4367fd 48.47%,#2f80fa 48.75%,#2995ec 49.17%,#19addc 49.72%,#04b6cd 50%,#02bac4 50.14%,#20c1b1 50.42%,#32c69e 50.56%,#4fcc81 50.69%,#7fcc5a 50.83%,#bfc32e 50.97%,#e5bb2d 51.11%,#fbbc3d 51.25%,#fccf31 51.39%,#f6f020 51.53%,#f9fb15 51.81%,#f6f020 52.08%,#fccf31 52.22%,#fbbc3d 52.36%,#e5bb2d 52.5%,#bfc32e 52.64%,#7fcc5a 52.78%,#4fcc81 52.92%,#32c69e 53.06%,#20c1b1 53.19%,#02bac4 53.47%,#04b6cd 53.61%,#19addc 53.89%,#2995ec 54.44%,#2f80fa 54.86%,#4367fd 55.14%,#4742e6 55.56%,#3e26a8 55.97%,#3e26a8 56.81%,#4740e4 57.5%,#4850f3 58.19%,#4851f3 58.61%,#4741e5 59.31%,#4536d4 59.58%,#3e26a8 60%,#3e26a8 61.67%,#4538d8 62.36%,#473fe3 62.92%,#4537d5 63.75%,#3e26a8 64.44%,#3e26a8 66.81%,#4434d0 67.5%,#463adb 68.06%,#4535d2 68.61%,#3e26a8 69.31%,#3e26a8 72.22%,#4538d8 72.92%,#4849ed 73.47%,#4759f8 74.17%,#4563fd 75.28%,#465ffb 76.11%,#484aee 77.22%,#4639da 77.78%,#3e26a8 78.47%,#3e26a8)"></i><i style="top:16.81px;height:9px;background:linear-gradient(90deg,#3e26a8,#3e26a8 25.97%,#3e27ab 26.11%,#4537d6 26.67%,#4744e9 27.08%,#475bf9 28.06%,#4563fd 29.03%,#465efb 30%,#4747eb 31.11%,#4536d3 31.67%,#3e26a8 32.22%,#3e26a8 34.44%,#4538d8 35.14%,#4740e4 35.69%,#463adb 36.39%,#422fc3 36.81%,#3e26a8 37.08%,#3e26a8 39.31%,#4538d8 40%,#4743e7 40.69%,#463adc 41.53%,#4434ce 41.81%,#3e27ab 42.22%,#3e26a8 42.36%,#3e26a8 43.75%,#4740e4 44.44%,#4850f3 45.14%,#4851f3 45.56%,#4741e5 46.25%,#4536d4 46.53%,#3e26a8 46.94%,#3e26a8 47.64%,#4742e6 48.06%,#4367fd 48.47%,#2f80fa 48.75%,#2995ec 49.17%,#19addc 49.72%,#04b6cd 50%,#02bac4 50.14%,#20c1b1 50.42%,#32c69e 50.56%,#4fcc81 50.69%,#7fcc5a 50.83%,#bfc32e 50.97%,#e5bb2d 51.11%,#fbbc3d 51.25%,#fccf31 51.39%,#f6f020 51.53%,#f9fb15 51.81%,#f6f020 52.08%,#fccf31 52.22%,#fbbc3d 52.36%,#e5bb2d 52.5%,#bfc32e 52.64%,#7fcc5a 52.78%,#4fcc81 52.92%,#32c69e 53.06%,#20c1b1 53.19%,#02bac4 53.47%,#04b6cd 53.61%,#19addc 53.89%,#2995ec 54.44%,#2f80fa 54.86%,#4367fd 55.14%,#4742e6 55.56%,#3e26a8 55.97%,#3e26a8 56.81%,#4740e4 57.5%,#4850f3 58.19%,#4851f3 58.61%,#4741e5 59.31%,#4536d4 59.58%,#3e26a8 60%,#3e26a8 61.67%,#4538d8 62.36%,#473fe3 62.92%,#4537d5 63.75%,#3e26a8 64.44%,#3e26a8 66.81%,#4434d0 67.5%,#463adb 68.06%,#4535d2 68.61%,#3e26a8 69.31%,#3e26a8 72.22%,#4538d8 72.92%,#4849ed 73.47%,#4759f8 74.17%,#4563fd 75.28%,#465ffb 76.11%,#484aee 77.22%,#4639da 77.78%,#3e26a8 78.47%,#3e26a8)"></i><i style="top:25.21px;height:9px;background:linear-gradient(90deg,#3e26a8,#3e26a8 25.97%,#3e27ab 26.11%,#463ee1 26.81%,#484bef 27.22%,#465ffb 28.06%,#4368fe 29.03%,#4564fd 29.86%,#484ef1 30.97%,#4537d6 31.67%,#3e26a8 32.22%,#3e26a8 34.44%,#4537d6 35%,#4745e9 35.69%,#4741e5 36.25%,#463ada 36.53%,#4331c6 36.81%,#3e26a8 37.08%,#3e26a8 39.31%,#463bdd 40%,#4847ec 40.69%,#463ee1 41.53%,#4536d2 41.81%,#3e27ac 42.22%,#3e26a8 42.36%,#3e26a8 43.75%,#4537d5 44.17%,#4743e7 44.44%,#4853f5 45%,#4756f7 45.42%,#484ef1 45.97%,#473ee1 46.39%,#3e26a8 46.94%,#3e26a8 47.64%,#4742e6 48.06%,#4367fd 48.47%,#2f80fa 48.75%,#2995ec 49.17%,#19addc 49.72%,#04b6cd 50%,#02bac4 50.14%,#20c1b1 50.42%,#32c69e 50.56%,#4fcc81 50.69%,#7fcc5a 50.83%,#bfc32e 50.97%,#e5bb2d 51.11%,#fbbc3d 51.25%,#fccf31 51.39%,#f6f020 51.53%,#f9fb15 51.81%,#f6f020 52.08%,#fccf31 52.22%,#fbbc3d 52.36%,#e5bb2d 52.5%,#bfc32e 52.64%,#7fcc5a 52.78%,#4fcc81 52.92%,#32c69e 53.06%,#20c1b1 53.19%,#02bac4 53.47%,#04b6cd 53.61%,#19addc 53.89%,#2995ec 54.44%,#2f80fa 54.86%,#4367fd 55.14%,#4742e6 55.56%,#3e26a8 55.97%,#3e26a8 56.81%,#4537d5 57.22%,#4743e7 57.5%,#4853f5 58.06%,#4756f7 58.47%,#484ef1 59.03%,#473ee1 59.44%,#3e26a8 60%,#3e26a8 61.67%,#4537d6 62.22%,#4744e8 62.92%,#463adb 63.75%,#3e26a8 64.44%,#3e26a8 66.81%,#3e27ab 66.94%,#4434cf 67.36%,#463ee1 67.92%,#4538d8 68.61%,#3e26a8 69.31%,#3e26a8 72.22%,#463adb 72.92%,#484cf0 73.47%,#475dfa 74.17%,#4368fe 75.28%,#4660fb 76.39%,#4849ed 77.36%,#4536d4 77.92%,#3e26a8 78.47%,#3e26a8)"></i><i style="top:33.62px;height:9px;background:linear-gradient(90deg,#3e26a8,#3e26a8 25.97%,#3e27ab 26.11%,#463ee1 26.81%,#484bef 27.22%,#465ffb 28.06%,#4368fe 29.03%,#4564fd 29.86%,#484ef1 30.97%,#4537d6 31.67%,#3e26a8 32.22%,#3e26a8 34.44%,#4537d6 35%,#4745e9 35.69%,#4741e5 36.25%,#463ada 36.53%,#4331c6 36.81%,#3e26a8 37.08%,#3e26a8 39.31%,#463bdd 40%,#4847ec 40.69%,#463ee1 41.53%,#4536d2 41.81%,#3e27ac 42.22%,#3e26a8 42.36%,#3e26a8 43.75%,#4537d5 44.17%,#4743e7 44.44%,#4853f5 45%,#4756f7 45.42%,#484ef1 45.97%,#473ee1 46.39%,#3e26a8 46.94%,#3e26a8 47.64%,#4742e6 48.06%,#4367fd 48.47%,#2f80fa 48.75%,#2995ec 49.17%,#19addc 49.72%,#04b6cd 50%,#02bac4 50.14%,#20c1b1 50.42%,#32c69e 50.56%,#4fcc81 50.69%,#7fcc5a 50.83%,#bfc32e 50.97%,#e5bb2d 51.11%,#fbbc3d 51.25%,#fccf31 51.39%,#f6f020 51.53%,#f9fb15 51.81%,#f6f020 52.08%,#fccf31 52.22%,#fbbc3d 52.36%,#e5bb2d 52.5%,#bfc32e 52.64%,#7fcc5a 52.78%,#4fcc81 52.92%,#32c69e 53.06%,#20c1b1 53.19%,#02bac4 53.47%,#04b6cd 53.61%,#19addc 53.89%,#2995ec 54.44%,#2f80fa 54.86%,#4367fd 55.14%,#4742e6 55.56%,#3e26a8 55.97%,#3e26a8 56.81%,#4537d5 57.22%,#4743e7 57.5%,#4853f5 58.06%,#4756f7 58.47%,#484ef1 59.03%,#473ee1 59.44%,#3e26a8 60%,#3e26a8 61.67%,#4537d6 62.22%,#4744e8 62.92%,#463adb 63.75%,#3e26a8 64.44%,#3e26a8 66.81%,#3e27ab 66.94%,#4434cf 67.36%,#463ee1 67.92%,#4538d8 68.61%,#3e26a8 69.31%,#3e26a8 72.22%,#463adb 72.92%,#484cf0 73.47%,#475dfa 74.17%,#4368fe 75.28%,#4660fb 76.39%,#4849ed 77.36%,#4536d4 77.92%,#3e26a8 78.47%,#3e26a8)"></i><i style="top:42.02px;height:9px;background:linear-gradient(90deg,#3e26a8,#3e26a8 25.97%,#3e27ab 26.11%,#4537d6 26.67%,#4744e9 27.08%,#475bf9 28.06%,#4563fd 29.03%,#465efb 30%,#4747eb 31.11%,#4536d3 31.67%,#3e26a8 32.22%,#3e26a8 34.44%,#4538d8 35.14%,#4740e4 35.69%,#463adb 36.39%,#422fc3 36.81%,#3e26a8 37.08%,#3e26a8 39.31%,#4538d8 40%,#4743e7 40.69%,#463adc 41.53%,#4434ce 41.81%,#3e27ab 42.22%,#3e26a8 42.36%,#3e26a8 43.75%,#4740e4 44.44%,#4850f3 45.14%,#4851f3 45.56%,#4741e5 46.25%,#4536d4 46.53%,#3e26a8 46.94%,#3e26a8 47.64%,#4742e6 48.06%,#4367fd 48.47%,#2f80fa 48.75%,#2995ec 49.17%,#19addc 49.72%,#04b6cd 50%,#02bac4 50.14%,#20c1b1 50.42%,#32c69e 50.56%,#4fcc81 50.69%,#7fcc5a 50.83%,#bfc32e 50.97%,#e5bb2d 51.11%,#fbbc3d 51.25%,#fccf31 51.39%,#f6f020 51.53%,#f9fb15 51.81%,#f6f020 52.08%,#fccf31 52.22%,#fbbc3d 52.36%,#e5bb2d 52.5%,#bfc32e 52.64%,#7fcc5a 52.78%,#4fcc81 52.92%,#32c69e 53.06%,#20c1b1 53.19%,#02bac4 53.47%,#04b6cd 53.61%,#19addc 53.89%,#2995ec 54.44%,#2f80fa 54.86%,#4367fd 55.14%,#4742e6 55.56%,#3e26a8 55.97%,#3e26a8 56.81%,#4740e4 57.5%,#4850f3 58.19%,#4851f3 58.61%,#4741e5 59.31%,#4536d4 59.58%,#3e26a8 60%,#3e26a8 61.67%,#4538d8 62.36%,#473fe3 62.92%,#4537d5 63.75%,#3e26a8 64.44%,#3e26a8 66.81%,#4434d0 67.5%,#463adb 68.06%,#4535d2 68.61%,#3e26a8 69.31%,#3e26a8 72.22%,#4538d8 72.92%,#4849ed 73.47%,#4759f8 74.17%,#4563fd 75.28%,#465ffb 76.11%,#484aee 77.22%,#4639da 77.78%,#3e26a8 78.47%,#3e26a8)"></i><i style="top:50.42px;height:9px;background:linear-gradient(90deg,#3e26a8,#3e26a8 25.97%,#3e27ab 26.11%,#4537d6 26.67%,#4744e9 27.08%,#475bf9 28.06%,#4563fd 29.03%,#465efb 30%,#4747eb 31.11%,#4536d3 31.67%,#3e26a8 32.22%,#3e26a8 34.44%,#4538d8 35.14%,#4740e4 35.69%,#463adb 36.39%,#422fc3 36.81%,#3e26a8 37.08%,#3e26a8 39.31%,#4538d8 40%,#4743e7 40.69%,#463adc 41.53%,#4434ce 41.81%,#3e27ab 42.22%,#3e26a8 42.36%,#3e26a8 43.75%,#4740e4 44.44%,#4850f3 45.14%,#4851f3 45.56%,#4741e5 46.25%,#4536d4 46.53%,#3e26a8 46.94%,#3e26a8 47.64%,#4742e6 48.06%,#4367fd 48.47%,#2f80fa 48.75%,#2995ec 49.17%,#19addc 49.72%,#04b6cd 50%,#02bac4 50.14%,#20c1b1 50.42%,#32c69e 50.56%,#4fcc81 50.69%,#7fcc5a 50.83%,#bfc32e 50.97%,#e5bb2d 51.11%,#fbbc3d 51.25%,#fccf31 51.39%,#f6f020 51.53%,#f9fb15 51.81%,#f6f020 52.08%,#fccf31 52.22%,#fbbc3d 52.36%,#e5bb2d 52.5%,#bfc32e 52.64%,#7fcc5a 52.78%,#4fcc81 52.92%,#32c69e 53.06%,#20c1b1 53.19%,#02bac4 53.47%,#04b6cd 53.61%,#19addc 53.89%,#2995ec 54.44%,#2f80fa 54.86%,#4367fd 55.14%,#4742e6 55.56%,#3e26a8 55.97%,#3e26a8 56.81%,#4740e4 57.5%,#4850f3 58.19%,#4851f3 58.61%,#4741e5 59.31%,#4536d4 59.58%,#3e26a8 60%,#3e26a8 61.67%,#4538d8 62.36%,#473fe3 62.92%,#4537d5 63.75%,#3e26a8 64.44%,#3e26a8 66.81%,#4434d0 67.5%,#463adb 68.06%,#4535d2 68.61%,#3e26a8 69.31%,#3e26a8 72.22%,#4538d8 72.92%,#4849ed 73.47%,#4759f8 74.17%,#4563fd 75.28%,#465ffb 76.11%,#484aee 77.22%,#4639da 77.78%,#3e26a8 78.47%,#3e26a8)"></i><i style="top:58.83px;height:9px;background:linear-gradient(90deg,#3e26a8,#3e26a8 25.97%,#3e27ab 26.11%,#4537d6 26.67%,#4744e9 27.08%,#475bf9 28.06%,#4563fd 29.03%,#465efb 30%,#4747eb 31.11%,#4536d3 31.67%,#3e26a8 32.22%,#3e26a8 34.44%,#4538d8 35.14%,#4740e4 35.69%,#463adb 36.39%,#422fc3 36.81%,#3e26a8 37.08%,#3e26a8 39.31%,#4538d8 40%,#4743e7 40.69%,#463adc 41.53%,#4434ce 41.81%,#3e27ab 42.22%,#3e26a8 42.36%,#3e26a8 43.75%,#4740e4 44.44%,#4850f3 45.14%,#4851f3 45.56%,#4741e5 46.25%,#4536d4 46.53%,#3e26a8 46.94%,#3e26a8 47.64%,#4742e6 48.06%,#4367fd 48.47%,#2f80fa 48.75%,#2995ec 49.17%,#19addc 49.72%,#04b6cd 50%,#02bac4 50.14%,#20c1b1 50.42%,#32c69e 50.56%,#4fcc81 50.69%,#7fcc5a 50.83%,#bfc32e 50.97%,#e5bb2d 51.11%,#fbbc3d 51.25%,#fccf31 51.39%,#f6f020 51.53%,#f9fb15 51.81%,#f6f020 52.08%,#fccf31 52.22%,#fbbc3d 52.36%,#e5bb2d 52.5%,#bfc32e 52.64%,#7fcc5a 52.78%,#4fcc81 52.92%,#32c69e 53.06%,#20c1b1 53.19%,#02bac4 53.47%,#04b6cd 53.61%,#19addc 53.89%,#2995ec 54.44%,#2f80fa 54.86%,#4367fd 55.14%,#4742e6 55.56%,#3e26a8 55.97%,#3e26a8 56.81%,#4740e4 57.5%,#4850f3 58.19%,#4851f3 58.61%,#4741e5 59.31%,#4536d4 59.58%,#3e26a8 60%,#3e26a8 61.67%,#4538d8 62.36%,#473fe3 62.92%,#4537d5 63.75%,#3e26a8 64.44%,#3e26a8 66.81%,#4434d0 67.5%,#463adb 68.06%,#4535d2 68.61%,#3e26a8 69.31%,#3e26a8 72.22%,#4538d8 72.92%,#4849ed 73.47%,#4759f8 74.17%,#4563fd 75.28%,#465ffb 76.11%,#484aee 77.22%,#4639da 77.78%,#3e26a8 78.47%,#3e26a8)"></i><i style="top:67.23px;height:9px;background:linear-gradient(90deg,#3e26a8,#3e26a8 25.97%,#3e27ab 26.11%,#4537d6 26.67%,#4744e9 27.08%,#475bf9 28.06%,#4563fd 29.03%,#465efb 30%,#4747eb 31.11%,#4536d3 31.67%,#3e26a8 32.22%,#3e26a8 34.44%,#4538d8 35.14%,#4740e4 35.69%,#463adb 36.39%,#422fc3 36.81%,#3e26a8 37.08%,#3e26a8 39.31%,#4538d8 40%,#4743e7 40.69%,#463adc 41.53%,#4434ce 41.81%,#3e27ab 42.22%,#3e26a8 42.36%,#3e26a8 43.75%,#4740e4 44.44%,#4850f3 45.14%,#4851f3 45.56%,#4741e5 46.25%,#4536d4 46.53%,#3e26a8 46.94%,#3e26a8 47.64%,#4742e6 48.06%,#4367fd 48.47%,#2f80fa 48.75%,#2995ec 49.17%,#19addc 49.72%,#04b6cd 50%,#02bac4 50.14%,#20c1b1 50.42%,#32c69e 50.56%,#4fcc81 50.69%,#7fcc5a 50.83%,#bfc32e 50.97%,#e5bb2d 51.11%,#fbbc3d 51.25%,#fccf31 51.39%,#f6f020 51.53%,#f9fb15 51.81%,#f6f020 52.08%,#fccf31 52.22%,#fbbc3d 52.36%,#e5bb2d 52.5%,#bfc32e 52.64%,#7fcc5a 52.78%,#4fcc81 52.92%,#32c69e 53.06%,#20c1b1 53.19%,#02bac4 53.47%,#04b6cd 53.61%,#19addc 53.89%,#2995ec 54.44%,#2f80fa 54.86%,#4367fd 55.14%,#4742e6 55.56%,#3e26a8 55.97%,#3e26a8 56.81%,#4740e4 57.5%,#4850f3 58.19%,#4851f3 58.61%,#4741e5 59.31%,#4536d4 59.58%,#3e26a8 60%,#3e26a8 61.67%,#4538d8 62.36%,#473fe3 62.92%,#4537d5 63.75%,#3e26a8 64.44%,#3e26a8 66.81%,#4434d0 67.5%,#463adb 68.06%,#4535d2 68.61%,#3e26a8 69.31%,#3e26a8 72.22%,#4538d8 72.92%,#4849ed 73.47%,#4759f8 74.17%,#4563fd 75.28%,#465ffb 76.11%,#484aee 77.22%,#4639da 77.78%,#3e26a8 78.47%,#3e26a8)"></i><i style="top:75.64px;height:9px;background:linear-gradient(90deg,#3e26a8,#3e26a8 25.97%,#3e27ab 26.11%,#4537d6 26.67%,#4744e9 27.08%,#475bf9 28.06%,#4563fd 29.03%,#465efb 30%,#4747eb 31.11%,#4536d3 31.67%,#3e26a8 32.22%,#3e26a8 34.44%,#4538d8 35.14%,#4740e4 35.69%,#463adb 36.39%,#422fc3 36.81%,#3e26a8 37.08%,#3e26a8 39.31%,#4538d8 40%,#4743e7 40.69%,#463adc 41.53%,#4434ce 41.81%,#3e27ab 42.22%,#3e26a8 42.36%,#3e26a8 43.75%,#4740e4 44.44%,#4850f3 45.14%,#4851f3 45.56%,#4741e5 46.25%,#4536d4 46.53%,#3e26a8 46.94%,#3e26a8 47.64%,#4742e6 48.06%,#4367fd 48.47%,#2f80fa 48.75%,#2995ec 49.17%,#19addc 49.72%,#04b6cd 50%,#02bac4 50.14%,#20c1b1 50.42%,#32c69e 50.56%,#4fcc81 50.69%,#7fcc5a 50.83%,#bfc32e 50.97%,#e5bb2d 51.11%,#fbbc3d 51.25%,#fccf31 51.39%,#f6f020 51.53%,#f9fb15 51.81%,#f6f020 52.08%,#fccf31 52.22%,#fbbc3d 52.36%,#e5bb2d 52.5%,#bfc32e 52.64%,#7fcc5a 52.78%,#4fcc81 52.92%,#32c69e 53.06%,#20c1b1 53.19%,#02bac4 53.47%,#04b6cd 53.61%,#19addc 53.89%,#2995ec 54.44%,#2f80fa 54.86%,#4367fd 55.14%,#4742e6 55.56%,#3e26a8 55.97%,#3e26a8 56.81%,#4740e4 57.5%,#4850f3 58.19%,#4851f3 58.61%,#4741e5 59.31%,#4536d4 59.58%,#3e26a8 60%,#3e26a8 61.67%,#4538d8 62.36%,#473fe3 62.92%,#4537d5 63.75%,#3e26a8 64.44%,#3e26a8 66.81%,#4434d0 67.5%,#463adb 68.06%,#4535d2 68.61%,#3e26a8 69.31%,#3e26a8 72.22%,#4538d8 72.92%,#4849ed 73.47%,#4759f8 74.17%,#4563fd 75.28%,#465ffb 76.11%,#484aee 77.22%,#4639da 77.78%,#3e26a8 78.47%,#3e26a8)"></i><i style="top:84.04px;height:9px;background:linear-gradient(90deg,#3e26a8,#3e26a8 25.42%,#3e27ab 25.56%,#4535d2 25.97%,#4745e9 26.39%,#475af9 27.08%,#4269fe 27.92%,#406dfe 28.75%,#4367fd 29.44%,#484cf0 30.56%,#4538d8 31.11%,#3e26a8 31.67%,#3e26a8 33.89%,#473ee2 34.58%,#484aee 35.14%,#4848ec 35.56%,#463ddf 35.97%,#4332ca 36.25%,#3e26a8 36.53%,#3e26a8 38.75%,#4435d0 39.17%,#473ee2 39.44%,#484cf0 40.14%,#4741e5 40.97%,#4538d7 41.25%,#3e27ac 41.67%,#3e26a8 41.81%,#3e26a8 43.19%,#4538d8 43.61%,#4746ea 43.89%,#4758f8 44.44%,#475af9 45%,#4741e5 45.83%,#43c 46.11%,#3e26a8 46.39%,#3e26a8 47.08%,#4742e6 47.5%,#4367fd 47.92%,#2f80fa 48.19%,#2995ec 48.61%,#19addc 49.17%,#04b6cd 49.44%,#02bac4 49.58%,#20c1b1 49.86%,#32c69e 50%,#4fcc81 50.14%,#7fcc5a 50.28%,#bfc32e 50.42%,#e5bb2d 50.56%,#fbbc3d 50.69%,#fccf31 50.83%,#f6f020 50.97%,#f9fb15 51.25%,#f6f020 51.53%,#fccf31 51.67%,#fbbc3d 51.81%,#e5bb2d 51.94%,#bfc32e 52.08%,#7fcc5a 52.22%,#4fcc81 52.36%,#32c69e 52.5%,#20c1b1 52.64%,#02bac4 52.92%,#04b6cd 53.06%,#19addc 53.33%,#2995ec 53.89%,#2f80fa 54.31%,#4367fd 54.58%,#4742e6 55%,#3e26a8 55.42%,#3e26a8 56.25%,#473fe3 56.81%,#475af9 57.64%,#4758f8 58.19%,#4741e5 58.89%,#43c 59.17%,#3e26a8 59.44%,#3e26a8 61.11%,#463adb 61.67%,#4849ed 62.36%,#463ddf 63.19%,#3e26a8 63.89%,#3e26a8 66.25%,#3e27ac 66.39%,#463adc 66.94%,#4743e7 67.5%,#463cde 68.06%,#4434ce 68.33%,#3e26a8 68.75%,#3e26a8 71.67%,#4536d4 72.22%,#4746ea 72.64%,#475bf9 73.33%,#4368fe 74.03%,#426afe 75.42%,#4850f3 76.67%,#463cdf 77.22%,#3e26a8 77.92%,#3e26a8)"></i><i style="top:92.44px;height:9px;background:linear-gradient(90deg,#3e26a8,#3e26a8 25.42%,#3e27ab 25.56%,#4435d1 25.97%,#4744e8 26.39%,#475bfa 27.22%,#4368fe 28.06%,#4368fd 29.17%,#484bef 30.56%,#4538d7 31.11%,#3e26a8 31.67%,#3e26a8 33.89%,#463de0 34.58%,#4747ec 35.14%,#4745ea 35.56%,#463bdd 35.97%,#4331c8 36.25%,#3e26a8 36.53%,#3e26a8 38.75%,#463de0 39.44%,#484aee 40.14%,#473fe3 40.97%,#4536d5 41.25%,#3e27ac 41.67%,#3e26a8 41.81%,#3e26a8 43.19%,#4537d6 43.61%,#4745e9 43.89%,#4853f4 44.31%,#4757f8 45%,#473fe3 45.83%,#4332cb 46.11%,#3e26a8 46.39%,#3e26a8 47.08%,#4742e6 47.5%,#4367fd 47.92%,#2f80fa 48.19%,#2995ec 48.61%,#19addc 49.17%,#04b6cd 49.44%,#02bac4 49.58%,#20c1b1 49.86%,#32c69e 50%,#4fcc81 50.14%,#7fcc5a 50.28%,#bfc32e 50.42%,#e5bb2d 50.56%,#fbbc3d 50.69%,#fccf31 50.83%,#f6f020 50.97%,#f9fb15 51.25%,#f6f020 51.53%,#fccf31 51.67%,#fbbc3d 51.81%,#e5bb2d 51.94%,#bfc32e 52.08%,#7fcc5a 52.22%,#4fcc81 52.36%,#32c69e 52.5%,#20c1b1 52.64%,#02bac4 52.92%,#04b6cd 53.06%,#19addc 53.33%,#2995ec 53.89%,#2f80fa 54.31%,#4367fd 54.58%,#4742e6 55%,#3e26a8 55.42%,#3e26a8 56.25%,#4537d6 56.67%,#4745e9 56.94%,#4758f8 57.78%,#4756f6 58.19%,#4746ea 58.75%,#4539d9 59.03%,#3e26a8 59.44%,#3e26a8 61.11%,#4434d0 61.53%,#463de0 61.81%,#4747eb 62.5%,#463bdd 63.19%,#3e26a8 63.89%,#3e26a8 66.25%,#3e27ac 66.39%,#4539d9 66.94%,#4740e4 67.36%,#463adb 68.06%,#43c 68.33%,#3e26a8 68.75%,#3e26a8 71.67%,#4536d3 72.22%,#4745e9 72.64%,#475cfa 73.47%,#4368fe 74.31%,#4466fd 75.56%,#484aee 76.81%,#463bde 77.22%,#3e26a8 77.92%,#3e26a8)"></i><i style="top:100.85px;height:9px;background:linear-gradient(90deg,#3e26a8,#3e26a8 25.42%,#3e27ab 25.56%,#4537d6 26.11%,#4744e9 26.53%,#475bf9 27.5%,#4563fd 28.47%,#465efb 29.44%,#4747eb 30.56%,#4536d3 31.11%,#3e26a8 31.67%,#3e26a8 33.89%,#4538d8 34.58%,#4740e4 35.14%,#463adb 35.83%,#422fc3 36.25%,#3e26a8 36.53%,#3e26a8 38.75%,#4538d8 39.44%,#4743e7 40.14%,#463adc 40.97%,#4434ce 41.25%,#3e27ab 41.67%,#3e26a8 41.81%,#3e26a8 43.19%,#4740e4 43.89%,#4850f3 44.58%,#4851f3 45%,#4741e5 45.69%,#4536d4 45.97%,#3e26a8 46.39%,#3e26a8 47.08%,#4742e6 47.5%,#4367fd 47.92%,#2f80fa 48.19%,#2995ec 48.61%,#19addc 49.17%,#04b6cd 49.44%,#02bac4 49.58%,#20c1b1 49.86%,#32c69e 50%,#4fcc81 50.14%,#7fcc5a 50.28%,#bfc32e 50.42%,#e5bb2d 50.56%,#fbbc3d 50.69%,#fccf31 50.83%,#f6f020 50.97%,#f9fb15 51.25%,#f6f020 51.53%,#fccf31 51.67%,#fbbc3d 51.81%,#e5bb2d 51.94%,#bfc32e 52.08%,#7fcc5a 52.22%,#4fcc81 52.36%,#32c69e 52.5%,#20c1b1 52.64%,#02bac4 52.92%,#04b6cd 53.06%,#19addc 53.33%,#2995ec 53.89%,#2f80fa 54.31%,#4367fd 54.58%,#4742e6 55%,#3e26a8 55.42%,#3e26a8 56.25%,#4740e4 56.94%,#4850f3 57.64%,#4851f3 58.06%,#4741e5 58.75%,#4536d4 59.03%,#3e26a8 59.44%,#3e26a8 61.11%,#4538d8 61.81%,#473fe3 62.36%,#4537d5 63.19%,#3e26a8 63.89%,#3e26a8 66.25%,#4434d0 66.94%,#463adb 67.5%,#4535d2 68.06%,#3e26a8 68.75%,#3e26a8 71.67%,#4538d8 72.36%,#4849ed 72.92%,#465ffb 74.03%,#4563fd 74.72%,#465ffb 75.56%,#484aee 76.67%,#4639da 77.22%,#3e26a8 77.92%,#3e26a8)"></i><i style="top:109.25px;height:9px;background:linear-gradient(90deg,#3e26a8,#3e26a8 25.42%,#3e27ab 25.56%,#4537d6 26.11%,#4744e9 26.53%,#475bf9 27.5%,#4563fd 28.47%,#465efb 29.44%,#4747eb 30.56%,#4536d3 31.11%,#3e26a8 31.67%,#3e26a8 33.89%,#4538d8 34.58%,#4740e4 35.14%,#463adb 35.83%,#422fc3 36.25%,#3e26a8 36.53%,#3e26a8 38.75%,#4538d8 39.44%,#4743e7 40.14%,#463adc 40.97%,#4434ce 41.25%,#3e27ab 41.67%,#3e26a8 41.81%,#3e26a8 43.19%,#4740e4 43.89%,#4850f3 44.58%,#4851f3 45%,#4741e5 45.69%,#4536d4 45.97%,#3e26a8 46.39%,#3e26a8 47.08%,#4742e6 47.5%,#4367fd 47.92%,#2f80fa 48.19%,#2995ec 48.61%,#19addc 49.17%,#04b6cd 49.44%,#02bac4 49.58%,#20c1b1 49.86%,#32c69e 50%,#4fcc81 50.14%,#7fcc5a 50.28%,#bfc32e 50.42%,#e5bb2d 50.56%,#fbbc3d 50.69%,#fccf31 50.83%,#f6f020 50.97%,#f9fb15 51.25%,#f6f020 51.53%,#fccf31 51.67%,#fbbc3d 51.81%,#e5bb2d 51.94%,#bfc32e 52.08%,#7fcc5a 52.22%,#4fcc81 52.36%,#32c69e 52.5%,#20c1b1 52.64%,#02bac4 52.92%,#04b6cd 53.06%,#19addc 53.33%,#2995ec 53.89%,#2f80fa 54.31%,#4367fd 54.58%,#4742e6 55%,#3e26a8 55.42%,#3e26a8 56.25%,#4740e4 56.94%,#4850f3 57.64%,#4851f3 58.06%,#4741e5 58.75%,#4536d4 59.03%,#3e26a8 59.44%,#3e26a8 61.11%,#4538d8 61.81%,#473fe3 62.36%,#4537d5 63.19%,#3e26a8 63.89%,#3e26a8 66.25%,#4434d0 66.94%,#463adb 67.5%,#4535d2 68.06%,#3e26a8 68.75%,#3e26a8 71.67%,#4538d8 72.36%,#4849ed 72.92%,#465ffb 74.03%,#4563fd 74.72%,#465ffb 75.56%,#484aee 76.67%,#4639da 77.22%,#3e26a8 77.92%,#3e26a8)"></i><i style="top:117.66px;height:9px;background:linear-gradient(90deg,#3e26a8,#3e26a8 25.42%,#3e27ab 25.56%,#4537d6 26.11%,#4744e9 26.53%,#475bf9 27.5%,#4563fd 28.47%,#465efb 29.44%,#4747eb 30.56%,#4536d3 31.11%,#3e26a8 31.67%,#3e26a8 33.89%,#4538d8 34.58%,#4740e4 35.14%,#463adb 35.83%,#422fc3 36.25%,#3e26a8 36.53%,#3e26a8 38.75%,#4538d8 39.44%,#4743e7 40.14%,#463adc 40.97%,#4434ce 41.25%,#3e27ab 41.67%,#3e26a8 41.81%,#3e26a8 43.19%,#4740e4 43.89%,#4850f3 44.58%,#4851f3 45%,#4741e5 45.69%,#4536d4 45.97%,#3e26a8 46.39%,#3e26a8 47.08%,#4742e6 47.5%,#4367fd 47.92%,#2f80fa 48.19%,#2995ec 48.61%,#19addc 49.17%,#04b6cd 49.44%,#02bac4 49.58%,#20c1b1 49.86%,#32c69e 50%,#4fcc81 50.14%,#7fcc5a 50.28%,#bfc32e 50.42%,#e5bb2d 50.56%,#fbbc3d 50.69%,#fccf31 50.83%,#f6f020 50.97%,#f9fb15 51.25%,#f6f020 51.53%,#fccf31 51.67%,#fbbc3d 51.81%,#e5bb2d 51.94%,#bfc32e 52.08%,#7fcc5a 52.22%,#4fcc81 52.36%,#32c69e 52.5%,#20c1b1 52.64%,#02bac4 52.92%,#04b6cd 53.06%,#19addc 53.33%,#2995ec 53.89%,#2f80fa 54.31%,#4367fd 54.58%,#4742e6 55%,#3e26a8 55.42%,#3e26a8 56.25%,#4740e4 56.94%,#4850f3 57.64%,#4851f3 58.06%,#4741e5 58.75%,#4536d4 59.03%,#3e26a8 59.44%,#3e26a8 61.11%,#4538d8 61.81%,#473fe3 62.36%,#4537d5 63.19%,#3e26a8 63.89%,#3e26a8 66.25%,#4434d0 66.94%,#463adb 67.5%,#4535d2 68.06%,#3e26a8 68.75%,#3e26a8 71.67%,#4538d8 72.36%,#4849ed 72.92%,#465ffb 74.03%,#4563fd 74.72%,#465ffb 75.56%,#484aee 76.67%,#4639da 77.22%,#3e26a8 77.92%,#3e26a8)"></i><i style="top:126.06px;height:9px;background:linear-gradient(90deg,#3e26a8,#3e26a8 25.42%,#3e27ab 25.56%,#4537d6 26.11%,#4744e9 26.53%,#475bf9 27.5%,#4563fd 28.47%,#465efb 29.44%,#4747eb 30.56%,#4536d3 31.11%,#3e26a8 31.67%,#3e26a8 33.89%,#4538d8 34.58%,#4740e4 35.14%,#463adb 35.83%,#422fc3 36.25%,#3e26a8 36.53%,#3e26a8 38.75%,#4538d8 39.44%,#4743e7 40.14%,#463adc 40.97%,#4434ce 41.25%,#3e27ab 41.67%,#3e26a8 41.81%,#3e26a8 43.19%,#4740e4 43.89%,#4850f3 44.58%,#4851f3 45%,#4741e5 45.69%,#4536d4 45.97%,#3e26a8 46.39%,#3e26a8 47.08%,#4742e6 47.5%,#4367fd 47.92%,#2f80fa 48.19%,#2995ec 48.61%,#19addc 49.17%,#04b6cd 49.44%,#02bac4 49.58%,#20c1b1 49.86%,#32c69e 50%,#4fcc81 50.14%,#7fcc5a 50.28%,#bfc32e 50.42%,#e5bb2d 50.56%,#fbbc3d 50.69%,#fccf31 50.83%,#f6f020 50.97%,#f9fb15 51.25%,#f6f020 51.53%,#fccf31 51.67%,#fbbc3d 51.81%,#e5bb2d 51.94%,#bfc32e 52.08%,#7fcc5a 52.22%,#4fcc81 52.36%,#32c69e 52.5%,#20c1b1 52.64%,#02bac4 52.92%,#04b6cd 53.06%,#19addc 53.33%,#2995ec 53.89%,#2f80fa 54.31%,#4367fd 54.58%,#4742e6 55%,#3e26a8 55.42%,#3e26a8 56.25%,#4740e4 56.94%,#4850f3 57.64%,#4851f3 58.06%,#4741e5 58.75%,#4536d4 59.03%,#3e26a8 59.44%,#3e26a8 61.11%,#4538d8 61.81%,#473fe3 62.36%,#4537d5 63.19%,#3e26a8 63.89%,#3e26a8 66.25%,#4434d0 66.94%,#463adb 67.5%,#4535d2 68.06%,#3e26a8 68.75%,#3e26a8 71.67%,#4538d8 72.36%,#4849ed 72.92%,#465ffb 74.03%,#4563fd 74.72%,#465ffb 75.56%,#484aee 76.67%,#4639da 77.22%,#3e26a8 77.92%,#3e26a8)"></i><i style="top:134.46px;height:9px;background:linear-gradient(90deg,#3e26a8,#3e26a8 25.42%,#3e27ab 25.56%,#4537d6 26.11%,#4744e9 26.53%,#475bf9 27.5%,#4563fd 28.47%,#465efb 29.44%,#4747eb 30.56%,#4536d3 31.11%,#3e26a8 31.67%,#3e26a8 33.89%,#4538d8 34.58%,#4740e4 35.14%,#463adb 35.83%,#422fc3 36.25%,#3e26a8 36.53%,#3e26a8 38.75%,#4538d8 39.44%,#4743e7 40.14%,#463adc 40.97%,#4434ce 41.25%,#3e27ab 41.67%,#3e26a8 41.81%,#3e26a8 43.19%,#4740e4 43.89%,#4850f3 44.58%,#4851f3 45%,#4741e5 45.69%,#4536d4 45.97%,#3e26a8 46.39%,#3e26a8 47.08%,#4742e6 47.5%,#4367fd 47.92%,#2f80fa 48.19%,#2995ec 48.61%,#19addc 49.17%,#04b6cd 49.44%,#02bac4 49.58%,#20c1b1 49.86%,#32c69e 50%,#4fcc81 50.14%,#7fcc5a 50.28%,#bfc32e 50.42%,#e5bb2d 50.56%,#fbbc3d 50.69%,#fccf31 50.83%,#f6f020 50.97%,#f9fb15 51.25%,#f6f020 51.53%,#fccf31 51.67%,#fbbc3d 51.81%,#e5bb2d 51.94%,#bfc32e 52.08%,#7fcc5a 52.22%,#4fcc81 52.36%,#32c69e 52.5%,#20c1b1 52.64%,#02bac4 52.92%,#04b6cd 53.06%,#19addc 53.33%,#2995ec 53.89%,#2f80fa 54.31%,#4367fd 54.58%,#4742e6 55%,#3e26a8 55.42%,#3e26a8 56.25%,#4740e4 56.94%,#4850f3 57.64%,#4851f3 58.06%,#4741e5 58.75%,#4536d4 59.03%,#3e26a8 59.44%,#3e26a8 61.11%,#4538d8 61.81%,#473fe3 62.36%,#4537d5 63.19%,#3e26a8 63.89%,#3e26a8 66.25%,#4434d0 66.94%,#463adb 67.5%,#4535d2 68.06%,#3e26a8 68.75%,#3e26a8 71.67%,#4538d8 72.36%,#4849ed 72.92%,#465ffb 74.03%,#4563fd 74.72%,#465ffb 75.56%,#484aee 76.67%,#4639da 77.22%,#3e26a8 77.92%,#3e26a8)"></i><i style="top:142.87px;height:9px;background:linear-gradient(90deg,#3e26a8,#3e26a8 25.42%,#3e27ab 25.56%,#4537d6 26.11%,#4744e9 26.53%,#475bf9 27.5%,#4563fd 28.47%,#465efb 29.44%,#4747eb 30.56%,#4536d3 31.11%,#3e26a8 31.67%,#3e26a8 33.89%,#4538d8 34.58%,#4740e4 35.14%,#463adb 35.83%,#422fc3 36.25%,#3e26a8 36.53%,#3e26a8 38.75%,#4538d8 39.44%,#4743e7 40.14%,#463adc 40.97%,#4434ce 41.25%,#3e27ab 41.67%,#3e26a8 41.81%,#3e26a8 43.19%,#4740e4 43.89%,#4850f3 44.58%,#4851f3 45%,#4741e5 45.69%,#4536d4 45.97%,#3e26a8 46.39%,#3e26a8 47.08%,#4742e6 47.5%,#4367fd 47.92%,#2f80fa 48.19%,#2995ec 48.61%,#19addc 49.17%,#04b6cd 49.44%,#02bac4 49.58%,#20c1b1 49.86%,#32c69e 50%,#4fcc81 50.14%,#7fcc5a 50.28%,#bfc32e 50.42%,#e5bb2d 50.56%,#fbbc3d 50.69%,#fccf31 50.83%,#f6f020 50.97%,#f9fb15 51.25%,#f6f020 51.53%,#fccf31 51.67%,#fbbc3d 51.81%,#e5bb2d 51.94%,#bfc32e 52.08%,#7fcc5a 52.22%,#4fcc81 52.36%,#32c69e 52.5%,#20c1b1 52.64%,#02bac4 52.92%,#04b6cd 53.06%,#19addc 53.33%,#2995ec 53.89%,#2f80fa 54.31%,#4367fd 54.58%,#4742e6 55%,#3e26a8 55.42%,#3e26a8 56.25%,#4740e4 56.94%,#4850f3 57.64%,#4851f3 58.06%,#4741e5 58.75%,#4536d4 59.03%,#3e26a8 59.44%,#3e26a8 61.11%,#4538d8 61.81%,#473fe3 62.36%,#4537d5 63.19%,#3e26a8 63.89%,#3e26a8 66.25%,#4434d0 66.94%,#463adb 67.5%,#4535d2 68.06%,#3e26a8 68.75%,#3e26a8 71.67%,#4538d8 72.36%,#4849ed 72.92%,#465ffb 74.03%,#4563fd 74.72%,#465ffb 75.56%,#484aee 76.67%,#4639da 77.22%,#3e26a8 77.92%,#3e26a8)"></i><i style="top:151.27px;height:9px;background:linear-gradient(90deg,#3e26a8,#3e26a8 25.42%,#3e27ab 25.56%,#4537d6 26.11%,#4744e9 26.53%,#475bf9 27.5%,#4563fd 28.47%,#465efb 29.44%,#4747eb 30.56%,#4536d3 31.11%,#3e26a8 31.67%,#3e26a8 33.89%,#4538d8 34.58%,#4740e4 35.14%,#463adb 35.83%,#422fc3 36.25%,#3e26a8 36.53%,#3e26a8 38.75%,#4538d8 39.44%,#4743e7 40.14%,#463adc 40.97%,#4434ce 41.25%,#3e27ab 41.67%,#3e26a8 41.81%,#3e26a8 43.19%,#4740e4 43.89%,#4850f3 44.58%,#4851f3 45%,#4741e5 45.69%,#4536d4 45.97%,#3e26a8 46.39%,#3e26a8 47.08%,#4742e6 47.5%,#4367fd 47.92%,#2f80fa 48.19%,#2995ec 48.61%,#19addc 49.17%,#04b6cd 49.44%,#02bac4 49.58%,#20c1b1 49.86%,#32c69e 50%,#4fcc81 50.14%,#7fcc5a 50.28%,#bfc32e 50.42%,#e5bb2d 50.56%,#fbbc3d 50.69%,#fccf31 50.83%,#f6f020 50.97%,#f9fb15 51.25%,#f6f020 51.53%,#fccf31 51.67%,#fbbc3d 51.81%,#e5bb2d 51.94%,#bfc32e 52.08%,#7fcc5a 52.22%,#4fcc81 52.36%,#32c69e 52.5%,#20c1b1 52.64%,#02bac4 52.92%,#04b6cd 53.06%,#19addc 53.33%,#2995ec 53.89%,#2f80fa 54.31%,#4367fd 54.58%,#4742e6 55%,#3e26a8 55.42%,#3e26a8 56.25%,#4740e4 56.94%,#4850f3 57.64%,#4851f3 58.06%,#4741e5 58.75%,#4536d4 59.03%,#3e26a8 59.44%,#3e26a8 61.11%,#4538d8 61.81%,#473fe3 62.36%,#4537d5 63.19%,#3e26a8 63.89%,#3e26a8 66.25%,#4434d0 66.94%,#463adb 67.5%,#4535d2 68.06%,#3e26a8 68.75%,#3e26a8 71.67%,#4538d8 72.36%,#4849ed 72.92%,#465ffb 74.03%,#4563fd 74.72%,#465ffb 75.56%,#484aee 76.67%,#4639da 77.22%,#3e26a8 77.92%,#3e26a8)"></i><i style="top:159.68px;height:9px;background:linear-gradient(90deg,#3e26a8,#3e26a8 24.86%,#3e27ac 25%,#4332cb 25.28%,#4744e9 25.69%,#475af9 26.25%,#3d71ff 27.08%,#3479fd 27.78%,#3678fd 28.47%,#406dfe 29.17%,#4758f8 29.86%,#463cde 30.56%,#3e26a8 31.11%,#3e26a8 33.33%,#4740e4 33.89%,#4851f3 34.31%,#4756f7 34.72%,#4745e9 35.42%,#4536d3 35.69%,#3e26a8 35.97%,#3e26a8 38.19%,#4740e4 38.75%,#484cf0 39.03%,#4758f8 39.58%,#4756f6 40%,#4744e8 40.56%,#4536d3 40.83%,#3f28ad 41.11%,#3e26a8 41.25%,#3e26a8 42.64%,#463ddf 43.06%,#484ef1 43.33%,#4563fc 43.89%,#4563fd 44.58%,#4848ec 45.28%,#4536d2 45.56%,#3e26a8 45.83%,#3e26a8 46.53%,#4742e6 46.94%,#4367fd 47.36%,#2f80fa 47.64%,#2995ec 48.06%,#19addc 48.61%,#04b6cd 48.89%,#02bac4 49.03%,#20c1b1 49.31%,#32c69e 49.44%,#4fcc81 49.58%,#7fcc5a 49.72%,#bfc32e 49.86%,#e5bb2d 50%,#fbbc3d 50.14%,#fccf31 50.28%,#f6f020 50.42%,#f9fb15 50.69%,#f6f020 50.97%,#fccf31 51.11%,#fbbc3d 51.25%,#e5bb2d 51.39%,#bfc32e 51.53%,#7fcc5a 51.67%,#4fcc81 51.81%,#32c69e 51.94%,#20c1b1 52.08%,#02bac4 52.36%,#04b6cd 52.5%,#19addc 52.78%,#2995ec 53.33%,#2f80fa 53.75%,#4367fd 54.03%,#4742e6 54.44%,#3e26a8 54.86%,#3e26a8 55.69%,#463ddf 56.11%,#4746ea 56.25%,#4755f6 56.53%,#4465fd 57.08%,#4660fc 57.78%,#4848ec 58.33%,#4536d2 58.61%,#3e26a8 58.89%,#3e26a8 60.56%,#4433cd 60.83%,#4741e5 61.11%,#4854f6 61.81%,#484ff2 62.36%,#473fe2 62.78%,#3e26a8 63.33%,#3e26a8 65.69%,#3f28ad 65.83%,#463ddf 66.25%,#4848ec 66.53%,#484ff2 66.94%,#473fe3 67.64%,#3e26a8 68.19%,#3e26a8 71.11%,#3f28af 71.25%,#4639da 71.67%,#4746ea 71.94%,#4756f7 72.36%,#3f6eff 73.19%,#347afd 74.44%,#3c72ff 75.14%,#475cfa 75.97%,#4741e5 76.67%,#3e26a8 77.36%,#3e26a8)"></i><i style="top:168.08px;height:9px;background:linear-gradient(90deg,#3e26a8,#3e26a8 24.86%,#3e27ac 25%,#463cde 25.56%,#484cf0 25.97%,#465dfb 26.53%,#3f6eff 27.36%,#3e6fff 28.61%,#484ff2 30%,#463ada 30.56%,#3e26a8 31.11%,#3e26a8 33.33%,#463cdf 33.89%,#4747eb 34.17%,#484ff2 34.72%,#4740e3 35.42%,#4434cd 35.69%,#3e26a8 35.97%,#3e26a8 38.19%,#4536d4 38.61%,#4742e6 38.89%,#4851f3 39.58%,#484df0 40.14%,#4740e3 40.56%,#4434ce 40.83%,#3e28ac 41.11%,#3e26a8 41.25%,#3e26a8 42.64%,#463adb 43.06%,#4849ed 43.33%,#475cfa 43.89%,#465efb 44.44%,#4756f6 44.86%,#4743e8 45.28%,#463cde 45.42%,#3e26a8 45.83%,#3e26a8 46.53%,#4742e6 46.94%,#4367fd 47.36%,#2f80fa 47.64%,#2995ec 48.06%,#19addc 48.61%,#04b6cd 48.89%,#02bac4 49.03%,#20c1b1 49.31%,#32c69e 49.44%,#4fcc81 49.58%,#7fcc5a 49.72%,#bfc32e 49.86%,#e5bb2d 50%,#fbbc3d 50.14%,#fccf31 50.28%,#f6f020 50.42%,#f9fb15 50.69%,#f6f020 50.97%,#fccf31 51.11%,#fbbc3d 51.25%,#e5bb2d 51.39%,#bfc32e 51.53%,#7fcc5a 51.67%,#4fcc81 51.81%,#32c69e 51.94%,#20c1b1 52.08%,#02bac4 52.36%,#04b6cd 52.5%,#19addc 52.78%,#2995ec 53.33%,#2f80fa 53.75%,#4367fd 54.03%,#4742e6 54.44%,#3e26a8 54.86%,#3e26a8 55.69%,#4742e6 56.25%,#4755f6 56.67%,#465efb 57.08%,#475af9 57.78%,#4743e8 58.33%,#463cde 58.47%,#3e26a8 58.89%,#3e26a8 60.56%,#463de0 61.11%,#484df1 61.81%,#4740e4 62.64%,#3e26a8 63.33%,#3e26a8 65.69%,#3e28ac 65.83%,#4434cd 66.11%,#463ee1 66.39%,#4848ec 66.94%,#463bdc 67.64%,#3e26a8 68.19%,#3e26a8 71.11%,#463de0 71.81%,#484df1 72.22%,#3f6eff 73.61%,#3f6fff 74.86%,#4853f5 76.11%,#463ee1 76.67%,#3e26a8 77.36%,#3e26a8)"></i><i style="top:176.48px;height:9px;background:linear-gradient(90deg,#3e26a8,#3e26a8 24.86%,#3e27ab 25%,#4537d6 25.56%,#4744e9 25.97%,#475bf9 26.94%,#4563fd 27.92%,#465efb 28.89%,#4747eb 30%,#4536d3 30.56%,#3e26a8 31.11%,#3e26a8 33.33%,#4538d8 34.03%,#4740e4 34.58%,#463adb 35.28%,#422fc3 35.69%,#3e26a8 35.97%,#3e26a8 38.19%,#4538d8 38.89%,#4743e7 39.58%,#463adc 40.42%,#4434ce 40.69%,#3e27ab 41.11%,#3e26a8 41.25%,#3e26a8 42.64%,#4740e4 43.33%,#4850f3 44.03%,#4851f3 44.44%,#4741e5 45.14%,#4536d4 45.42%,#3e26a8 45.83%,#3e26a8 46.53%,#4742e6 46.94%,#4367fd 47.36%,#2f80fa 47.64%,#2995ec 48.06%,#19addc 48.61%,#04b6cd 48.89%,#02bac4 49.03%,#20c1b1 49.31%,#32c69e 49.44%,#4fcc81 49.58%,#7fcc5a 49.72%,#bfc32e 49.86%,#e5bb2d 50%,#fbbc3d 50.14%,#fccf31 50.28%,#f6f020 50.42%,#f9fb15 50.69%,#f6f020 50.97%,#fccf31 51.11%,#fbbc3d 51.25%,#e5bb2d 51.39%,#bfc32e 51.53%,#7fcc5a 51.67%,#4fcc81 51.81%,#32c69e 51.94%,#20c1b1 52.08%,#02bac4 52.36%,#04b6cd 52.5%,#19addc 52.78%,#2995ec 53.33%,#2f80fa 53.75%,#4367fd 54.03%,#4742e6 54.44%,#3e26a8 54.86%,#3e26a8 55.69%,#4740e4 56.39%,#4850f3 57.08%,#4851f3 57.5%,#4741e5 58.19%,#4536d4 58.47%,#3e26a8 58.89%,#3e26a8 60.56%,#4538d8 61.25%,#473fe3 61.81%,#4537d5 62.64%,#3e26a8 63.33%,#3e26a8 65.69%,#4434d0 66.39%,#463adb 66.94%,#4535d2 67.5%,#3e26a8 68.19%,#3e26a8 71.11%,#4538d8 71.81%,#4849ed 72.36%,#465dfa 73.33%,#4563fd 74.17%,#465ffb 75%,#484aee 76.11%,#4639da 76.67%,#3e26a8 77.36%,#3e26a8)"></i><i style="top:184.89px;height:9px;background:linear-gradient(90deg,#3e26a8,#3e26a8 24.86%,#3e27ab 25%,#4537d6 25.56%,#4744e9 25.97%,#475bf9 26.94%,#4563fd 27.92%,#465efb 28.89%,#4747eb 30%,#4536d3 30.56%,#3e26a8 31.11%,#3e26a8 33.33%,#4538d8 34.03%,#4740e4 34.58%,#463adb 35.28%,#422fc3 35.69%,#3e26a8 35.97%,#3e26a8 38.19%,#4538d8 38.89%,#4743e7 39.58%,#463adc 40.42%,#4434ce 40.69%,#3e27ab 41.11%,#3e26a8 41.25%,#3e26a8 42.64%,#4740e4 43.33%,#4850f3 44.03%,#4851f3 44.44%,#4741e5 45.14%,#4536d4 45.42%,#3e26a8 45.83%,#3e26a8 46.53%,#4742e6 46.94%,#4367fd 47.36%,#2f80fa 47.64%,#2995ec 48.06%,#19addc 48.61%,#04b6cd 48.89%,#02bac4 49.03%,#20c1b1 49.31%,#32c69e 49.44%,#4fcc81 49.58%,#7fcc5a 49.72%,#bfc32e 49.86%,#e5bb2d 50%,#fbbc3d 50.14%,#fccf31 50.28%,#f6f020 50.42%,#f9fb15 50.69%,#f6f020 50.97%,#fccf31 51.11%,#fbbc3d 51.25%,#e5bb2d 51.39%,#bfc32e 51.53%,#7fcc5a 51.67%,#4fcc81 51.81%,#32c69e 51.94%,#20c1b1 52.08%,#02bac4 52.36%,#04b6cd 52.5%,#19addc 52.78%,#2995ec 53.33%,#2f80fa 53.75%,#4367fd 54.03%,#4742e6 54.44%,#3e26a8 54.86%,#3e26a8 55.69%,#4740e4 56.39%,#4850f3 57.08%,#4851f3 57.5%,#4741e5 58.19%,#4536d4 58.47%,#3e26a8 58.89%,#3e26a8 60.56%,#4538d8 61.25%,#473fe3 61.81%,#4537d5 62.64%,#3e26a8 63.33%,#3e26a8 65.69%,#4434d0 66.39%,#463adb 66.94%,#4535d2 67.5%,#3e26a8 68.19%,#3e26a8 71.11%,#4538d8 71.81%,#4849ed 72.36%,#465dfa 73.33%,#4563fd 74.17%,#465ffb 75%,#484aee 76.11%,#4639da 76.67%,#3e26a8 77.36%,#3e26a8)"></i><i style="top:193.29px;height:9px;background:linear-gradient(90deg,#3e26a8,#3e26a8 24.86%,#3e27ab 25%,#4537d6 25.56%,#4744e9 25.97%,#475bf9 26.94%,#4563fd 27.92%,#465efb 28.89%,#4747eb 30%,#4536d3 30.56%,#3e26a8 31.11%,#3e26a8 33.33%,#4538d8 34.03%,#4740e4 34.58%,#463adb 35.28%,#422fc3 35.69%,#3e26a8 35.97%,#3e26a8 38.19%,#4538d8 38.89%,#4743e7 39.58%,#463adc 40.42%,#4434ce 40.69%,#3e27ab 41.11%,#3e26a8 41.25%,#3e26a8 42.64%,#4740e4 43.33%,#4850f3 44.03%,#4851f3 44.44%,#4741e5 45.14%,#4536d4 45.42%,#3e26a8 45.83%,#3e26a8 46.53%,#4742e6 46.94%,#4367fd 47.36%,#2f80fa 47.64%,#2995ec 48.06%,#19addc 48.61%,#04b6cd 48.89%,#02bac4 49.03%,#20c1b1 49.31%,#32c69e 49.44%,#4fcc81 49.58%,#7fcc5a 49.72%,#bfc32e 49.86%,#e5bb2d 50%,#fbbc3d 50.14%,#fccf31 50.28%,#f6f020 50.42%,#f9fb15 50.69%,#f6f020 50.97%,#fccf31 51.11%,#fbbc3d 51.25%,#e5bb2d 51.39%,#bfc32e 51.53%,#7fcc5a 51.67%,#4fcc81 51.81%,#32c69e 51.94%,#20c1b1 52.08%,#02bac4 52.36%,#04b6cd 52.5%,#19addc 52.78%,#2995ec 53.33%,#2f80fa 53.75%,#4367fd 54.03%,#4742e6 54.44%,#3e26a8 54.86%,#3e26a8 55.69%,#4740e4 56.39%,#4850f3 57.08%,#4851f3 57.5%,#4741e5 58.19%,#4536d4 58.47%,#3e26a8 58.89%,#3e26a8 60.56%,#4538d8 61.25%,#473fe3 61.81%,#4537d5 62.64%,#3e26a8 63.33%,#3e26a8 65.69%,#4434d0 66.39%,#463adb 66.94%,#4535d2 67.5%,#3e26a8 68.19%,#3e26a8 71.11%,#4538d8 71.81%,#4849ed 72.36%,#465dfa 73.33%,#4563fd 74.17%,#465ffb 75%,#484aee 76.11%,#4639da 76.67%,#3e26a8 77.36%,#3e26a8)"></i><i style="top:201.7px;height:9px;background:linear-gradient(90deg,#3e26a8,#3e26a8 24.86%,#3e27ab 25%,#4537d6 25.56%,#4744e9 25.97%,#475bf9 26.94%,#4563fd 27.92%,#465efb 28.89%,#4747eb 30%,#4536d3 30.56%,#3e26a8 31.11%,#3e26a8 33.33%,#4538d8 34.03%,#4740e4 34.58%,#463adb 35.28%,#422fc3 35.69%,#3e26a8 35.97%,#3e26a8 38.19%,#4538d8 38.89%,#4743e7 39.58%,#463adc 40.42%,#4434ce 40.69%,#3e27ab 41.11%,#3e26a8 41.25%,#3e26a8 42.64%,#4740e4 43.33%,#4850f3 44.03%,#4851f3 44.44%,#4741e5 45.14%,#4536d4 45.42%,#3e26a8 45.83%,#3e26a8 46.53%,#4742e6 46.94%,#4367fd 47.36%,#2f80fa 47.64%,#2995ec 48.06%,#19addc 48.61%,#04b6cd 48.89%,#02bac4 49.03%,#20c1b1 49.31%,#32c69e 49.44%,#4fcc81 49.58%,#7fcc5a 49.72%,#bfc32e 49.86%,#e5bb2d 50%,#fbbc3d 50.14%,#fccf31 50.28%,#f6f020 50.42%,#f9fb15 50.69%,#f6f020 50.97%,#fccf31 51.11%,#fbbc3d 51.25%,#e5bb2d 51.39%,#bfc32e 51.53%,#7fcc5a 51.67%,#4fcc81 51.81%,#32c69e 51.94%,#20c1b1 52.08%,#02bac4 52.36%,#04b6cd 52.5%,#19addc 52.78%,#2995ec 53.33%,#2f80fa 53.75%,#4367fd 54.03%,#4742e6 54.44%,#3e26a8 54.86%,#3e26a8 55.69%,#4740e4 56.39%,#4850f3 57.08%,#4851f3 57.5%,#4741e5 58.19%,#4536d4 58.47%,#3e26a8 58.89%,#3e26a8 60.56%,#4538d8 61.25%,#473fe3 61.81%,#4537d5 62.64%,#3e26a8 63.33%,#3e26a8 65.69%,#4434d0 66.39%,#463adb 66.94%,#4535d2 67.5%,#3e26a8 68.19%,#3e26a8 71.11%,#4538d8 71.81%,#4849ed 72.36%,#465dfa 73.33%,#4563fd 74.17%,#465ffb 75%,#484aee 76.11%,#4639da 76.67%,#3e26a8 77.36%,#3e26a8)"></i><i style="top:210.1px;height:9px;background:linear-gradient(90deg,#3e26a8,#3e26a8 24.86%,#3e27ac 25%,#4332cb 25.28%,#4744e9 25.69%,#475af9 26.25%,#3d71ff 27.08%,#3479fd 27.78%,#3678fd 28.47%,#406dfe 29.17%,#4758f8 29.86%,#463cde 30.56%,#3e26a8 31.11%,#3e26a8 33.33%,#4740e4 33.89%,#4851f3 34.31%,#4756f7 34.72%,#4745e9 35.42%,#4536d3 35.69%,#3e26a8 35.97%,#3e26a8 38.19%,#4740e4 38.75%,#484cf0 39.03%,#4758f8 39.58%,#4756f6 40%,#4744e8 40.56%,#4536d3 40.83%,#3f28ad 41.11%,#3e26a8 41.25%,#3e26a8 42.64%,#463ddf 43.06%,#484ef1 43.33%,#4563fc 43.89%,#4563fd 44.58%,#4848ec 45.28%,#4536d2 45.56%,#3e26a8 45.83%,#3e26a8 46.53%,#4742e6 46.94%,#4367fd 47.36%,#2f80fa 47.64%,#2995ec 48.06%,#19addc 48.61%,#04b6cd 48.89%,#02bac4 49.03%,#20c1b1 49.31%,#32c69e 49.44%,#4fcc81 49.58%,#7fcc5a 49.72%,#bfc32e 49.86%,#e5bb2d 50%,#fbbc3d 50.14%,#fccf31 50.28%,#f6f020 50.42%,#f9fb15 50.69%,#f6f020 50.97%,#fccf31 51.11%,#fbbc3d 51.25%,#e5bb2d 51.39%,#bfc32e 51.53%,#7fcc5a 51.67%,#4fcc81 51.81%,#32c69e 51.94%,#20c1b1 52.08%,#02bac4 52.36%,#04b6cd 52.5%,#19addc 52.78%,#2995ec 53.33%,#2f80fa 53.75%,#4367fd 54.03%,#4742e6 54.44%,#3e26a8 54.86%,#3e26a8 55.69%,#463ddf 56.11%,#4746ea 56.25%,#4755f6 56.53%,#4465fd 57.08%,#4660fc 57.78%,#4848ec 58.33%,#4536d2 58.61%,#3e26a8 58.89%,#3e26a8 60.56%,#4433cd 60.83%,#4741e5 61.11%,#4854f6 61.81%,#484ff2 62.36%,#473fe2 62.78%,#3e26a8 63.33%,#3e26a8 65.69%,#3f28ad 65.83%,#463ddf 66.25%,#4848ec 66.53%,#484ff2 66.94%,#473fe3 67.64%,#3e26a8 68.19%,#3e26a8 71.11%,#3f28af 71.25%,#4639da 71.67%,#4746ea 71.94%,#4756f7 72.36%,#3f6eff 73.19%,#347afd 74.44%,#3c72ff 75.14%,#475cfa 75.97%,#4741e5 76.67%,#3e26a8 77.36%,#3e26a8)"></i><i style="top:218.5px;height:9px;background:linear-gradient(90deg,#3e26a8,#3e26a8 24.86%,#3e27ac 25%,#4332ca 25.28%,#4743e8 25.69%,#4759f8 26.25%,#3f6eff 27.08%,#3677fe 28.19%,#3e70ff 28.89%,#475bfa 29.72%,#463bdd 30.56%,#3e26a8 31.11%,#3e26a8 33.33%,#473fe2 33.89%,#4853f5 34.58%,#4851f3 35%,#4743e7 35.42%,#4435d1 35.69%,#3e26a8 35.97%,#3e26a8 38.19%,#473fe2 38.75%,#484ff2 39.17%,#4756f7 39.72%,#4743e7 40.56%,#4435d2 40.83%,#3f28ad 41.11%,#3e26a8 41.25%,#3e26a8 42.64%,#463cde 43.06%,#484cf0 43.33%,#4661fc 43.89%,#4563fd 44.44%,#475af9 44.86%,#4746ea 45.28%,#4435d1 45.56%,#3e26a8 45.83%,#3e26a8 46.53%,#4742e6 46.94%,#4367fd 47.36%,#2f80fa 47.64%,#2995ec 48.06%,#19addc 48.61%,#04b6cd 48.89%,#02bac4 49.03%,#20c1b1 49.31%,#32c69e 49.44%,#4fcc81 49.58%,#7fcc5a 49.72%,#bfc32e 49.86%,#e5bb2d 50%,#fbbc3d 50.14%,#fccf31 50.28%,#f6f020 50.42%,#f9fb15 50.69%,#f6f020 50.97%,#fccf31 51.11%,#fbbc3d 51.25%,#e5bb2d 51.39%,#bfc32e 51.53%,#7fcc5a 51.67%,#4fcc81 51.81%,#32c69e 51.94%,#20c1b1 52.08%,#02bac4 52.36%,#04b6cd 52.5%,#19addc 52.78%,#2995ec 53.33%,#2f80fa 53.75%,#4367fd 54.03%,#4742e6 54.44%,#3e26a8 54.86%,#3e26a8 55.69%,#463cde 56.11%,#4745e9 56.25%,#4759f8 56.67%,#4464fd 57.22%,#465efb 57.78%,#4746ea 58.33%,#4435d1 58.61%,#3e26a8 58.89%,#3e26a8 60.56%,#4639da 60.97%,#4740e3 61.11%,#4852f4 61.81%,#4850f2 62.22%,#4743e8 62.64%,#4537d5 62.92%,#3f29b1 63.19%,#3e26a8 63.33%,#3e26a8 65.69%,#3f28ad 65.83%,#463bdd 66.25%,#4746ea 66.53%,#484df0 66.94%,#4847ec 67.36%,#463ee1 67.64%,#3e26a8 68.19%,#3e26a8 71.11%,#3f28af 71.25%,#4539d9 71.67%,#4745e9 71.94%,#475af9 72.5%,#3e6fff 73.33%,#3677fe 74.17%,#3a74fe 74.86%,#4756f7 76.11%,#463adb 76.81%,#3e26a8 77.36%,#3e26a8)"></i><i style="top:226.91px;height:9px;background:linear-gradient(90deg,#3e26a8,#3e26a8 24.86%,#3e27ab 25%,#463bdd 25.56%,#484bef 25.97%,#4368fd 27.08%,#3f6eff 27.64%,#416bfe 28.75%,#484ef1 30%,#4639d9 30.56%,#3e26a8 31.11%,#3e26a8 33.33%,#4740e4 34.03%,#484cf0 34.58%,#484aee 35%,#473ee1 35.42%,#43c 35.69%,#3e26a8 35.97%,#3e26a8 38.19%,#4535d2 38.61%,#4740e4 38.89%,#484ff2 39.58%,#484aee 40.14%,#463ee1 40.56%,#4433cd 40.83%,#3e28ac 41.11%,#3e26a8 41.25%,#3e26a8 42.64%,#4639da 43.06%,#4848ec 43.33%,#475af9 43.89%,#475cfa 44.44%,#484ff2 45%,#4742e6 45.28%,#4433cd 45.56%,#3e26a8 45.83%,#3e26a8 46.53%,#4742e6 46.94%,#4367fd 47.36%,#2f80fa 47.64%,#2995ec 48.06%,#19addc 48.61%,#04b6cd 48.89%,#02bac4 49.03%,#20c1b1 49.31%,#32c69e 49.44%,#4fcc81 49.58%,#7fcc5a 49.72%,#bfc32e 49.86%,#e5bb2d 50%,#fbbc3d 50.14%,#fccf31 50.28%,#f6f020 50.42%,#f9fb15 50.69%,#f6f020 50.97%,#fccf31 51.11%,#fbbc3d 51.25%,#e5bb2d 51.39%,#bfc32e 51.53%,#7fcc5a 51.67%,#4fcc81 51.81%,#32c69e 51.94%,#20c1b1 52.08%,#02bac4 52.36%,#04b6cd 52.5%,#19addc 52.78%,#2995ec 53.33%,#2f80fa 53.75%,#4367fd 54.03%,#4742e6 54.44%,#3e26a8 54.86%,#3e26a8 55.69%,#4741e4 56.25%,#4853f5 56.67%,#475cfa 57.08%,#475af9 57.64%,#4849ed 58.19%,#463bdc 58.47%,#3e26a8 58.89%,#3e26a8 60.56%,#463bde 61.11%,#484bef 61.81%,#473ee2 62.64%,#3e26a8 63.33%,#3e26a8 65.69%,#3e28ac 65.83%,#4537d7 66.25%,#4745e9 66.81%,#463ee1 67.5%,#4435d0 67.78%,#3e26a8 68.19%,#3e26a8 71.11%,#463cdf 71.81%,#4747eb 72.08%,#475cfa 72.78%,#3f6eff 73.89%,#3f6efe 74.72%,#4851f4 76.11%,#463de0 76.67%,#3e26a8 77.36%,#3e26a8)"></i><i style="top:235.31px;height:9px;background:linear-gradient(90deg,#3e26a8,#3e26a8 25.42%,#4741e5 26.53%,#4853f5 27.36%,#475cfa 28.19%,#475af9 29.31%,#4747eb 30.42%,#4538d7 30.97%,#3e26a8 31.67%,#3e26a8 33.89%,#4435d0 34.58%,#463bdd 35.28%,#4434ce 35.97%,#3e26a8 36.53%,#3e26a8 38.75%,#4435d1 39.44%,#463de0 40.14%,#4536d5 40.97%,#3e26a8 41.81%,#3e26a8 43.19%,#463cdf 43.89%,#484bef 44.72%,#463de0 45.69%,#4434cf 45.97%,#3e26a8 46.39%,#3e26a8 47.08%,#4742e6 47.5%,#4367fd 47.92%,#2f80fa 48.19%,#2995ec 48.61%,#19addc 49.17%,#04b6cd 49.44%,#02bac4 49.58%,#20c1b1 49.86%,#32c69e 50%,#4fcc81 50.14%,#7fcc5a 50.28%,#bfc32e 50.42%,#e5bb2d 50.56%,#fbbc3d 50.69%,#fccf31 50.83%,#f6f020 50.97%,#f9fb15 51.25%,#f6f020 51.53%,#fccf31 51.67%,#fbbc3d 51.81%,#e5bb2d 51.94%,#bfc32e 52.08%,#7fcc5a 52.22%,#4fcc81 52.36%,#32c69e 52.5%,#20c1b1 52.64%,#02bac4 52.92%,#04b6cd 53.06%,#19addc 53.33%,#2995ec 53.89%,#2f80fa 54.31%,#4367fd 54.58%,#4742e6 55%,#3e26a8 55.42%,#3e26a8 56.25%,#463cdf 56.94%,#484bef 57.78%,#463de0 58.75%,#4434cf 59.03%,#3e26a8 59.44%,#3e26a8 61.11%,#4434d0 61.81%,#463adb 62.5%,#4434ce 63.19%,#3e26a8 63.89%,#3e26a8 66.25%,#4331c7 66.94%,#4435d1 67.5%,#4332c9 68.06%,#3e26a8 68.75%,#3e26a8 71.67%,#4536d5 72.36%,#4742e6 72.78%,#475bfa 74.31%,#475bf9 75.42%,#4743e7 76.81%,#4537d6 77.22%,#3e26a8 77.92%,#3e26a8)"></i><i style="top:243.72px;height:9px;background:linear-gradient(90deg,#3e26a8,#3e26a8 25.42%,#4741e5 26.53%,#4853f5 27.36%,#475cfa 28.19%,#475af9 29.31%,#4747eb 30.42%,#4538d7 30.97%,#3e26a8 31.67%,#3e26a8 33.89%,#4435d0 34.58%,#463bdd 35.28%,#4434ce 35.97%,#3e26a8 36.53%,#3e26a8 38.75%,#4435d1 39.44%,#463de0 40.14%,#4536d5 40.97%,#3e26a8 41.81%,#3e26a8 43.19%,#463cdf 43.89%,#484bef 44.72%,#463de0 45.69%,#4434cf 45.97%,#3e26a8 46.39%,#3e26a8 47.08%,#4742e6 47.5%,#4367fd 47.92%,#2f80fa 48.19%,#2995ec 48.61%,#19addc 49.17%,#04b6cd 49.44%,#02bac4 49.58%,#20c1b1 49.86%,#32c69e 50%,#4fcc81 50.14%,#7fcc5a 50.28%,#bfc32e 50.42%,#e5bb2d 50.56%,#fbbc3d 50.69%,#fccf31 50.83%,#f6f020 50.97%,#f9fb15 51.25%,#f6f020 51.53%,#fccf31 51.67%,#fbbc3d 51.81%,#e5bb2d 51.94%,#bfc32e 52.08%,#7fcc5a 52.22%,#4fcc81 52.36%,#32c69e 52.5%,#20c1b1 52.64%,#02bac4 52.92%,#04b6cd 53.06%,#19addc 53.33%,#2995ec 53.89%,#2f80fa 54.31%,#4367fd 54.58%,#4742e6 55%,#3e26a8 55.42%,#3e26a8 56.25%,#463cdf 56.94%,#484bef 57.78%,#463de0 58.75%,#4434cf 59.03%,#3e26a8 59.44%,#3e26a8 61.11%,#4434d0 61.81%,#463adb 62.5%,#4434ce 63.19%,#3e26a8 63.89%,#3e26a8 66.25%,#4331c7 66.94%,#4435d1 67.5%,#4332c9 68.06%,#3e26a8 68.75%,#3e26a8 71.67%,#4536d5 72.36%,#4742e6 72.78%,#475bfa 74.31%,#475bf9 75.42%,#4743e7 76.81%,#4537d6 77.22%,#3e26a8 77.92%,#3e26a8)"></i><i style="top:252.12px;height:9px;background:linear-gradient(90deg,#3e26a8,#3e26a8 24.86%,#4538d8 25.56%,#4849ed 26.11%,#475bf9 26.94%,#4563fd 27.92%,#465ffb 28.75%,#484aee 29.86%,#4639da 30.42%,#3e26a8 31.11%,#3e26a8 33.33%,#4539d9 34.03%,#4740e4 34.58%,#4639da 35.28%,#3e26a8 35.97%,#3e26a8 38.19%,#4536d3 38.75%,#463cdf 39.03%,#4743e7 39.58%,#463adb 40.42%,#422fc2 40.83%,#3e26a8 41.11%,#3e26a8 42.64%,#463cde 43.19%,#4851f3 44.03%,#484ff2 44.58%,#4740e4 45.14%,#3e26a8 45.83%,#3e26a8 46.53%,#4745e9 46.94%,#426afe 47.36%,#2f82fa 47.64%,#1da8e0 48.47%,#02b7cb 48.89%,#03bbc2 49.03%,#23c1af 49.31%,#36c799 49.44%,#57cc7a 49.58%,#cac129 49.86%,#eaba31 50%,#febe3c 50.14%,#f6f11f 50.42%,#f9fa16 50.69%,#f5ee21 50.97%,#fec735 51.11%,#f8ba3d 51.25%,#e0bc2a 51.39%,#b3c534 51.53%,#71cd64 51.67%,#47cb87 51.81%,#2ec5a3 51.94%,#1dc0b3 52.08%,#01b9c6 52.36%,#1aacdd 52.78%,#317efb 53.75%,#3c71ff 53.89%,#484df0 54.31%,#473fe3 54.44%,#402ab4 54.72%,#3e26a8 54.86%,#3e26a8 55.69%,#463cde 56.25%,#4851f3 57.08%,#484ff2 57.64%,#4740e4 58.19%,#3e26a8 58.89%,#3e26a8 60.56%,#4536d3 61.11%,#473fe3 61.81%,#4639da 62.5%,#4230c3 62.92%,#3e27ab 63.19%,#3e26a8 63.33%,#3e26a8 65.69%,#4435d1 66.39%,#463adb 66.94%,#4435d1 67.5%,#3e26a8 68.19%,#3e26a8 71.11%,#4639da 71.81%,#484aee 72.36%,#465ffb 73.47%,#4563fd 74.17%,#465ffb 75%,#4849ed 76.11%,#4538d8 76.67%,#3e26a8 77.36%,#3e26a8)"></i><i style="top:260.52px;height:9px;background:linear-gradient(90deg,#3e26a8,#3e26a8 24.86%,#463adb 25.56%,#4849ed 25.97%,#465efb 26.81%,#4368fe 27.64%,#4465fd 28.75%,#484ef1 29.86%,#463bdd 30.42%,#3e26a8 31.11%,#3e26a8 33.33%,#4434cf 33.75%,#463de0 34.03%,#4746eb 34.58%,#463ee1 35.28%,#4435d1 35.56%,#3e26a8 35.97%,#3e26a8 38.19%,#4434cf 38.61%,#463de0 38.89%,#4849ed 39.58%,#463ee1 40.42%,#4331c6 40.83%,#3e26a8 41.11%,#3e26a8 42.64%,#4332ca 42.92%,#473fe2 43.19%,#484ff2 43.61%,#4756f7 44.03%,#4854f5 44.58%,#4744e8 45.14%,#4537d6 45.42%,#3e26a8 45.83%,#3e26a8 46.53%,#4745e9 46.94%,#426afe 47.36%,#2f82fa 47.64%,#1da8e0 48.47%,#02b7cb 48.89%,#03bbc2 49.03%,#23c1af 49.31%,#36c799 49.44%,#57cc7a 49.58%,#cac129 49.86%,#eaba31 50%,#febe3c 50.14%,#f6f11f 50.42%,#f9fa16 50.69%,#f5ee21 50.97%,#fec735 51.11%,#f8ba3d 51.25%,#e0bc2a 51.39%,#b3c534 51.53%,#71cd64 51.67%,#47cb87 51.81%,#2ec5a3 51.94%,#1dc0b3 52.08%,#01b9c6 52.36%,#1aacdd 52.78%,#317efb 53.75%,#3c71ff 53.89%,#484df0 54.31%,#473fe3 54.44%,#402ab4 54.72%,#3e26a8 54.86%,#3e26a8 55.69%,#473fe2 56.25%,#484ff2 56.67%,#4756f7 57.08%,#4854f5 57.64%,#4744e8 58.19%,#4537d6 58.47%,#3e26a8 58.89%,#3e26a8 60.56%,#4639d9 61.11%,#4745e9 61.81%,#463adb 62.64%,#3e27ac 63.19%,#3e26a8 63.33%,#3e26a8 65.69%,#4539d9 66.39%,#473fe3 66.94%,#4539d9 67.5%,#3e26a8 68.19%,#3e26a8 71.11%,#4536d4 71.67%,#4745e9 72.08%,#475cfa 72.92%,#4368fe 73.89%,#4466fd 74.86%,#4849ed 76.25%,#463adb 76.67%,#3e26a8 77.36%,#3e26a8)"></i><i style="top:268.93px;height:9px;background:linear-gradient(90deg,#3e26a8,#3e26a8 24.86%,#4538d8 25.56%,#4849ed 26.11%,#475bf9 26.94%,#4563fd 27.92%,#465ffb 28.75%,#484aee 29.86%,#4639da 30.42%,#3e26a8 31.11%,#3e26a8 33.33%,#4539d9 34.03%,#4740e4 34.58%,#4639da 35.28%,#3e26a8 35.97%,#3e26a8 38.19%,#4536d3 38.75%,#463cdf 39.03%,#4743e7 39.58%,#463adb 40.42%,#422fc2 40.83%,#3e26a8 41.11%,#3e26a8 42.64%,#463cde 43.19%,#4851f3 44.03%,#484ff2 44.58%,#4740e4 45.14%,#3e26a8 45.83%,#3e26a8 46.53%,#4745e9 46.94%,#426afe 47.36%,#2f82fa 47.64%,#1da8e0 48.47%,#02b7cb 48.89%,#03bbc2 49.03%,#23c1af 49.31%,#36c799 49.44%,#57cc7a 49.58%,#cac129 49.86%,#eaba31 50%,#febe3c 50.14%,#f6f11f 50.42%,#f9fa16 50.69%,#f5ee21 50.97%,#fec735 51.11%,#f8ba3d 51.25%,#e0bc2a 51.39%,#b3c534 51.53%,#71cd64 51.67%,#47cb87 51.81%,#2ec5a3 51.94%,#1dc0b3 52.08%,#01b9c6 52.36%,#1aacdd 52.78%,#317efb 53.75%,#3c71ff 53.89%,#484df0 54.31%,#473fe3 54.44%,#402ab4 54.72%,#3e26a8 54.86%,#3e26a8 55.69%,#463cde 56.25%,#4851f3 57.08%,#484ff2 57.64%,#4740e4 58.19%,#3e26a8 58.89%,#3e26a8 60.56%,#4536d3 61.11%,#473fe3 61.81%,#4639da 62.5%,#4230c3 62.92%,#3e27ab 63.19%,#3e26a8 63.33%,#3e26a8 65.69%,#4435d1 66.39%,#463adb 66.94%,#4435d1 67.5%,#3e26a8 68.19%,#3e26a8 71.11%,#4639da 71.81%,#484aee 72.36%,#465ffb 73.47%,#4563fd 74.17%,#465ffb 75%,#4849ed 76.11%,#4538d8 76.67%,#3e26a8 77.36%,#3e26a8)"></i><i style="top:277.33px;height:9px;background:linear-gradient(90deg,#3e26a8,#3e26a8 24.86%,#4538d8 25.56%,#4849ed 26.11%,#475bf9 26.94%,#4563fd 27.92%,#465ffb 28.75%,#484aee 29.86%,#4639da 30.42%,#3e26a8 31.11%,#3e26a8 33.33%,#4539d9 34.03%,#4740e4 34.58%,#4639da 35.28%,#3e26a8 35.97%,#3e26a8 38.19%,#4536d3 38.75%,#463cdf 39.03%,#4743e7 39.58%,#463adb 40.42%,#422fc2 40.83%,#3e26a8 41.11%,#3e26a8 42.64%,#463cde 43.19%,#4851f3 44.03%,#484ff2 44.58%,#4740e4 45.14%,#3e26a8 45.83%,#3e26a8 46.53%,#4745e9 46.94%,#426afe 47.36%,#2f82fa 47.64%,#1da8e0 48.47%,#02b7cb 48.89%,#03bbc2 49.03%,#23c1af 49.31%,#36c799 49.44%,#57cc7a 49.58%,#cac129 49.86%,#eaba31 50%,#febe3c 50.14%,#f6f11f 50.42%,#f9fa16 50.69%,#f5ee21 50.97%,#fec735 51.11%,#f8ba3d 51.25%,#e0bc2a 51.39%,#b3c534 51.53%,#71cd64 51.67%,#47cb87 51.81%,#2ec5a3 51.94%,#1dc0b3 52.08%,#01b9c6 52.36%,#1aacdd 52.78%,#317efb 53.75%,#3c71ff 53.89%,#484df0 54.31%,#473fe3 54.44%,#402ab4 54.72%,#3e26a8 54.86%,#3e26a8 55.69%,#463cde 56.25%,#4851f3 57.08%,#484ff2 57.64%,#4740e4 58.19%,#3e26a8 58.89%,#3e26a8 60.56%,#4536d3 61.11%,#473fe3 61.81%,#4639da 62.5%,#4230c3 62.92%,#3e27ab 63.19%,#3e26a8 63.33%,#3e26a8 65.69%,#4435d1 66.39%,#463adb 66.94%,#4435d1 67.5%,#3e26a8 68.19%,#3e26a8 71.11%,#4639da 71.81%,#484aee 72.36%,#465ffb 73.47%,#4563fd 74.17%,#465ffb 75%,#4849ed 76.11%,#4538d8 76.67%,#3e26a8 77.36%,#3e26a8)"></i><i style="top:285.74px;height:9px;background:linear-gradient(90deg,#3e26a8,#3e26a8 24.86%,#4538d8 25.56%,#4849ed 26.11%,#475bf9 26.94%,#4563fd 27.92%,#465ffb 28.75%,#484aee 29.86%,#4639da 30.42%,#3e26a8 31.11%,#3e26a8 33.33%,#4539d9 34.03%,#4740e4 34.58%,#4639da 35.28%,#3e26a8 35.97%,#3e26a8 38.19%,#4536d3 38.75%,#463cdf 39.03%,#4743e7 39.58%,#463adb 40.42%,#422fc2 40.83%,#3e26a8 41.11%,#3e26a8 42.64%,#463cde 43.19%,#4851f3 44.03%,#484ff2 44.58%,#4740e4 45.14%,#3e26a8 45.83%,#3e26a8 46.53%,#4745e9 46.94%,#426afe 47.36%,#2f82fa 47.64%,#1da8e0 48.47%,#02b7cb 48.89%,#03bbc2 49.03%,#23c1af 49.31%,#36c799 49.44%,#57cc7a 49.58%,#cac129 49.86%,#eaba31 50%,#febe3c 50.14%,#f6f11f 50.42%,#f9fa16 50.69%,#f5ee21 50.97%,#fec735 51.11%,#f8ba3d 51.25%,#e0bc2a 51.39%,#b3c534 51.53%,#71cd64 51.67%,#47cb87 51.81%,#2ec5a3 51.94%,#1dc0b3 52.08%,#01b9c6 52.36%,#1aacdd 52.78%,#317efb 53.75%,#3c71ff 53.89%,#484df0 54.31%,#473fe3 54.44%,#402ab4 54.72%,#3e26a8 54.86%,#3e26a8 55.69%,#463cde 56.25%,#4851f3 57.08%,#484ff2 57.64%,#4740e4 58.19%,#3e26a8 58.89%,#3e26a8 60.56%,#4536d3 61.11%,#473fe3 61.81%,#4639da 62.5%,#4230c3 62.92%,#3e27ab 63.19%,#3e26a8 63.33%,#3e26a8 65.69%,#4435d1 66.39%,#463adb 66.94%,#4435d1 67.5%,#3e26a8 68.19%,#3e26a8 71.11%,#4639da 71.81%,#484aee 72.36%,#465ffb 73.47%,#4563fd 74.17%,#465ffb 75%,#4849ed 76.11%,#4538d8 76.67%,#3e26a8 77.36%,#3e26a8)"></i><i style="top:294.14px;height:9px;background:linear-gradient(90deg,#3e26a8,#3e26a8 24.31%,#4538d8 25%,#4849ed 25.56%,#465ffb 26.67%,#4563fd 27.36%,#465ffb 28.19%,#484aee 29.31%,#4639da 29.86%,#3e26a8 30.56%,#3e26a8 32.78%,#4539d9 33.47%,#4740e4 34.03%,#4639da 34.72%,#3e26a8 35.42%,#3e26a8 37.64%,#4536d3 38.19%,#463cdf 38.47%,#4743e7 39.03%,#463adb 39.86%,#422fc2 40.28%,#3e26a8 40.56%,#3e26a8 42.08%,#463cde 42.64%,#4746ea 42.92%,#4851f3 43.47%,#484ff2 44.03%,#4740e4 44.58%,#3e26a8 45.28%,#3e26a8 45.97%,#4745e9 46.39%,#426afe 46.81%,#2f82fa 47.08%,#2c90f0 47.36%,#1da8e0 47.92%,#02b7cb 48.33%,#03bbc2 48.47%,#23c1af 48.75%,#36c799 48.89%,#57cc7a 49.03%,#cac129 49.31%,#eaba31 49.44%,#febe3c 49.58%,#f6f11f 49.86%,#f9fa16 50.14%,#f5ee21 50.42%,#fec735 50.56%,#f8ba3d 50.69%,#e0bc2a 50.83%,#b3c534 50.97%,#71cd64 51.11%,#47cb87 51.25%,#2ec5a3 51.39%,#1dc0b3 51.53%,#01b9c6 51.81%,#1aacdd 52.22%,#317efb 53.19%,#3c71ff 53.33%,#484df0 53.75%,#473fe3 53.89%,#402ab4 54.17%,#3e26a8 54.31%,#3e26a8 55.14%,#463cde 55.69%,#4851f3 56.53%,#484ff2 57.08%,#4740e4 57.64%,#4435d1 57.92%,#3e26a8 58.33%,#3e26a8 60%,#4536d3 60.56%,#473fe3 61.25%,#4639da 61.94%,#4230c3 62.36%,#3e27ab 62.64%,#3e26a8 62.78%,#3e26a8 65.14%,#4435d1 65.83%,#463adb 66.39%,#4435d1 66.94%,#3e26a8 67.64%,#3e26a8 70.56%,#4639da 71.25%,#484aee 71.81%,#465ffb 72.92%,#4563fd 73.61%,#465ffb 74.44%,#4849ed 75.56%,#4538d8 76.11%,#3e26a8 76.81%,#3e26a8)"></i><i style="top:302.54px;height:9px;background:linear-gradient(90deg,#3e26a8,#3e26a8 24.31%,#4538d8 25%,#4849ed 25.56%,#465ffb 26.67%,#4563fd 27.36%,#465ffb 28.19%,#484aee 29.31%,#4639da 29.86%,#3e26a8 30.56%,#3e26a8 32.78%,#4539d9 33.47%,#4740e4 34.03%,#4639da 34.72%,#3e26a8 35.42%,#3e26a8 37.64%,#4536d3 38.19%,#463cdf 38.47%,#4743e7 39.03%,#463adb 39.86%,#422fc2 40.28%,#3e26a8 40.56%,#3e26a8 42.08%,#463cde 42.64%,#4746ea 42.92%,#4851f3 43.47%,#484ff2 44.03%,#4740e4 44.58%,#3e26a8 45.28%,#3e26a8 45.97%,#4745e9 46.39%,#426afe 46.81%,#2f82fa 47.08%,#2c90f0 47.36%,#1da8e0 47.92%,#02b7cb 48.33%,#03bbc2 48.47%,#23c1af 48.75%,#36c799 48.89%,#57cc7a 49.03%,#cac129 49.31%,#eaba31 49.44%,#febe3c 49.58%,#f6f11f 49.86%,#f9fa16 50.14%,#f5ee21 50.42%,#fec735 50.56%,#f8ba3d 50.69%,#e0bc2a 50.83%,#b3c534 50.97%,#71cd64 51.11%,#47cb87 51.25%,#2ec5a3 51.39%,#1dc0b3 51.53%,#01b9c6 51.81%,#1aacdd 52.22%,#317efb 53.19%,#3c71ff 53.33%,#484df0 53.75%,#473fe3 53.89%,#402ab4 54.17%,#3e26a8 54.31%,#3e26a8 55.14%,#463cde 55.69%,#4851f3 56.53%,#484ff2 57.08%,#4740e4 57.64%,#4435d1 57.92%,#3e26a8 58.33%,#3e26a8 60%,#4536d3 60.56%,#473fe3 61.25%,#4639da 61.94%,#4230c3 62.36%,#3e27ab 62.64%,#3e26a8 62.78%,#3e26a8 65.14%,#4435d1 65.83%,#463adb 66.39%,#4435d1 66.94%,#3e26a8 67.64%,#3e26a8 70.56%,#4639da 71.25%,#484aee 71.81%,#465ffb 72.92%,#4563fd 73.61%,#465ffb 74.44%,#4849ed 75.56%,#4538d8 76.11%,#3e26a8 76.81%,#3e26a8)"></i><i style="top:310.95px;height:9px;background:linear-gradient(90deg,#3e26a8,#3e26a8 24.31%,#4536d4 24.86%,#4746ea 25.28%,#4853f5 25.69%,#4368fe 26.67%,#426afe 28.06%,#4850f3 29.31%,#463cdf 29.86%,#3e26a8 30.56%,#3e26a8 32.78%,#463bdc 33.33%,#484aee 34.03%,#463bde 34.86%,#3e26a8 35.42%,#3e26a8 37.64%,#463bdc 38.19%,#4744e8 38.47%,#484cf0 39.03%,#4848ec 39.58%,#463cde 40%,#3e26a8 40.56%,#3e26a8 42.08%,#43c 42.36%,#4741e5 42.64%,#4758f8 43.33%,#475af9 43.89%,#473fe3 44.72%,#3e26a8 45.28%,#3e26a8 45.97%,#4745e9 46.39%,#426afe 46.81%,#2f82fa 47.08%,#2c90f0 47.36%,#1da8e0 47.92%,#02b7cb 48.33%,#03bbc2 48.47%,#23c1af 48.75%,#36c799 48.89%,#57cc7a 49.03%,#cac129 49.31%,#eaba31 49.44%,#febe3c 49.58%,#f6f11f 49.86%,#f9fa16 50.14%,#f5ee21 50.42%,#fec735 50.56%,#f8ba3d 50.69%,#e0bc2a 50.83%,#b3c534 50.97%,#71cd64 51.11%,#47cb87 51.25%,#2ec5a3 51.39%,#1dc0b3 51.53%,#01b9c6 51.81%,#1aacdd 52.22%,#317efb 53.19%,#3c71ff 53.33%,#484df0 53.75%,#473fe3 53.89%,#402ab4 54.17%,#3e26a8 54.31%,#3e26a8 55.14%,#43c 55.42%,#4741e5 55.69%,#475af9 56.53%,#4758f8 57.08%,#4746ea 57.64%,#4538d8 57.92%,#3e26a8 58.33%,#3e26a8 60%,#4331c8 60.28%,#463bdd 60.56%,#4849ed 61.25%,#463cde 62.08%,#4332cb 62.36%,#3e27ac 62.64%,#3e26a8 62.78%,#3e26a8 65.14%,#4537d6 65.69%,#4742e7 66.25%,#463bdd 66.94%,#3e26a8 67.64%,#3e26a8 70.56%,#4742e6 71.39%,#4758f8 72.08%,#4368fe 72.92%,#416bfe 74.17%,#484ff2 75.56%,#463bdd 76.11%,#3e26a8 76.81%,#3e26a8)"></i><i style="top:319.35px;height:9px;background:linear-gradient(90deg,#3e26a8,#3e26a8 24.31%,#4536d4 24.86%,#4746ea 25.28%,#4853f5 25.69%,#4368fe 26.67%,#426afe 28.06%,#4850f3 29.31%,#463cdf 29.86%,#3e26a8 30.56%,#3e26a8 32.78%,#463bdc 33.33%,#484aee 34.03%,#463bde 34.86%,#3e26a8 35.42%,#3e26a8 37.64%,#463bdc 38.19%,#4744e8 38.47%,#484cf0 39.03%,#4848ec 39.58%,#463cde 40%,#3e26a8 40.56%,#3e26a8 42.08%,#43c 42.36%,#4741e5 42.64%,#4758f8 43.33%,#475af9 43.89%,#473fe3 44.72%,#3e26a8 45.28%,#3e26a8 45.97%,#4745e9 46.39%,#426afe 46.81%,#2f82fa 47.08%,#2c90f0 47.36%,#1da8e0 47.92%,#02b7cb 48.33%,#03bbc2 48.47%,#23c1af 48.75%,#36c799 48.89%,#57cc7a 49.03%,#cac129 49.31%,#eaba31 49.44%,#febe3c 49.58%,#f6f11f 49.86%,#f9fa16 50.14%,#f5ee21 50.42%,#fec735 50.56%,#f8ba3d 50.69%,#e0bc2a 50.83%,#b3c534 50.97%,#71cd64 51.11%,#47cb87 51.25%,#2ec5a3 51.39%,#1dc0b3 51.53%,#01b9c6 51.81%,#1aacdd 52.22%,#317efb 53.19%,#3c71ff 53.33%,#484df0 53.75%,#473fe3 53.89%,#402ab4 54.17%,#3e26a8 54.31%,#3e26a8 55.14%,#43c 55.42%,#4741e5 55.69%,#475af9 56.53%,#4758f8 57.08%,#4746ea 57.64%,#4538d8 57.92%,#3e26a8 58.33%,#3e26a8 60%,#4331c8 60.28%,#463bdd 60.56%,#4849ed 61.25%,#463cde 62.08%,#4332cb 62.36%,#3e27ac 62.64%,#3e26a8 62.78%,#3e26a8 65.14%,#4537d6 65.69%,#4742e7 66.25%,#463bdd 66.94%,#3e26a8 67.64%,#3e26a8 70.56%,#4742e6 71.39%,#4758f8 72.08%,#4368fe 72.92%,#416bfe 74.17%,#484ff2 75.56%,#463bdd 76.11%,#3e26a8 76.81%,#3e26a8)"></i><i style="top:327.76px;height:9px;background:linear-gradient(90deg,#3e26a8,#3e26a8 24.31%,#4538d8 25%,#4849ed 25.56%,#465ffb 26.67%,#4563fd 27.36%,#465ffb 28.19%,#484aee 29.31%,#4639da 29.86%,#3e26a8 30.56%,#3e26a8 32.78%,#4539d9 33.47%,#4740e4 34.03%,#4639da 34.72%,#3e26a8 35.42%,#3e26a8 37.64%,#4536d3 38.19%,#463cdf 38.47%,#4743e7 39.03%,#463adb 39.86%,#422fc2 40.28%,#3e26a8 40.56%,#3e26a8 42.08%,#463cde 42.64%,#4746ea 42.92%,#4851f3 43.47%,#484ff2 44.03%,#4740e4 44.58%,#3e26a8 45.28%,#3e26a8 45.97%,#4745e9 46.39%,#426afe 46.81%,#2f82fa 47.08%,#2c90f0 47.36%,#1da8e0 47.92%,#02b7cb 48.33%,#03bbc2 48.47%,#23c1af 48.75%,#36c799 48.89%,#57cc7a 49.03%,#cac129 49.31%,#eaba31 49.44%,#febe3c 49.58%,#f6f11f 49.86%,#f9fa16 50.14%,#f5ee21 50.42%,#fec735 50.56%,#f8ba3d 50.69%,#e0bc2a 50.83%,#b3c534 50.97%,#71cd64 51.11%,#47cb87 51.25%,#2ec5a3 51.39%,#1dc0b3 51.53%,#01b9c6 51.81%,#1aacdd 52.22%,#317efb 53.19%,#3c71ff 53.33%,#484df0 53.75%,#473fe3 53.89%,#402ab4 54.17%,#3e26a8 54.31%,#3e26a8 55.14%,#463cde 55.69%,#4851f3 56.53%,#484ff2 57.08%,#4740e4 57.64%,#4435d1 57.92%,#3e26a8 58.33%,#3e26a8 60%,#4536d3 60.56%,#473fe3 61.25%,#4639da 61.94%,#4230c3 62.36%,#3e27ab 62.64%,#3e26a8 62.78%,#3e26a8 65.14%,#4435d1 65.83%,#463adb 66.39%,#4435d1 66.94%,#3e26a8 67.64%,#3e26a8 70.56%,#4639da 71.25%,#484aee 71.81%,#465ffb 72.92%,#4563fd 73.61%,#465ffb 74.44%,#4849ed 75.56%,#4538d8 76.11%,#3e26a8 76.81%,#3e26a8)"></i><i style="top:336.16px;height:9px;background:linear-gradient(90deg,#3e26a8,#3e26a8 24.31%,#4538d8 25%,#4849ed 25.56%,#465ffb 26.67%,#4563fd 27.36%,#465ffb 28.19%,#484aee 29.31%,#4639da 29.86%,#3e26a8 30.56%,#3e26a8 32.78%,#4539d9 33.47%,#4740e4 34.03%,#4639da 34.72%,#3e26a8 35.42%,#3e26a8 37.64%,#4536d3 38.19%,#463cdf 38.47%,#4743e7 39.03%,#463adb 39.86%,#422fc2 40.28%,#3e26a8 40.56%,#3e26a8 42.08%,#463cde 42.64%,#4746ea 42.92%,#4851f3 43.47%,#484ff2 44.03%,#4740e4 44.58%,#3e26a8 45.28%,#3e26a8 45.97%,#4745e9 46.39%,#426afe 46.81%,#2f82fa 47.08%,#2c90f0 47.36%,#1da8e0 47.92%,#02b7cb 48.33%,#03bbc2 48.47%,#23c1af 48.75%,#36c799 48.89%,#57cc7a 49.03%,#cac129 49.31%,#eaba31 49.44%,#febe3c 49.58%,#f6f11f 49.86%,#f9fa16 50.14%,#f5ee21 50.42%,#fec735 50.56%,#f8ba3d 50.69%,#e0bc2a 50.83%,#b3c534 50.97%,#71cd64 51.11%,#47cb87 51.25%,#2ec5a3 51.39%,#1dc0b3 51.53%,#01b9c6 51.81%,#1aacdd 52.22%,#317efb 53.19%,#3c71ff 53.33%,#484df0 53.75%,#473fe3 53.89%,#402ab4 54.17%,#3e26a8 54.31%,#3e26a8 55.14%,#463cde 55.69%,#4851f3 56.53%,#484ff2 57.08%,#4740e4 57.64%,#4435d1 57.92%,#3e26a8 58.33%,#3e26a8 60%,#4536d3 60.56%,#473fe3 61.25%,#4639da 61.94%,#4230c3 62.36%,#3e27ab 62.64%,#3e26a8 62.78%,#3e26a8 65.14%,#4435d1 65.83%,#463adb 66.39%,#4435d1 66.94%,#3e26a8 67.64%,#3e26a8 70.56%,#4639da 71.25%,#484aee 71.81%,#465ffb 72.92%,#4563fd 73.61%,#465ffb 74.44%,#4849ed 75.56%,#4538d8 76.11%,#3e26a8 76.81%,#3e26a8)"></i><i style="top:344.56px;height:9px;background:linear-gradient(90deg,#3e26a8,#3e26a8 24.86%,#4538d8 25.56%,#4849ed 26.11%,#475bf9 26.94%,#4563fd 27.92%,#465ffb 28.75%,#484aee 29.86%,#4639da 30.42%,#3e26a8 31.11%,#3e26a8 33.33%,#4539d9 34.03%,#4740e4 34.58%,#4639da 35.28%,#3e26a8 35.97%,#3e26a8 38.19%,#4536d3 38.75%,#463cdf 39.03%,#4743e7 39.58%,#463adb 40.42%,#422fc2 40.83%,#3e26a8 41.11%,#3e26a8 42.64%,#463cde 43.19%,#4851f3 44.03%,#484ff2 44.58%,#4740e4 45.14%,#3e26a8 45.83%,#3e26a8 46.53%,#4745e9 46.94%,#426afe 47.36%,#2f82fa 47.64%,#1da8e0 48.47%,#02b7cb 48.89%,#03bbc2 49.03%,#23c1af 49.31%,#36c799 49.44%,#57cc7a 49.58%,#cac129 49.86%,#eaba31 50%,#febe3c 50.14%,#f6f11f 50.42%,#f9fa16 50.69%,#f5ee21 50.97%,#fec735 51.11%,#f8ba3d 51.25%,#e0bc2a 51.39%,#b3c534 51.53%,#71cd64 51.67%,#47cb87 51.81%,#2ec5a3 51.94%,#1dc0b3 52.08%,#01b9c6 52.36%,#1aacdd 52.78%,#317efb 53.75%,#3c71ff 53.89%,#484df0 54.31%,#473fe3 54.44%,#402ab4 54.72%,#3e26a8 54.86%,#3e26a8 55.69%,#463cde 56.25%,#4851f3 57.08%,#484ff2 57.64%,#4740e4 58.19%,#3e26a8 58.89%,#3e26a8 60.56%,#4536d3 61.11%,#473fe3 61.81%,#4639da 62.5%,#4230c3 62.92%,#3e27ab 63.19%,#3e26a8 63.33%,#3e26a8 65.69%,#4435d1 66.39%,#463adb 66.94%,#4435d1 67.5%,#3e26a8 68.19%,#3e26a8 71.11%,#4639da 71.81%,#484aee 72.36%,#465ffb 73.47%,#4563fd 74.17%,#465ffb 75%,#4849ed 76.11%,#4538d8 76.67%,#3e26a8 77.36%,#3e26a8)"></i><i style="top:352.97px;height:9px;background:linear-gradient(90deg,#3e26a8,#3e26a8 24.86%,#4538d8 25.56%,#4849ed 26.11%,#475bf9 26.94%,#4563fd 27.92%,#465ffb 28.75%,#484aee 29.86%,#4639da 30.42%,#3e26a8 31.11%,#3e26a8 33.33%,#4539d9 34.03%,#4740e4 34.58%,#4639da 35.28%,#3e26a8 35.97%,#3e26a8 38.19%,#4536d3 38.75%,#463cdf 39.03%,#4743e7 39.58%,#463adb 40.42%,#422fc2 40.83%,#3e26a8 41.11%,#3e26a8 42.64%,#463cde 43.19%,#4851f3 44.03%,#484ff2 44.58%,#4740e4 45.14%,#3e26a8 45.83%,#3e26a8 46.53%,#4745e9 46.94%,#426afe 47.36%,#2f82fa 47.64%,#1da8e0 48.47%,#02b7cb 48.89%,#03bbc2 49.03%,#23c1af 49.31%,#36c799 49.44%,#57cc7a 49.58%,#cac129 49.86%,#eaba31 50%,#febe3c 50.14%,#f6f11f 50.42%,#f9fa16 50.69%,#f5ee21 50.97%,#fec735 51.11%,#f8ba3d 51.25%,#e0bc2a 51.39%,#b3c534 51.53%,#71cd64 51.67%,#47cb87 51.81%,#2ec5a3 51.94%,#1dc0b3 52.08%,#01b9c6 52.36%,#1aacdd 52.78%,#317efb 53.75%,#3c71ff 53.89%,#484df0 54.31%,#473fe3 54.44%,#402ab4 54.72%,#3e26a8 54.86%,#3e26a8 55.69%,#463cde 56.25%,#4851f3 57.08%,#484ff2 57.64%,#4740e4 58.19%,#3e26a8 58.89%,#3e26a8 60.56%,#4536d3 61.11%,#473fe3 61.81%,#4639da 62.5%,#4230c3 62.92%,#3e27ab 63.19%,#3e26a8 63.33%,#3e26a8 65.69%,#4435d1 66.39%,#463adb 66.94%,#4435d1 67.5%,#3e26a8 68.19%,#3e26a8 71.11%,#4639da 71.81%,#484aee 72.36%,#465ffb 73.47%,#4563fd 74.17%,#465ffb 75%,#4849ed 76.11%,#4538d8 76.67%,#3e26a8 77.36%,#3e26a8)"></i><i style="top:361.37px;height:9px;background:linear-gradient(90deg,#3e26a8,#3e26a8 24.31%,#3f29af 24.44%,#463adb 24.86%,#4747eb 25.14%,#4758f8 25.56%,#3d71ff 26.39%,#327dfc 27.5%,#3777fe 28.19%,#465efb 29.17%,#4742e6 29.86%,#3e26a8 30.56%,#3e26a8 32.78%,#463bdd 33.19%,#4743e7 33.33%,#4758f8 34.03%,#4855f6 34.44%,#4745e9 34.86%,#4435d1 35.14%,#3e26a8 35.42%,#3e26a8 37.64%,#4434ce 37.92%,#4743e7 38.19%,#4759f9 38.89%,#4758f8 39.44%,#4744e8 40%,#4435d2 40.28%,#3e26a8 40.56%,#3e26a8 42.08%,#4536d4 42.36%,#4849ed 42.64%,#4466fd 43.33%,#4465fd 44.03%,#4747eb 44.72%,#463ee1 44.86%,#3e26a8 45.28%,#3e26a8 45.97%,#4745e9 46.39%,#426afe 46.81%,#2f82fa 47.08%,#2c90f0 47.36%,#1da8e0 47.92%,#02b7cb 48.33%,#03bbc2 48.47%,#23c1af 48.75%,#36c799 48.89%,#57cc7a 49.03%,#cac129 49.31%,#eaba31 49.44%,#febe3c 49.58%,#f6f11f 49.86%,#f9fa16 50.14%,#f5ee21 50.42%,#fec735 50.56%,#f8ba3d 50.69%,#e0bc2a 50.83%,#b3c534 50.97%,#71cd64 51.11%,#47cb87 51.25%,#2ec5a3 51.39%,#1dc0b3 51.53%,#01b9c6 51.81%,#1aacdd 52.22%,#317efb 53.19%,#3c71ff 53.33%,#484df0 53.75%,#473fe3 53.89%,#402ab4 54.17%,#3e26a8 54.31%,#3e26a8 55.14%,#4536d4 55.42%,#4849ed 55.69%,#465efb 56.11%,#4368fe 56.53%,#4465fd 57.08%,#484ff2 57.64%,#463ee1 57.92%,#3e26a8 58.33%,#3e26a8 60%,#463de0 60.42%,#484ff2 60.83%,#4757f7 61.25%,#4854f5 61.67%,#4746ea 62.08%,#4537d5 62.36%,#3f28ad 62.64%,#3e26a8 62.78%,#3e26a8 65.14%,#4740e3 65.69%,#484bef 65.97%,#4851f4 66.39%,#484bef 66.81%,#4740e3 67.08%,#3e26a8 67.64%,#3e26a8 70.56%,#4742e6 71.25%,#465efb 71.94%,#3f6eff 72.5%,#327dfc 73.75%,#3a74fe 74.58%,#4758f8 75.56%,#4740e4 76.11%,#3e26a8 76.81%,#3e26a8)"></i><i style="top:369.78px;height:9px;background:linear-gradient(90deg,#3e26a8,#3e26a8 24.31%,#4538d8 25%,#4849ed 25.56%,#465ffb 26.67%,#4563fd 27.36%,#465ffb 28.19%,#484aee 29.31%,#4639da 29.86%,#3e26a8 30.56%,#3e26a8 32.78%,#4539d9 33.47%,#4740e4 34.03%,#4639da 34.72%,#3e26a8 35.42%,#3e26a8 37.64%,#4536d3 38.19%,#463cdf 38.47%,#4743e7 39.03%,#463adb 39.86%,#422fc2 40.28%,#3e26a8 40.56%,#3e26a8 42.08%,#463cde 42.64%,#4746ea 42.92%,#4851f3 43.47%,#484ff2 44.03%,#4740e4 44.58%,#3e26a8 45.28%,#3e26a8 45.97%,#4745e9 46.39%,#426afe 46.81%,#2f82fa 47.08%,#2c90f0 47.36%,#1da8e0 47.92%,#02b7cb 48.33%,#03bbc2 48.47%,#23c1af 48.75%,#36c799 48.89%,#57cc7a 49.03%,#cac129 49.31%,#eaba31 49.44%,#febe3c 49.58%,#f6f11f 49.86%,#f9fa16 50.14%,#f5ee21 50.42%,#fec735 50.56%,#f8ba3d 50.69%,#e0bc2a 50.83%,#b3c534 50.97%,#71cd64 51.11%,#47cb87 51.25%,#2ec5a3 51.39%,#1dc0b3 51.53%,#01b9c6 51.81%,#1aacdd 52.22%,#317efb 53.19%,#3c71ff 53.33%,#484df0 53.75%,#473fe3 53.89%,#402ab4 54.17%,#3e26a8 54.31%,#3e26a8 55.14%,#463cde 55.69%,#4851f3 56.53%,#484ff2 57.08%,#4740e4 57.64%,#4435d1 57.92%,#3e26a8 58.33%,#3e26a8 60%,#4536d3 60.56%,#473fe3 61.25%,#4639da 61.94%,#4230c3 62.36%,#3e27ab 62.64%,#3e26a8 62.78%,#3e26a8 65.14%,#4435d1 65.83%,#463adb 66.39%,#4435d1 66.94%,#3e26a8 67.64%,#3e26a8 70.56%,#4639da 71.25%,#484aee 71.81%,#465ffb 72.92%,#4563fd 73.61%,#465ffb 74.44%,#4849ed 75.56%,#4538d8 76.11%,#3e26a8 76.81%,#3e26a8)"></i><i style="top:378.18px;height:9px;background:linear-gradient(90deg,#3e26a8,#3e26a8 24.31%,#4538d8 25%,#4849ed 25.56%,#465ffb 26.67%,#4563fd 27.36%,#465ffb 28.19%,#484aee 29.31%,#4639da 29.86%,#3e26a8 30.56%,#3e26a8 32.78%,#4539d9 33.47%,#4740e4 34.03%,#4639da 34.72%,#3e26a8 35.42%,#3e26a8 37.64%,#4536d3 38.19%,#463cdf 38.47%,#4743e7 39.03%,#463adb 39.86%,#422fc2 40.28%,#3e26a8 40.56%,#3e26a8 42.08%,#463cde 42.64%,#4746ea 42.92%,#4851f3 43.47%,#484ff2 44.03%,#4740e4 44.58%,#3e26a8 45.28%,#3e26a8 45.97%,#4745e9 46.39%,#426afe 46.81%,#2f82fa 47.08%,#2c90f0 47.36%,#1da8e0 47.92%,#02b7cb 48.33%,#03bbc2 48.47%,#23c1af 48.75%,#36c799 48.89%,#57cc7a 49.03%,#cac129 49.31%,#eaba31 49.44%,#febe3c 49.58%,#f6f11f 49.86%,#f9fa16 50.14%,#f5ee21 50.42%,#fec735 50.56%,#f8ba3d 50.69%,#e0bc2a 50.83%,#b3c534 50.97%,#71cd64 51.11%,#47cb87 51.25%,#2ec5a3 51.39%,#1dc0b3 51.53%,#01b9c6 51.81%,#1aacdd 52.22%,#317efb 53.19%,#3c71ff 53.33%,#484df0 53.75%,#473fe3 53.89%,#402ab4 54.17%,#3e26a8 54.31%,#3e26a8 55.14%,#463cde 55.69%,#4851f3 56.53%,#484ff2 57.08%,#4740e4 57.64%,#4435d1 57.92%,#3e26a8 58.33%,#3e26a8 60%,#4536d3 60.56%,#473fe3 61.25%,#4639da 61.94%,#4230c3 62.36%,#3e27ab 62.64%,#3e26a8 62.78%,#3e26a8 65.14%,#4435d1 65.83%,#463adb 66.39%,#4435d1 66.94%,#3e26a8 67.64%,#3e26a8 70.56%,#4639da 71.25%,#484aee 71.81%,#465ffb 72.92%,#4563fd 73.61%,#465ffb 74.44%,#4849ed 75.56%,#4538d8 76.11%,#3e26a8 76.81%,#3e26a8)"></i><i style="top:386.58px;height:9px;background:linear-gradient(90deg,#3e26a8,#3e26a8 24.31%,#4538d8 25%,#4849ed 25.56%,#465ffb 26.67%,#4563fd 27.36%,#465ffb 28.19%,#484aee 29.31%,#4639da 29.86%,#3e26a8 30.56%,#3e26a8 32.78%,#4539d9 33.47%,#4740e4 34.03%,#4639da 34.72%,#3e26a8 35.42%,#3e26a8 37.64%,#4536d3 38.19%,#463cdf 38.47%,#4743e7 39.03%,#463adb 39.86%,#422fc2 40.28%,#3e26a8 40.56%,#3e26a8 42.08%,#463cde 42.64%,#4746ea 42.92%,#4851f3 43.47%,#484ff2 44.03%,#4740e4 44.58%,#3e26a8 45.28%,#3e26a8 45.97%,#4745e9 46.39%,#426afe 46.81%,#2f82fa 47.08%,#2c90f0 47.36%,#1da8e0 47.92%,#02b7cb 48.33%,#03bbc2 48.47%,#23c1af 48.75%,#36c799 48.89%,#57cc7a 49.03%,#cac129 49.31%,#eaba31 49.44%,#febe3c 49.58%,#f6f11f 49.86%,#f9fa16 50.14%,#f5ee21 50.42%,#fec735 50.56%,#f8ba3d 50.69%,#e0bc2a 50.83%,#b3c534 50.97%,#71cd64 51.11%,#47cb87 51.25%,#2ec5a3 51.39%,#1dc0b3 51.53%,#01b9c6 51.81%,#1aacdd 52.22%,#317efb 53.19%,#3c71ff 53.33%,#484df0 53.75%,#473fe3 53.89%,#402ab4 54.17%,#3e26a8 54.31%,#3e26a8 55.14%,#463cde 55.69%,#4851f3 56.53%,#484ff2 57.08%,#4740e4 57.64%,#4435d1 57.92%,#3e26a8 58.33%,#3e26a8 60%,#4536d3 60.56%,#473fe3 61.25%,#4639da 61.94%,#4230c3 62.36%,#3e27ab 62.64%,#3e26a8 62.78%,#3e26a8 65.14%,#4435d1 65.83%,#463adb 66.39%,#4435d1 66.94%,#3e26a8 67.64%,#3e26a8 70.56%,#4639da 71.25%,#484aee 71.81%,#465ffb 72.92%,#4563fd 73.61%,#465ffb 74.44%,#4849ed 75.56%,#4538d8 76.11%,#3e26a8 76.81%,#3e26a8)"></i><i style="top:394.99px;height:9px;background:linear-gradient(90deg,#3e26a8,#3e26a8 24.31%,#4538d8 25%,#4849ed 25.56%,#465ffb 26.67%,#4563fd 27.36%,#465ffb 28.19%,#484aee 29.31%,#4639da 29.86%,#3e26a8 30.56%,#3e26a8 32.78%,#4539d9 33.47%,#4740e4 34.03%,#4639da 34.72%,#3e26a8 35.42%,#3e26a8 37.64%,#4536d3 38.19%,#463cdf 38.47%,#4743e7 39.03%,#463adb 39.86%,#422fc2 40.28%,#3e26a8 40.56%,#3e26a8 42.08%,#463cde 42.64%,#4746ea 42.92%,#4851f3 43.47%,#484ff2 44.03%,#4740e4 44.58%,#3e26a8 45.28%,#3e26a8 45.97%,#4745e9 46.39%,#426afe 46.81%,#2f82fa 47.08%,#2c90f0 47.36%,#1da8e0 47.92%,#02b7cb 48.33%,#03bbc2 48.47%,#23c1af 48.75%,#36c799 48.89%,#57cc7a 49.03%,#cac129 49.31%,#eaba31 49.44%,#febe3c 49.58%,#f6f11f 49.86%,#f9fa16 50.14%,#f5ee21 50.42%,#fec735 50.56%,#f8ba3d 50.69%,#e0bc2a 50.83%,#b3c534 50.97%,#71cd64 51.11%,#47cb87 51.25%,#2ec5a3 51.39%,#1dc0b3 51.53%,#01b9c6 51.81%,#1aacdd 52.22%,#317efb 53.19%,#3c71ff 53.33%,#484df0 53.75%,#473fe3 53.89%,#402ab4 54.17%,#3e26a8 54.31%,#3e26a8 55.14%,#463cde 55.69%,#4851f3 56.53%,#484ff2 57.08%,#4740e4 57.64%,#4435d1 57.92%,#3e26a8 58.33%,#3e26a8 60%,#4536d3 60.56%,#473fe3 61.25%,#4639da 61.94%,#4230c3 62.36%,#3e27ab 62.64%,#3e26a8 62.78%,#3e26a8 65.14%,#4435d1 65.83%,#463adb 66.39%,#4435d1 66.94%,#3e26a8 67.64%,#3e26a8 70.56%,#4639da 71.25%,#484aee 71.81%,#465ffb 72.92%,#4563fd 73.61%,#465ffb 74.44%,#4849ed 75.56%,#4538d8 76.11%,#3e26a8 76.81%,#3e26a8)"></i><i style="top:403.39px;height:9px;background:linear-gradient(90deg,#3e26a8,#3e26a8 24.31%,#4538d8 25%,#4849ed 25.56%,#465ffb 26.67%,#4563fd 27.36%,#465ffb 28.19%,#484aee 29.31%,#4639da 29.86%,#3e26a8 30.56%,#3e26a8 32.78%,#4539d9 33.47%,#4740e4 34.03%,#4639da 34.72%,#3e26a8 35.42%,#3e26a8 37.64%,#4536d3 38.19%,#463cdf 38.47%,#4743e7 39.03%,#463adb 39.86%,#422fc2 40.28%,#3e26a8 40.56%,#3e26a8 42.08%,#463cde 42.64%,#4746ea 42.92%,#4851f3 43.47%,#484ff2 44.03%,#4740e4 44.58%,#3e26a8 45.28%,#3e26a8 45.97%,#4745e9 46.39%,#426afe 46.81%,#2f82fa 47.08%,#2c90f0 47.36%,#1da8e0 47.92%,#02b7cb 48.33%,#03bbc2 48.47%,#23c1af 48.75%,#36c799 48.89%,#57cc7a 49.03%,#cac129 49.31%,#eaba31 49.44%,#febe3c 49.58%,#f6f11f 49.86%,#f9fa16 50.14%,#f5ee21 50.42%,#fec735 50.56%,#f8ba3d 50.69%,#e0bc2a 50.83%,#b3c534 50.97%,#71cd64 51.11%,#47cb87 51.25%,#2ec5a3 51.39%,#1dc0b3 51.53%,#01b9c6 51.81%,#1aacdd 52.22%,#317efb 53.19%,#3c71ff 53.33%,#484df0 53.75%,#473fe3 53.89%,#402ab4 54.17%,#3e26a8 54.31%,#3e26a8 55.14%,#463cde 55.69%,#4851f3 56.53%,#484ff2 57.08%,#4740e4 57.64%,#4435d1 57.92%,#3e26a8 58.33%,#3e26a8 60%,#4536d3 60.56%,#473fe3 61.25%,#4639da 61.94%,#4230c3 62.36%,#3e27ab 62.64%,#3e26a8 62.78%,#3e26a8 65.14%,#4435d1 65.83%,#463adb 66.39%,#4435d1 66.94%,#3e26a8 67.64%,#3e26a8 70.56%,#4639da 71.25%,#484aee 71.81%,#465ffb 72.92%,#4563fd 73.61%,#465ffb 74.44%,#4849ed 75.56%,#4538d8 76.11%,#3e26a8 76.81%,#3e26a8)"></i><i style="top:411.8px;height:8.4px;background:linear-gradient(90deg,#3e26a8,#3e26a8 24.31%,#4538d8 25%,#4849ed 25.56%,#465ffb 26.67%,#4563fd 27.36%,#465ffb 28.19%,#484aee 29.31%,#4639da 29.86%,#3e26a8 30.56%,#3e26a8 32.78%,#4539d9 33.47%,#4740e4 34.03%,#4639da 34.72%,#3e26a8 35.42%,#3e26a8 37.64%,#4536d3 38.19%,#463cdf 38.47%,#4743e7 39.03%,#463adb 39.86%,#422fc2 40.28%,#3e26a8 40.56%,#3e26a8 42.08%,#463cde 42.64%,#4746ea 42.92%,#4851f3 43.47%,#484ff2 44.03%,#4740e4 44.58%,#3e26a8 45.28%,#3e26a8 45.97%,#4745e9 46.39%,#426afe 46.81%,#2f82fa 47.08%,#2c90f0 47.36%,#1da8e0 47.92%,#02b7cb 48.33%,#03bbc2 48.47%,#23c1af 48.75%,#36c799 48.89%,#57cc7a 49.03%,#cac129 49.31%,#eaba31 49.44%,#febe3c 49.58%,#f6f11f 49.86%,#f9fa16 50.14%,#f5ee21 50.42%,#fec735 50.56%,#f8ba3d 50.69%,#e0bc2a 50.83%,#b3c534 50.97%,#71cd64 51.11%,#47cb87 51.25%,#2ec5a3 51.39%,#1dc0b3 51.53%,#01b9c6 51.81%,#1aacdd 52.22%,#317efb 53.19%,#3c71ff 53.33%,#484df0 53.75%,#473fe3 53.89%,#402ab4 54.17%,#3e26a8 54.31%,#3e26a8 55.14%,#463cde 55.69%,#4851f3 56.53%,#484ff2 57.08%,#4740e4 57.64%,#4435d1 57.92%,#3e26a8 58.33%,#3e26a8 60%,#4536d3 60.56%,#473fe3 61.25%,#4639da 61.94%,#4230c3 62.36%,#3e27ab 62.64%,#3e26a8 62.78%,#3e26a8 65.14%,#4435d1 65.83%,#463adb 66.39%,#4435d1 66.94%,#3e26a8 67.64%,#3e26a8 70.56%,#4639da 71.25%,#484aee 71.81%,#465ffb 72.92%,#4563fd 73.61%,#465ffb 74.44%,#4849ed 75.56%,#4538d8 76.11%,#3e26a8 76.81%,#3e26a8)"></i></div><div class="p" style="left:86.3px;top:1147.9px;width:491.4px;height:421px"><i style="top:0px;height:9.02px;background:linear-gradient(90deg,#3e26a8,#3e26a8 51.6%,#f9fb15 51.67%,#f9fb15 52.71%,#3e26a8 52.78%,#3e26a8)"></i><i style="top:8.42px;height:9.02px;background:linear-gradient(90deg,#3e26a8,#3e26a8 51.6%,#f9fb15 51.67%,#f9fb15 52.15%,#fad42e 52.22%,#fad42e 52.71%,#3e26a8 52.78%,#3e26a8)"></i><i style="top:16.84px;height:9.02px;background:linear-gradient(90deg,#3e26a8,#3e26a8 51.6%,#f9fb15 51.67%,#f9fb15 52.15%,#fec735 52.22%,#fec735 52.71%,#3e26a8 52.78%,#3e26a8)"></i><i style="top:25.26px;height:9.02px;background:linear-gradient(90deg,#3e26a8,#3e26a8 51.6%,#f9fb15 51.67%,#f9fb15 52.15%,#fad42e 52.22%,#fad42e 52.71%,#3e26a8 52.78%,#3e26a8)"></i><i style="top:33.68px;height:9.02px;background:linear-gradient(90deg,#3e26a8,#3e26a8 51.6%,#f9fb15 51.67%,#f9fb15 52.71%,#3e26a8 52.78%,#3e26a8)"></i><i style="top:42.1px;height:9.02px;background:linear-gradient(90deg,#3e26a8,#3e26a8 38.26%,#81cc59 38.33%,#81cc59 38.82%,#3e26a8 38.89%,#3e26a8 51.6%,#f9fb15 51.67%,#f9fb15 52.71%,#3e26a8 52.78%,#3e26a8)"></i><i style="top:50.52px;height:9.02px;background:linear-gradient(90deg,#3e26a8,#3e26a8 51.6%,#f9fb15 51.67%,#f9fb15 52.71%,#3e26a8 52.78%,#3e26a8)"></i><i style="top:58.94px;height:9.02px;background:linear-gradient(90deg,#3e26a8,#3e26a8 37.15%,#81cc59 37.22%,#81cc59 37.71%,#3e26a8 37.78%,#3e26a8 51.6%,#f9fb15 51.67%,#f9fb15 52.71%,#3e26a8 52.78%,#3e26a8)"></i><i style="top:67.36px;height:9.02px;background:linear-gradient(90deg,#3e26a8,#3e26a8 51.04%,#f9fb15 51.11%,#f9fb15 52.15%,#3e26a8 52.22%,#3e26a8)"></i><i style="top:75.78px;height:9.02px;background:linear-gradient(90deg,#3e26a8,#3e26a8 51.04%,#81cc59 51.11%,#81cc59 51.6%,#f9fb15 51.67%,#f9fb15 52.15%,#3e26a8 52.22%,#3e26a8)"></i><i style="top:84.2px;height:9.02px;background:linear-gradient(90deg,#3e26a8,#3e26a8 51.04%,#f9fb15 51.11%,#f9fb15 52.15%,#3e26a8 52.22%,#3e26a8)"></i><i style="top:92.62px;height:9.02px;background:linear-gradient(90deg,#3e26a8,#3e26a8 51.04%,#f9fb15 51.11%,#f9fb15 52.15%,#3e26a8 52.22%,#3e26a8)"></i><i style="top:101.04px;height:9.02px;background:linear-gradient(90deg,#3e26a8,#3e26a8 51.04%,#f9fb15 51.11%,#f9fb15 51.6%,#fec735 51.67%,#fec735 52.15%,#3e26a8 52.22%,#3e26a8)"></i><i style="top:109.46px;height:9.02px;background:linear-gradient(90deg,#3e26a8,#3e26a8 51.04%,#f9fb15 51.11%,#f9fb15 52.15%,#3e26a8 52.22%,#3e26a8)"></i><i style="top:117.88px;height:9.02px;background:linear-gradient(90deg,#3e26a8,#3e26a8 51.04%,#f9fb15 51.11%,#f9fb15 52.15%,#3e26a8 52.22%,#3e26a8)"></i><i style="top:126.3px;height:9.02px;background:linear-gradient(90deg,#3e26a8,#3e26a8 51.04%,#f9fb15 51.11%,#f9fb15 52.15%,#3e26a8 52.22%,#3e26a8)"></i><i style="top:134.72px;height:9.02px;background:linear-gradient(90deg,#3e26a8,#3e26a8 51.04%,#f9fb15 51.11%,#f9fb15 51.6%,#bbc42f 51.67%,#bbc42f 52.15%,#3e26a8 52.22%,#3e26a8)"></i><i style="top:143.14px;height:9.02px;background:linear-gradient(90deg,#3e26a8,#3e26a8 51.04%,#f9fb15 51.11%,#f9fb15 52.15%,#3e26a8 52.22%,#3e26a8)"></i><i style="top:151.56px;height:9.02px;background:linear-gradient(90deg,#3e26a8,#3e26a8 51.04%,#f9fb15 51.11%,#f9fb15 52.15%,#3e26a8 52.22%,#3e26a8)"></i><i style="top:159.98px;height:9.02px;background:linear-gradient(90deg,#3e26a8,#3e26a8 50.49%,#f9fb15 50.56%,#f9fb15 51.04%,#fbbc3d 51.11%,#fbbc3d 51.6%,#3e26a8 51.67%,#3e26a8)"></i><i style="top:168.4px;height:9.02px;background:linear-gradient(90deg,#3e26a8,#3e26a8 50.49%,#f9fb15 50.56%,#f9fb15 51.6%,#3e26a8 51.67%,#3e26a8)"></i><i style="top:176.82px;height:9.02px;background:linear-gradient(90deg,#3e26a8,#3e26a8 50.49%,#f9fb15 50.56%,#f9fb15 51.6%,#3e26a8 51.67%,#3e26a8)"></i><i style="top:185.24px;height:9.02px;background:linear-gradient(90deg,#3e26a8,#3e26a8 50.49%,#f9fb15 50.56%,#f9fb15 51.04%,#fec735 51.11%,#fec735 51.6%,#3e26a8 51.67%,#3e26a8)"></i><i style="top:193.66px;height:9.02px;background:linear-gradient(90deg,#3e26a8,#3e26a8 50.49%,#f9fb15 50.56%,#f9fb15 51.6%,#3e26a8 51.67%,#3e26a8)"></i><i style="top:202.08px;height:9.02px;background:linear-gradient(90deg,#3e26a8,#3e26a8 50.49%,#f9fb15 50.56%,#f9fb15 51.04%,#d4be28 51.11%,#d4be28 51.6%,#3e26a8 51.67%,#3e26a8)"></i><i style="top:210.5px;height:9.02px;background:linear-gradient(90deg,#3e26a8,#3e26a8 50.49%,#f9fb15 50.56%,#f9fb15 51.04%,#fad42e 51.11%,#fad42e 51.6%,#3e26a8 51.67%,#3e26a8)"></i><i style="top:218.92px;height:9.02px;background:linear-gradient(90deg,#3e26a8,#3e26a8 37.71%,#fad42e 37.78%,#fad42e 38.26%,#3e26a8 38.33%,#3e26a8 50.49%,#f9fb15 50.56%,#f9fb15 51.6%,#3e26a8 51.67%,#3e26a8)"></i><i style="top:227.34px;height:9.02px;background:linear-gradient(90deg,#3e26a8,#3e26a8 50.49%,#f9fb15 50.56%,#f9fb15 51.6%,#3e26a8 51.67%,#3e26a8)"></i><i style="top:235.76px;height:9.02px;background:linear-gradient(90deg,#3e26a8,#3e26a8 50.49%,#f9fb15 50.56%,#f9fb15 51.04%,#fec735 51.11%,#fec735 51.6%,#3e26a8 51.67%,#3e26a8)"></i><i style="top:244.18px;height:9.02px;background:linear-gradient(90deg,#3e26a8,#3e26a8 50.49%,#f9fb15 50.56%,#f9fb15 51.6%,#3e26a8 51.67%,#3e26a8)"></i><i style="top:252.6px;height:9.02px;background:linear-gradient(90deg,#3e26a8,#3e26a8 50.49%,#f9fb15 50.56%,#f9fb15 51.6%,#3e26a8 51.67%,#3e26a8)"></i><i style="top:261.02px;height:9.02px;background:linear-gradient(90deg,#3e26a8,#3e26a8 50.49%,#f9fb15 50.56%,#f9fb15 51.6%,#3e26a8 51.67%,#3e26a8 56.6%,#1caadf 56.67%,#1caadf 57.15%,#3e26a8 57.22%,#3e26a8)"></i><i style="top:269.44px;height:9.02px;background:linear-gradient(90deg,#3e26a8,#3e26a8 49.93%,#f9fb15 50%,#f9fb15 51.04%,#3e26a8 51.11%,#3e26a8)"></i><i style="top:277.86px;height:9.02px;background:linear-gradient(90deg,#3e26a8,#3e26a8 49.93%,#62cd70 50%,#62cd70 50.49%,#f9fb15 50.56%,#f9fb15 51.04%,#3e26a8 51.11%,#3e26a8)"></i><i style="top:286.28px;height:9.02px;background:linear-gradient(90deg,#3e26a8,#3e26a8 49.93%,#f9fb15 50%,#f9fb15 50.49%,#fbbc3d 50.56%,#fbbc3d 51.04%,#3e26a8 51.11%,#3e26a8)"></i><i style="top:294.7px;height:9.02px;background:linear-gradient(90deg,#3e26a8,#3e26a8 49.93%,#f9fb15 50%,#f9fb15 51.04%,#3e26a8 51.11%,#3e26a8)"></i><i style="top:303.12px;height:9.02px;background:linear-gradient(90deg,#3e26a8,#3e26a8 49.93%,#f9fb15 50%,#f9fb15 50.49%,#9fc942 50.56%,#9fc942 51.04%,#3e26a8 51.11%,#3e26a8)"></i><i style="top:311.54px;height:9.02px;background:linear-gradient(90deg,#3e26a8,#3e26a8 49.93%,#f9fb15 50%,#f9fb15 51.04%,#3e26a8 51.11%,#3e26a8)"></i><i style="top:319.96px;height:9.02px;background:linear-gradient(90deg,#3e26a8,#3e26a8 49.93%,#f9fb15 50%,#f9fb15 50.49%,#fec735 50.56%,#fec735 51.04%,#3e26a8 51.11%,#3e26a8)"></i><i style="top:328.38px;height:9.02px;background:linear-gradient(90deg,#3e26a8,#3e26a8 49.93%,#f9fb15 50%,#f9fb15 51.04%,#3e26a8 51.11%,#3e26a8)"></i><i style="top:336.8px;height:9.02px;background:linear-gradient(90deg,#3e26a8,#3e26a8 49.93%,#f9fb15 50%,#f9fb15 50.49%,#d4be28 50.56%,#d4be28 51.04%,#3e26a8 51.11%,#3e26a8)"></i><i style="top:345.22px;height:9.02px;background:linear-gradient(90deg,#3e26a8,#3e26a8 36.04%,#eaba31 36.11%,#eaba31 36.6%,#fbbc3d 36.67%,#fbbc3d 37.15%,#3e26a8 37.22%,#3e26a8 49.93%,#f9fb15 50%,#f9fb15 51.04%,#3e26a8 51.11%,#3e26a8)"></i><i style="top:353.64px;height:9.02px;background:linear-gradient(90deg,#3e26a8,#3e26a8 49.93%,#f9fb15 50%,#f9fb15 51.04%,#3e26a8 51.11%,#3e26a8)"></i><i style="top:362.06px;height:9.02px;background:linear-gradient(90deg,#3e26a8,#3e26a8 49.93%,#fec735 50%,#fec735 50.49%,#f9fb15 50.56%,#f9fb15 51.04%,#3e26a8 51.11%,#3e26a8)"></i><i style="top:370.48px;height:9.02px;background:linear-gradient(90deg,#3e26a8,#3e26a8 49.93%,#f9fb15 50%,#f9fb15 51.04%,#3e26a8 51.11%,#3e26a8)"></i><i style="top:378.9px;height:9.02px;background:linear-gradient(90deg,#3e26a8,#3e26a8 49.93%,#f9fb15 50%,#f9fb15 51.04%,#3e26a8 51.11%,#3e26a8)"></i><i style="top:387.32px;height:9.02px;background:linear-gradient(90deg,#3e26a8,#3e26a8 49.38%,#35c79a 49.44%,#35c79a 49.93%,#f9fb15 50%,#f9fb15 50.49%,#3e26a8 50.56%,#3e26a8)"></i><i style="top:395.74px;height:9.02px;background:linear-gradient(90deg,#3e26a8,#3e26a8 38.26%,#81cc59 38.33%,#81cc59 38.82%,#9fc942 38.89%,#9fc942 39.38%,#3e26a8 39.44%,#3e26a8 43.82%,#29c3aa 43.89%,#29c3aa 44.38%,#62cd70 44.44%,#62cd70 44.93%,#3e26a8 45%,#3e26a8 49.38%,#fec735 49.44%,#fec735 49.93%,#f9fb15 50%,#f9fb15 50.49%,#3e26a8 50.56%,#3e26a8)"></i><i style="top:404.16px;height:9.02px;background:linear-gradient(90deg,#3e26a8,#3e26a8 49.38%,#bbc42f 49.44%,#bbc42f 49.93%,#f9fb15 50%,#f9fb15 50.49%,#3e26a8 50.56%,#3e26a8)"></i><i style="top:412.58px;height:8.42px;background:linear-gradient(90deg,#3e26a8,#3e26a8 23.26%,#0fb2d4 23.33%,#0fb2d4 23.82%,#fbbc3d 23.89%,#fbbc3d 24.38%,#3e26a8 24.44%,#3e26a8 49.38%,#0fb2d4 49.44%,#0fb2d4 49.93%,#f9fb15 50%,#f9fb15 50.49%,#3e26a8 50.56%,#3e26a8 76.6%,#01b9c7 76.67%,#01b9c7 77.15%,#bbc42f 77.22%,#bbc42f 77.71%,#3e26a8 77.78%,#3e26a8)"></i></div><div class="p" style="left:903px;top:1144.1px;width:476.5px;height:420.4px"><i style="top:0px;height:9.01px;background:linear-gradient(90deg,#3e26a8,#3e26a8 50.14%,#463adc 50.56%,#4756f7 50.9%,#416cfe 51.11%,#2e85f8 51.25%,#2798ea 51.39%,#23a0e5 51.6%,#e3bb2c 51.67%,#f9fb15 51.74%,#f9fb15 52.08%,#f7dd2a 52.15%,#29c3aa 52.22%,#17bfb7 52.43%,#04bbc2 52.5%,#20a4e3 52.64%,#3c72ff 52.92%,#484aee 53.19%,#4539d9 53.4%,#3e27ab 53.68%,#3e26a8 53.75%,#3e26a8)"></i><i style="top:8.41px;height:9.01px;background:linear-gradient(90deg,#3e26a8,#3e26a8 50.14%,#463adc 50.56%,#4756f7 50.9%,#416cfe 51.11%,#2e85f8 51.25%,#2798ea 51.39%,#23a0e5 51.6%,#e3bb2c 51.67%,#f9fb15 51.74%,#f9fb15 52.08%,#f7dd2a 52.15%,#29c3aa 52.22%,#17bfb7 52.43%,#04bbc2 52.5%,#20a4e3 52.64%,#3c72ff 52.92%,#484aee 53.19%,#4539d9 53.4%,#3e27ab 53.68%,#3e26a8 53.75%,#3e26a8)"></i><i style="top:16.82px;height:9.01px;background:linear-gradient(90deg,#3e26a8,#3e26a8 1.11%,#4332ca 2.78%,#4332ca 7.22%,#3e26a8 9.44%,#3e26a8 50.14%,#463adc 50.56%,#4756f7 50.9%,#416cfe 51.11%,#2e85f8 51.25%,#2798ea 51.39%,#23a0e5 51.6%,#e3bb2c 51.67%,#f9fb15 51.74%,#f9fb15 52.08%,#f7dd2a 52.15%,#29c3aa 52.22%,#17bfb7 52.43%,#04bbc2 52.5%,#20a4e3 52.64%,#3c72ff 52.92%,#484aee 53.19%,#4539d9 53.4%,#3e27ab 53.68%,#3e26a8 53.75%,#3e26a8)"></i><i style="top:25.22px;height:9.01px;background:linear-gradient(90deg,#3e26a8,#3e26a8 50.14%,#463adc 50.56%,#4756f7 50.9%,#416cfe 51.11%,#2e85f8 51.25%,#2798ea 51.39%,#23a0e5 51.6%,#e3bb2c 51.67%,#f9fb15 51.74%,#f9fb15 52.08%,#f7dd2a 52.15%,#29c3aa 52.22%,#17bfb7 52.43%,#04bbc2 52.5%,#20a4e3 52.64%,#3c72ff 52.92%,#484aee 53.19%,#4539d9 53.4%,#3e27ab 53.68%,#3e26a8 53.75%,#3e26a8)"></i><i style="top:33.63px;height:9.01px;background:linear-gradient(90deg,#3e26a8,#3e26a8 50.14%,#463adc 50.56%,#4756f7 50.9%,#416cfe 51.11%,#2e85f8 51.25%,#2798ea 51.39%,#23a0e5 51.6%,#e3bb2c 51.67%,#f9fb15 51.74%,#f9fb15 52.08%,#f7dd2a 52.15%,#29c3aa 52.22%,#17bfb7 52.43%,#04bbc2 52.5%,#20a4e3 52.64%,#3c72ff 52.92%,#484aee 53.19%,#4539d9 53.4%,#3e27ab 53.68%,#3e26a8 53.75%,#3e26a8)"></i><i style="top:42.04px;height:9.01px;background:linear-gradient(90deg,#4849ed,#475dfa 8.54%,#4755f6 10.56%,#463cdf 11.46%,#3e26a8 12.5%,#3e26a8 50.14%,#463adc 50.56%,#4756f7 50.9%,#416cfe 51.11%,#2e85f8 51.25%,#2798ea 51.39%,#23a0e5 51.6%,#e3bb2c 51.67%,#f9fb15 51.74%,#f9fb15 52.08%,#f7dd2a 52.15%,#29c3aa 52.22%,#17bfb7 52.43%,#04bbc2 52.5%,#20a4e3 52.64%,#3c72ff 52.92%,#484aee 53.19%,#4539d9 53.4%,#3e27ab 53.68%,#3e26a8 53.75%,#3e26a8)"></i><i style="top:50.45px;height:9.01px;background:linear-gradient(90deg,#3e26a8,#3e26a8 50.14%,#463adc 50.56%,#4756f7 50.9%,#416cfe 51.11%,#2e85f8 51.25%,#2798ea 51.39%,#23a0e5 51.6%,#e3bb2c 51.67%,#f9fb15 51.74%,#f9fb15 52.08%,#f7dd2a 52.15%,#29c3aa 52.22%,#17bfb7 52.43%,#04bbc2 52.5%,#20a4e3 52.64%,#3c72ff 52.92%,#484aee 53.19%,#4539d9 53.4%,#3e27ab 53.68%,#3e26a8 53.75%,#3e26a8)"></i><i style="top:58.86px;height:9.01px;background:linear-gradient(90deg,#3e26a8,#3e26a8 50.14%,#463adc 50.56%,#4756f7 50.9%,#416cfe 51.11%,#2e85f8 51.25%,#2798ea 51.39%,#23a0e5 51.6%,#e3bb2c 51.67%,#f9fb15 51.74%,#f9fb15 52.08%,#f7dd2a 52.15%,#29c3aa 52.22%,#17bfb7 52.43%,#04bbc2 52.5%,#20a4e3 52.64%,#3c72ff 52.92%,#484aee 53.19%,#4539d9 53.4%,#3e27ab 53.68%,#3e26a8 53.75%,#3e26a8)"></i><i style="top:67.26px;height:9.01px;background:linear-gradient(90deg,#3e26a8,#3e26a8 50.14%,#463adc 50.56%,#4756f7 50.9%,#416cfe 51.11%,#2e85f8 51.25%,#2798ea 51.39%,#23a0e5 51.6%,#e3bb2c 51.67%,#f9fb15 51.74%,#f9fb15 52.08%,#f7dd2a 52.15%,#29c3aa 52.22%,#17bfb7 52.43%,#04bbc2 52.5%,#20a4e3 52.64%,#3c72ff 52.92%,#484aee 53.19%,#4539d9 53.4%,#3e27ab 53.68%,#3e26a8 53.75%,#3e26a8)"></i><i style="top:75.67px;height:9.01px;background:linear-gradient(90deg,#3e26a8,#3e26a8 50.14%,#463adc 50.56%,#4756f7 50.9%,#416cfe 51.11%,#2e85f8 51.25%,#2798ea 51.39%,#23a0e5 51.6%,#e3bb2c 51.67%,#f9fb15 51.74%,#f9fb15 52.08%,#f7dd2a 52.15%,#29c3aa 52.22%,#17bfb7 52.43%,#04bbc2 52.5%,#20a4e3 52.64%,#3c72ff 52.92%,#484aee 53.19%,#4539d9 53.4%,#3e27ab 53.68%,#3e26a8 53.75%,#3e26a8)"></i><i style="top:84.08px;height:9.01px;background:linear-gradient(90deg,#3e26a8,#3e26a8 49.58%,#463adc 50%,#4756f7 50.35%,#416cfe 50.56%,#2e85f8 50.69%,#2798ea 50.83%,#23a0e5 51.04%,#e3bb2c 51.11%,#f9fb15 51.18%,#f9fb15 51.53%,#f7dd2a 51.6%,#29c3aa 51.67%,#17bfb7 51.88%,#04bbc2 51.94%,#20a4e3 52.08%,#3c72ff 52.36%,#484aee 52.64%,#4539d9 52.85%,#3e27ab 53.12%,#3e26a8 53.19%,#3e26a8)"></i><i style="top:92.49px;height:9.01px;background:linear-gradient(90deg,#3e26a8,#3e26a8 49.58%,#463adc 50%,#4756f7 50.35%,#416cfe 50.56%,#2e85f8 50.69%,#2798ea 50.83%,#23a0e5 51.04%,#e3bb2c 51.11%,#f9fb15 51.18%,#f9fb15 51.53%,#f7dd2a 51.6%,#29c3aa 51.67%,#17bfb7 51.88%,#04bbc2 51.94%,#20a4e3 52.08%,#3c72ff 52.36%,#484aee 52.64%,#4539d9 52.85%,#3e27ab 53.12%,#3e26a8 53.19%,#3e26a8)"></i><i style="top:100.9px;height:9.01px;background:linear-gradient(90deg,#3e26a8,#3e26a8 49.58%,#463adc 50%,#4756f7 50.35%,#416cfe 50.56%,#2e85f8 50.69%,#2798ea 50.83%,#23a0e5 51.04%,#e3bb2c 51.11%,#f9fb15 51.18%,#f9fb15 51.53%,#f7dd2a 51.6%,#29c3aa 51.67%,#17bfb7 51.88%,#04bbc2 51.94%,#20a4e3 52.08%,#3c72ff 52.36%,#484aee 52.64%,#4539d9 52.85%,#3e27ab 53.12%,#3e26a8 53.19%,#3e26a8)"></i><i style="top:109.3px;height:9.01px;background:linear-gradient(90deg,#3e26a8,#3e26a8 49.58%,#463adc 50%,#4756f7 50.35%,#416cfe 50.56%,#2e85f8 50.69%,#2798ea 50.83%,#23a0e5 51.04%,#e3bb2c 51.11%,#f9fb15 51.18%,#f9fb15 51.53%,#f7dd2a 51.6%,#29c3aa 51.67%,#17bfb7 51.88%,#04bbc2 51.94%,#20a4e3 52.08%,#3c72ff 52.36%,#484aee 52.64%,#4539d9 52.85%,#3e27ab 53.12%,#3e26a8 53.19%,#3e26a8)"></i><i style="top:117.71px;height:9.01px;background:linear-gradient(90deg,#3e26a8,#3e26a8 49.58%,#463adc 50%,#4756f7 50.35%,#416cfe 50.56%,#2e85f8 50.69%,#2798ea 50.83%,#23a0e5 51.04%,#e3bb2c 51.11%,#f9fb15 51.18%,#f9fb15 51.53%,#f7dd2a 51.6%,#29c3aa 51.67%,#17bfb7 51.88%,#04bbc2 51.94%,#20a4e3 52.08%,#3c72ff 52.36%,#484aee 52.64%,#4539d9 52.85%,#3e27ab 53.12%,#3e26a8 53.19%,#3e26a8)"></i><i style="top:126.12px;height:9.01px;background:linear-gradient(90deg,#4563fd,#4661fc 5.56%,#4758f8 8.33%,#4639da 9.72%,#3e26a8 10.83%,#3e26a8 49.58%,#463adc 50%,#4756f7 50.35%,#416cfe 50.56%,#2e85f8 50.69%,#2798ea 50.83%,#23a0e5 51.04%,#e3bb2c 51.11%,#f9fb15 51.18%,#f9fb15 51.53%,#f7dd2a 51.6%,#29c3aa 51.67%,#17bfb7 51.88%,#04bbc2 51.94%,#20a4e3 52.08%,#3c72ff 52.36%,#484aee 52.64%,#4539d9 52.85%,#3e27ab 53.12%,#3e26a8 53.19%,#3e26a8)"></i><i style="top:134.53px;height:9.01px;background:linear-gradient(90deg,#3e26a8,#3e26a8 49.58%,#463adc 50%,#4756f7 50.35%,#416cfe 50.56%,#2e85f8 50.69%,#2798ea 50.83%,#23a0e5 51.04%,#e3bb2c 51.11%,#f9fb15 51.18%,#f9fb15 51.53%,#f7dd2a 51.6%,#29c3aa 51.67%,#17bfb7 51.88%,#04bbc2 51.94%,#20a4e3 52.08%,#3c72ff 52.36%,#484aee 52.64%,#4539d9 52.85%,#3e27ab 53.12%,#3e26a8 53.19%,#3e26a8)"></i><i style="top:142.94px;height:9.01px;background:linear-gradient(90deg,#3e26a8,#3e26a8 49.58%,#463adc 50%,#4756f7 50.35%,#416cfe 50.56%,#2e85f8 50.69%,#2798ea 50.83%,#23a0e5 51.04%,#e3bb2c 51.11%,#f9fb15 51.18%,#f9fb15 51.53%,#f7dd2a 51.6%,#29c3aa 51.67%,#17bfb7 51.88%,#04bbc2 51.94%,#20a4e3 52.08%,#3c72ff 52.36%,#484aee 52.64%,#4539d9 52.85%,#3e27ab 53.12%,#3e26a8 53.19%,#3e26a8)"></i><i style="top:151.34px;height:9.01px;background:linear-gradient(90deg,#3e26a8,#3e26a8 49.58%,#463adc 50%,#4756f7 50.35%,#416cfe 50.56%,#2e85f8 50.69%,#2798ea 50.83%,#23a0e5 51.04%,#e3bb2c 51.11%,#f9fb15 51.18%,#f9fb15 51.53%,#f7dd2a 51.6%,#29c3aa 51.67%,#17bfb7 51.88%,#04bbc2 51.94%,#20a4e3 52.08%,#3c72ff 52.36%,#484aee 52.64%,#4539d9 52.85%,#3e27ab 53.12%,#3e26a8 53.19%,#3e26a8)"></i><i style="top:159.75px;height:9.01px;background:linear-gradient(90deg,#3e26a8,#3e26a8 49.03%,#463adc 49.44%,#4756f7 49.79%,#416cfe 50%,#2e85f8 50.14%,#2798ea 50.28%,#23a0e5 50.49%,#e3bb2c 50.56%,#f9fb15 50.62%,#f9fb15 50.97%,#f7dd2a 51.04%,#29c3aa 51.11%,#17bfb7 51.32%,#04bbc2 51.39%,#20a4e3 51.53%,#3c72ff 51.81%,#484aee 52.08%,#4539d9 52.29%,#3e27ab 52.57%,#3e26a8 52.64%,#3e26a8)"></i><i style="top:168.16px;height:9.01px;background:linear-gradient(90deg,#3e26a8,#3e26a8 49.03%,#463adc 49.44%,#4756f7 49.79%,#416cfe 50%,#2e85f8 50.14%,#2798ea 50.28%,#23a0e5 50.49%,#e3bb2c 50.56%,#f9fb15 50.62%,#f9fb15 50.97%,#f7dd2a 51.04%,#29c3aa 51.11%,#17bfb7 51.32%,#04bbc2 51.39%,#20a4e3 51.53%,#3c72ff 51.81%,#484aee 52.08%,#4539d9 52.29%,#3e27ab 52.57%,#3e26a8 52.64%,#3e26a8)"></i><i style="top:176.57px;height:9.01px;background:linear-gradient(90deg,#4849ed,#475af9 4.38%,#406dfe 7.15%,#406dfe 10%,#4661fc 11.11%,#4740e4 12.36%,#3e26a8 13.61%,#3e26a8 49.03%,#463adc 49.44%,#4756f7 49.79%,#416cfe 50%,#2e85f8 50.14%,#2798ea 50.28%,#23a0e5 50.49%,#e3bb2c 50.56%,#f9fb15 50.62%,#f9fb15 50.97%,#f7dd2a 51.04%,#29c3aa 51.11%,#17bfb7 51.32%,#04bbc2 51.39%,#20a4e3 51.53%,#3c72ff 51.81%,#484aee 52.08%,#4539d9 52.29%,#3e27ab 52.57%,#3e26a8 52.64%,#3e26a8)"></i><i style="top:184.98px;height:9.01px;background:linear-gradient(90deg,#3e26a8,#3e26a8 49.03%,#463adc 49.44%,#4756f7 49.79%,#416cfe 50%,#2e85f8 50.14%,#2798ea 50.28%,#23a0e5 50.49%,#e3bb2c 50.56%,#f9fb15 50.62%,#f9fb15 50.97%,#f7dd2a 51.04%,#29c3aa 51.11%,#17bfb7 51.32%,#04bbc2 51.39%,#20a4e3 51.53%,#3c72ff 51.81%,#484aee 52.08%,#4539d9 52.29%,#3e27ab 52.57%,#3e26a8 52.64%,#3e26a8)"></i><i style="top:193.38px;height:9.01px;background:linear-gradient(90deg,#3e26a8,#3e26a8 49.03%,#463adc 49.44%,#4756f7 49.79%,#416cfe 50%,#2e85f8 50.14%,#2798ea 50.28%,#23a0e5 50.49%,#e3bb2c 50.56%,#f9fb15 50.62%,#f9fb15 50.97%,#f7dd2a 51.04%,#29c3aa 51.11%,#17bfb7 51.32%,#04bbc2 51.39%,#20a4e3 51.53%,#3c72ff 51.81%,#484aee 52.08%,#4539d9 52.29%,#3e27ab 52.57%,#3e26a8 52.64%,#3e26a8)"></i><i style="top:201.79px;height:9.01px;background:linear-gradient(90deg,#3e26a8,#3e26a8 49.03%,#463adc 49.44%,#4756f7 49.79%,#416cfe 50%,#2e85f8 50.14%,#2798ea 50.28%,#23a0e5 50.49%,#e3bb2c 50.56%,#f9fb15 50.62%,#f9fb15 50.97%,#f7dd2a 51.04%,#29c3aa 51.11%,#17bfb7 51.32%,#04bbc2 51.39%,#20a4e3 51.53%,#3c72ff 51.81%,#484aee 52.08%,#4539d9 52.29%,#3e27ab 52.57%,#3e26a8 52.64%,#3e26a8)"></i><i style="top:210.2px;height:9.01px;background:linear-gradient(90deg,#3e26a8,#3e26a8 49.03%,#463adc 49.44%,#4756f7 49.79%,#416cfe 50%,#2e85f8 50.14%,#2798ea 50.28%,#23a0e5 50.49%,#e3bb2c 50.56%,#f9fb15 50.62%,#f9fb15 50.97%,#f7dd2a 51.04%,#29c3aa 51.11%,#17bfb7 51.32%,#04bbc2 51.39%,#20a4e3 51.53%,#3c72ff 51.81%,#484aee 52.08%,#4539d9 52.29%,#3e27ab 52.57%,#3e26a8 52.64%,#3e26a8)"></i><i style="top:218.61px;height:9.01px;background:linear-gradient(90deg,#4661fc,#4367fd 6.39%,#4661fc 9.44%,#463de0 10.97%,#3e26a8 12.22%,#3e26a8 49.03%,#463adc 49.44%,#4756f7 49.79%,#416cfe 50%,#2e85f8 50.14%,#2798ea 50.28%,#23a0e5 50.49%,#e3bb2c 50.56%,#f9fb15 50.62%,#f9fb15 50.97%,#f7dd2a 51.04%,#29c3aa 51.11%,#17bfb7 51.32%,#04bbc2 51.39%,#20a4e3 51.53%,#3c72ff 51.81%,#484aee 52.08%,#4539d9 52.29%,#3e27ab 52.57%,#3e26a8 52.64%,#3e26a8)"></i><i style="top:227.02px;height:9.01px;background:linear-gradient(90deg,#3e26a8,#3e26a8 49.03%,#463adc 49.44%,#4756f7 49.79%,#416cfe 50%,#2e85f8 50.14%,#2798ea 50.28%,#23a0e5 50.49%,#e3bb2c 50.56%,#f9fb15 50.62%,#f9fb15 50.97%,#f7dd2a 51.04%,#29c3aa 51.11%,#17bfb7 51.32%,#04bbc2 51.39%,#20a4e3 51.53%,#3c72ff 51.81%,#484aee 52.08%,#4539d9 52.29%,#3e27ab 52.57%,#3e26a8 52.64%,#3e26a8)"></i><i style="top:235.42px;height:9.01px;background:linear-gradient(90deg,#3e26a8,#3e26a8 49.58%,#463adc 50%,#4756f7 50.35%,#416cfe 50.56%,#2e85f8 50.69%,#2798ea 50.83%,#23a0e5 51.04%,#e3bb2c 51.11%,#f9fb15 51.18%,#f9fb15 51.53%,#f7dd2a 51.6%,#29c3aa 51.67%,#17bfb7 51.88%,#04bbc2 51.94%,#20a4e3 52.08%,#3c72ff 52.36%,#484aee 52.64%,#4539d9 52.85%,#3e27ab 53.12%,#3e26a8 53.19%,#3e26a8)"></i><i style="top:243.83px;height:9.01px;background:linear-gradient(90deg,#3e26a8,#3e26a8 49.58%,#463adc 50%,#4756f7 50.35%,#416cfe 50.56%,#2e85f8 50.69%,#2798ea 50.83%,#23a0e5 51.04%,#e3bb2c 51.11%,#f9fb15 51.18%,#f9fb15 51.53%,#f7dd2a 51.6%,#29c3aa 51.67%,#17bfb7 51.88%,#04bbc2 51.94%,#20a4e3 52.08%,#3c72ff 52.36%,#484aee 52.64%,#4539d9 52.85%,#3e27ab 53.12%,#3e26a8 53.19%,#3e26a8)"></i><i style="top:252.24px;height:9.01px;background:linear-gradient(90deg,#3e26a8,#3e26a8 48.96%,#4740e4 49.51%,#465ffb 49.86%,#3d71ff 50%,#317efb 50.07%,#2994ed 50.21%,#249ee6 50.42%,#02bac5 50.49%,#f9fb15 50.56%,#f9fb15 50.97%,#d4be28 51.04%,#27c2ac 51.11%,#13beb8 51.32%,#01b8ca 51.39%,#19addc 51.46%,#249fe6 51.53%,#2e84f9 51.67%,#406dfe 51.81%,#484ef1 52.01%,#4742e6 52.15%,#3e26a8 52.57%,#3e26a8)"></i><i style="top:260.65px;height:9.01px;background:linear-gradient(90deg,#3e26a8,#3e26a8 48.96%,#4740e4 49.51%,#465ffb 49.86%,#3d71ff 50%,#317efb 50.07%,#2994ed 50.21%,#249ee6 50.42%,#02bac5 50.49%,#f9fb15 50.56%,#f9fb15 50.97%,#d4be28 51.04%,#27c2ac 51.11%,#13beb8 51.32%,#01b8ca 51.39%,#19addc 51.46%,#249fe6 51.53%,#2e84f9 51.67%,#406dfe 51.81%,#484ef1 52.01%,#4742e6 52.15%,#3e26a8 52.57%,#3e26a8)"></i><i style="top:269.06px;height:9.01px;background:linear-gradient(90deg,#463de0,#4538d7 5%,#3e26a8 8.06%,#3e26a8 48.96%,#4740e4 49.51%,#465ffb 49.86%,#3d71ff 50%,#317efb 50.07%,#2994ed 50.21%,#249ee6 50.42%,#02bac5 50.49%,#f9fb15 50.56%,#f9fb15 50.97%,#d4be28 51.04%,#27c2ac 51.11%,#13beb8 51.32%,#01b8ca 51.39%,#19addc 51.46%,#249fe6 51.53%,#2e84f9 51.67%,#406dfe 51.81%,#484ef1 52.01%,#4742e6 52.15%,#3e26a8 52.57%,#3e26a8)"></i><i style="top:277.46px;height:9.01px;background:linear-gradient(90deg,#3e26a8,#3e26a8 48.96%,#4740e4 49.51%,#465ffb 49.86%,#3d71ff 50%,#317efb 50.07%,#2994ed 50.21%,#249ee6 50.42%,#02bac5 50.49%,#f9fb15 50.56%,#f9fb15 50.97%,#d4be28 51.04%,#27c2ac 51.11%,#13beb8 51.32%,#01b8ca 51.39%,#19addc 51.46%,#249fe6 51.53%,#2e84f9 51.67%,#406dfe 51.81%,#484ef1 52.01%,#4742e6 52.15%,#3e26a8 52.57%,#3e26a8)"></i><i style="top:285.87px;height:9.01px;background:linear-gradient(90deg,#3e26a8,#3e26a8 48.96%,#4740e4 49.51%,#465ffb 49.86%,#3d71ff 50%,#317efb 50.07%,#2994ed 50.21%,#249ee6 50.42%,#02bac5 50.49%,#f9fb15 50.56%,#f9fb15 50.97%,#d4be28 51.04%,#27c2ac 51.11%,#13beb8 51.32%,#01b8ca 51.39%,#19addc 51.46%,#249fe6 51.53%,#2e84f9 51.67%,#406dfe 51.81%,#484ef1 52.01%,#4742e6 52.15%,#3e26a8 52.57%,#3e26a8)"></i><i style="top:294.28px;height:9.01px;background:linear-gradient(90deg,#3e26a8,#3e26a8 48.4%,#4740e4 48.96%,#465ffb 49.31%,#3d71ff 49.44%,#317efb 49.51%,#2994ed 49.65%,#249ee6 49.86%,#02bac5 49.93%,#f9fb15 50%,#f9fb15 50.42%,#d4be28 50.49%,#27c2ac 50.56%,#13beb8 50.76%,#01b8ca 50.83%,#19addc 50.9%,#249fe6 50.97%,#2e84f9 51.11%,#406dfe 51.25%,#484ef1 51.46%,#4742e6 51.6%,#3e26a8 52.01%,#3e26a8)"></i><i style="top:302.69px;height:9.01px;background:linear-gradient(90deg,#3e26a8,#3e26a8 48.4%,#4740e4 48.96%,#465ffb 49.31%,#3d71ff 49.44%,#317efb 49.51%,#2994ed 49.65%,#249ee6 49.86%,#02bac5 49.93%,#f9fb15 50%,#f9fb15 50.42%,#d4be28 50.49%,#27c2ac 50.56%,#13beb8 50.76%,#01b8ca 50.83%,#19addc 50.9%,#249fe6 50.97%,#2e84f9 51.11%,#406dfe 51.25%,#484ef1 51.46%,#4742e6 51.6%,#3e26a8 52.01%,#3e26a8)"></i><i style="top:311.1px;height:9.01px;background:linear-gradient(90deg,#3e26a8,#3e26a8 48.4%,#4740e4 48.96%,#465ffb 49.31%,#3d71ff 49.44%,#317efb 49.51%,#2994ed 49.65%,#249ee6 49.86%,#02bac5 49.93%,#f9fb15 50%,#f9fb15 50.42%,#d4be28 50.49%,#27c2ac 50.56%,#13beb8 50.76%,#01b8ca 50.83%,#19addc 50.9%,#249fe6 50.97%,#2e84f9 51.11%,#406dfe 51.25%,#484ef1 51.46%,#4742e6 51.6%,#3e26a8 52.01%,#3e26a8)"></i><i style="top:319.5px;height:9.01px;background:linear-gradient(90deg,#3e26a8,#3e26a8 48.4%,#4740e4 48.96%,#465ffb 49.31%,#3d71ff 49.44%,#317efb 49.51%,#2994ed 49.65%,#249ee6 49.86%,#02bac5 49.93%,#f9fb15 50%,#f9fb15 50.42%,#d4be28 50.49%,#27c2ac 50.56%,#13beb8 50.76%,#01b8ca 50.83%,#19addc 50.9%,#249fe6 50.97%,#2e84f9 51.11%,#406dfe 51.25%,#484ef1 51.46%,#4742e6 51.6%,#3e26a8 52.01%,#3e26a8)"></i><i style="top:327.91px;height:9.01px;background:linear-gradient(90deg,#3e26a8,#3e26a8 48.4%,#4740e4 48.96%,#465ffb 49.31%,#3d71ff 49.44%,#317efb 49.51%,#2994ed 49.65%,#249ee6 49.86%,#02bac5 49.93%,#f9fb15 50%,#f9fb15 50.42%,#d4be28 50.49%,#27c2ac 50.56%,#13beb8 50.76%,#01b8ca 50.83%,#19addc 50.9%,#249fe6 50.97%,#2e84f9 51.11%,#406dfe 51.25%,#484ef1 51.46%,#4742e6 51.6%,#3e26a8 52.01%,#3e26a8)"></i><i style="top:336.32px;height:9.01px;background:linear-gradient(90deg,#3e26a8,#3e26a8 48.4%,#4740e4 48.96%,#465ffb 49.31%,#3d71ff 49.44%,#317efb 49.51%,#2994ed 49.65%,#249ee6 49.86%,#02bac5 49.93%,#f9fb15 50%,#f9fb15 50.42%,#d4be28 50.49%,#27c2ac 50.56%,#13beb8 50.76%,#01b8ca 50.83%,#19addc 50.9%,#249fe6 50.97%,#2e84f9 51.11%,#406dfe 51.25%,#484ef1 51.46%,#4742e6 51.6%,#3e26a8 52.01%,#3e26a8)"></i><i style="top:344.73px;height:9.01px;background:linear-gradient(90deg,#4661fc,#4367fd 6.74%,#465dfb 9.38%,#4740e4 10.62%,#3e26a8 11.94%,#3e26a8 48.96%,#4740e4 49.51%,#465ffb 49.86%,#3d71ff 50%,#317efb 50.07%,#2994ed 50.21%,#249ee6 50.42%,#02bac5 50.49%,#f9fb15 50.56%,#f9fb15 50.97%,#d4be28 51.04%,#27c2ac 51.11%,#13beb8 51.32%,#01b8ca 51.39%,#19addc 51.46%,#249fe6 51.53%,#2e84f9 51.67%,#406dfe 51.81%,#484ef1 52.01%,#4742e6 52.15%,#3e26a8 52.57%,#3e26a8)"></i><i style="top:353.14px;height:9.01px;background:linear-gradient(90deg,#3e26a8,#3e26a8 48.96%,#4740e4 49.51%,#465ffb 49.86%,#3d71ff 50%,#317efb 50.07%,#2994ed 50.21%,#249ee6 50.42%,#02bac5 50.49%,#f9fb15 50.56%,#f9fb15 50.97%,#d4be28 51.04%,#27c2ac 51.11%,#13beb8 51.32%,#01b8ca 51.39%,#19addc 51.46%,#249fe6 51.53%,#2e84f9 51.67%,#406dfe 51.81%,#484ef1 52.01%,#4742e6 52.15%,#3e26a8 52.57%,#3e26a8)"></i><i style="top:361.54px;height:9.01px;background:linear-gradient(90deg,#4755f6,#4661fc 10.56%,#4740e4 12.08%,#3e26a8 13.61%,#3e26a8 48.4%,#4740e4 48.96%,#465ffb 49.31%,#3d71ff 49.44%,#317efb 49.51%,#2994ed 49.65%,#249ee6 49.86%,#02bac5 49.93%,#f9fb15 50%,#f9fb15 50.42%,#d4be28 50.49%,#27c2ac 50.56%,#13beb8 50.76%,#01b8ca 50.83%,#19addc 50.9%,#249fe6 50.97%,#2e84f9 51.11%,#406dfe 51.25%,#484ef1 51.46%,#4742e6 51.6%,#3e26a8 52.01%,#3e26a8)"></i><i style="top:369.95px;height:9.01px;background:linear-gradient(90deg,#3e26a8,#3e26a8 48.4%,#4740e4 48.96%,#465ffb 49.31%,#3d71ff 49.44%,#317efb 49.51%,#2994ed 49.65%,#249ee6 49.86%,#02bac5 49.93%,#f9fb15 50%,#f9fb15 50.42%,#d4be28 50.49%,#27c2ac 50.56%,#13beb8 50.76%,#01b8ca 50.83%,#19addc 50.9%,#249fe6 50.97%,#2e84f9 51.11%,#406dfe 51.25%,#484ef1 51.46%,#4742e6 51.6%,#3e26a8 52.01%,#3e26a8)"></i><i style="top:378.36px;height:9.01px;background:linear-gradient(90deg,#3e26a8,#3e26a8 48.4%,#4740e4 48.96%,#465ffb 49.31%,#3d71ff 49.44%,#317efb 49.51%,#2994ed 49.65%,#249ee6 49.86%,#02bac5 49.93%,#f9fb15 50%,#f9fb15 50.42%,#d4be28 50.49%,#27c2ac 50.56%,#13beb8 50.76%,#01b8ca 50.83%,#19addc 50.9%,#249fe6 50.97%,#2e84f9 51.11%,#406dfe 51.25%,#484ef1 51.46%,#4742e6 51.6%,#3e26a8 52.01%,#3e26a8)"></i><i style="top:386.77px;height:9.01px;background:linear-gradient(90deg,#3e26a8,#3e26a8 48.4%,#4740e4 48.96%,#465ffb 49.31%,#3d71ff 49.44%,#317efb 49.51%,#2994ed 49.65%,#249ee6 49.86%,#02bac5 49.93%,#f9fb15 50%,#f9fb15 50.42%,#d4be28 50.49%,#27c2ac 50.56%,#13beb8 50.76%,#01b8ca 50.83%,#19addc 50.9%,#249fe6 50.97%,#2e84f9 51.11%,#406dfe 51.25%,#484ef1 51.46%,#4742e6 51.6%,#3e26a8 52.01%,#3e26a8)"></i><i style="top:395.18px;height:9.01px;background:linear-gradient(90deg,#2e86f7,#2d8cf3 4.44%,#337bfd 7.15%,#4464fd 7.85%,#4741e5 8.96%,#3e26a8 10%,#3e26a8 48.4%,#4740e4 48.96%,#465ffb 49.31%,#3d71ff 49.44%,#317efb 49.51%,#2994ed 49.65%,#249ee6 49.86%,#02bac5 49.93%,#f9fb15 50%,#f9fb15 50.42%,#d4be28 50.49%,#27c2ac 50.56%,#13beb8 50.76%,#01b8ca 50.83%,#19addc 50.9%,#249fe6 50.97%,#2e84f9 51.11%,#406dfe 51.25%,#484ef1 51.46%,#4742e6 51.6%,#3e26a8 52.01%,#3e26a8)"></i><i style="top:403.58px;height:9.01px;background:linear-gradient(90deg,#3e26a8,#3e26a8 48.4%,#4740e4 48.96%,#465ffb 49.31%,#3d71ff 49.44%,#317efb 49.51%,#2994ed 49.65%,#249ee6 49.86%,#02bac5 49.93%,#f9fb15 50%,#f9fb15 50.42%,#d4be28 50.49%,#27c2ac 50.56%,#13beb8 50.76%,#01b8ca 50.83%,#19addc 50.9%,#249fe6 50.97%,#2e84f9 51.11%,#406dfe 51.25%,#484ef1 51.46%,#4742e6 51.6%,#3e26a8 52.01%,#3e26a8)"></i><i style="top:411.99px;height:8.41px;background:linear-gradient(90deg,#3e26a8,#3e26a8 48.4%,#4740e4 48.96%,#465ffb 49.31%,#3d71ff 49.44%,#317efb 49.51%,#2994ed 49.65%,#249ee6 49.86%,#02bac5 49.93%,#f9fb15 50%,#f9fb15 50.42%,#d4be28 50.49%,#27c2ac 50.56%,#13beb8 50.76%,#01b8ca 50.83%,#19addc 50.9%,#249fe6 50.97%,#2e84f9 51.11%,#406dfe 51.25%,#484ef1 51.46%,#4742e6 51.6%,#3e26a8 52.01%,#3e26a8 86.67%,#463de0 87.71%,#4661fc 88.89%,#317dfc 89.72%,#2797eb 90.56%,#23a1e5 93.33%,#2f80fa 95.56%,#3c71ff 96.53%,#475dfa 97.92%,#4743e7)"></i></div><svg width="1495" height="1704" viewBox="0 0 1495 1704"><defs><linearGradient id="cbg" x1="0" y1="0" x2="0" y2="1"><stop offset="0" stop-color="#f9fb15"/><stop offset="0.02" stop-color="#f7f51b"/><stop offset="0.03" stop-color="#f6ef20"/><stop offset="0.05" stop-color="#f5e924"/><stop offset="0.06" stop-color="#f5e327"/><stop offset="0.08" stop-color="#f7dc2a"/><stop offset="0.1" stop-color="#fad62d"/><stop offset="0.11" stop-color="#fccf30"/><stop offset="0.13" stop-color="#fec934"/><stop offset="0.14" stop-color="#fec338"/><stop offset="0.16" stop-color="#febe3c"/><stop offset="0.17" stop-color="#f8ba3d"/><stop offset="0.19" stop-color="#f0ba36"/><stop offset="0.21" stop-color="#e6bb2d"/><stop offset="0.22" stop-color="#dcbd29"/><stop offset="0.24" stop-color="#d1bf27"/><stop offset="0.25" stop-color="#c5c22a"/><stop offset="0.27" stop-color="#b9c431"/><stop offset="0.29" stop-color="#abc739"/><stop offset="0.3" stop-color="#9dc943"/><stop offset="0.32" stop-color="#8fcb4e"/><stop offset="0.33" stop-color="#81cc59"/><stop offset="0.35" stop-color="#72cd64"/><stop offset="0.37" stop-color="#64cd6f"/><stop offset="0.38" stop-color="#57cc7a"/><stop offset="0.4" stop-color="#4acb84"/><stop offset="0.41" stop-color="#3fca8e"/><stop offset="0.43" stop-color="#37c897"/><stop offset="0.44" stop-color="#31c69f"/><stop offset="0.46" stop-color="#2cc4a7"/><stop offset="0.48" stop-color="#24c1ae"/><stop offset="0.49" stop-color="#19bfb6"/><stop offset="0.51" stop-color="#0bbdbd"/><stop offset="0.52" stop-color="#02bac3"/><stop offset="0.54" stop-color="#01b8ca"/><stop offset="0.56" stop-color="#08b5d0"/><stop offset="0.57" stop-color="#12b1d6"/><stop offset="0.59" stop-color="#18addb"/><stop offset="0.6" stop-color="#1ca9df"/><stop offset="0.62" stop-color="#20a5e3"/><stop offset="0.63" stop-color="#23a0e5"/><stop offset="0.65" stop-color="#259be8"/><stop offset="0.67" stop-color="#2797eb"/><stop offset="0.68" stop-color="#2b91ef"/><stop offset="0.7" stop-color="#2d8cf3"/><stop offset="0.71" stop-color="#2e87f7"/><stop offset="0.73" stop-color="#2f81fa"/><stop offset="0.75" stop-color="#327cfc"/><stop offset="0.76" stop-color="#3875fe"/><stop offset="0.78" stop-color="#3e6fff"/><stop offset="0.79" stop-color="#4269fe"/><stop offset="0.81" stop-color="#4563fd"/><stop offset="0.83" stop-color="#465efb"/><stop offset="0.84" stop-color="#4758f8"/><stop offset="0.86" stop-color="#4852f4"/><stop offset="0.87" stop-color="#484df0"/><stop offset="0.89" stop-color="#4747eb"/><stop offset="0.9" stop-color="#4741e5"/><stop offset="0.92" stop-color="#463cde"/><stop offset="0.94" stop-color="#4537d5"/><stop offset="0.95" stop-color="#4332cb"/><stop offset="0.97" stop-color="#422ec0"/><stop offset="0.98" stop-color="#402ab4"/><stop offset="1" stop-color="#3e26a8"/></linearGradient></defs><text x="74.5" y="375.7" font-size="24" text-anchor="end" font-family="Liberation Sans" fill="#262626">10</text><text x="74.5" y="292" font-size="24" text-anchor="end" font-family="Liberation Sans" fill="#262626">20</text><text x="74.5" y="208.3" font-size="24" text-anchor="end" font-family="Liberation Sans" fill="#262626">30</text><text x="74.5" y="124.6" font-size="24" text-anchor="end" font-family="Liberation Sans" fill="#262626">40</text><text x="74.5" y="40.9" font-size="24" text-anchor="end" font-family="Liberation Sans" fill="#262626">50</text><text x="83" y="474.1" font-size="24" text-anchor="middle" font-family="Liberation Sans" fill="#262626">0</text><text x="162.48" y="474.1" font-size="24" text-anchor="middle" font-family="Liberation Sans" fill="#262626">30</text><text x="241.97" y="474.1" font-size="24" text-anchor="middle" font-family="Liberation Sans" fill="#262626">60</text><text x="321.45" y="474.1" font-size="24" text-anchor="middle" font-family="Liberation Sans" fill="#262626">90</text><text x="400.93" y="474.1" font-size="24" text-anchor="middle" font-family="Liberation Sans" fill="#262626">120</text><text x="480.42" y="474.1" font-size="24" text-anchor="middle" font-family="Liberation Sans" fill="#262626">150</text><text x="559.9" y="474.1" font-size="24" text-anchor="middle" font-family="Liberation Sans" fill="#262626">180</text><text x="321.45" y="508.6" font-size="26.2" text-anchor="middle" font-family="Liberation Sans" fill="#262626">Angle(°)</text><text x="0" y="0" font-size="26.6" text-anchor="middle" font-family="Liberation Sans" fill="#262626" transform="translate(37.8 231.8) rotate(-90)">Time(s)</text><rect x="592.3" y="22.7" width="28" height="419.6" fill="url(#cbg)" stroke="#444" stroke-width="1"/><text x="628.1" y="32.35" font-size="21.6" text-anchor="start" font-family="Liberation Sans" fill="#262626">0</text><line x1="616.3" y1="92.63" x2="620.3" y2="92.63" stroke="#333" stroke-width="1"/><text x="628.1" y="102.28" font-size="21.6" text-anchor="start" font-family="Liberation Sans" fill="#262626">-5</text><line x1="616.3" y1="162.57" x2="620.3" y2="162.57" stroke="#333" stroke-width="1"/><text x="628.1" y="172.22" font-size="21.6" text-anchor="start" font-family="Liberation Sans" fill="#262626">-10</text><line x1="616.3" y1="232.5" x2="620.3" y2="232.5" stroke="#333" stroke-width="1"/><text x="628.1" y="242.15" font-size="21.6" text-anchor="start" font-family="Liberation Sans" fill="#262626">-15</text><line x1="616.3" y1="302.43" x2="620.3" y2="302.43" stroke="#333" stroke-width="1"/><text x="628.1" y="312.08" font-size="21.6" text-anchor="start" font-family="Liberation Sans" fill="#262626">-20</text><line x1="616.3" y1="372.37" x2="620.3" y2="372.37" stroke="#333" stroke-width="1"/><text x="628.1" y="382.02" font-size="21.6" text-anchor="start" font-family="Liberation Sans" fill="#262626">-25</text><text x="628.1" y="451.95" font-size="21.6" text-anchor="start" font-family="Liberation Sans" fill="#262626">-30</text><text x="0" y="0" font-size="43" text-anchor="middle" font-family="Liberation Serif" fill="#000" transform="translate(359 556.7) scale(0.945 1)">(<tspan font-weight="bold">a</tspan>)</text><text x="894.5" y="374.2" font-size="24" text-anchor="end" font-family="Liberation Sans" fill="#262626">10</text><text x="894.5" y="290.5" font-size="24" text-anchor="end" font-family="Liberation Sans" fill="#262626">20</text><text x="894.5" y="206.8" font-size="24" text-anchor="end" font-family="Liberation Sans" fill="#262626">30</text><text x="894.5" y="123.1" font-size="24" text-anchor="end" font-family="Liberation Sans" fill="#262626">40</text><text x="894.5" y="39.4" font-size="24" text-anchor="end" font-family="Liberation Sans" fill="#262626">50</text><text x="903" y="472.6" font-size="24" text-anchor="middle" font-family="Liberation Sans" fill="#262626">0</text><text x="982.5" y="472.6" font-size="24" text-anchor="middle" font-family="Liberation Sans" fill="#262626">30</text><text x="1062" y="472.6" font-size="24" text-anchor="middle" font-family="Liberation Sans" fill="#262626">60</text><text x="1141.5" y="472.6" font-size="24" text-anchor="middle" font-family="Liberation Sans" fill="#262626">90</text><text x="1221" y="472.6" font-size="24" text-anchor="middle" font-family="Liberation Sans" fill="#262626">120</text><text x="1300.5" y="472.6" font-size="24" text-anchor="middle" font-family="Liberation Sans" fill="#262626">150</text><text x="1380" y="472.6" font-size="24" text-anchor="middle" font-family="Liberation Sans" fill="#262626">180</text><text x="1141.5" y="507.1" font-size="26.2" text-anchor="middle" font-family="Liberation Sans" fill="#262626">Angle(°)</text><text x="0" y="0" font-size="26.6" text-anchor="middle" font-family="Liberation Sans" fill="#262626" transform="translate(857.8 230.3) rotate(-90)">Time(s)</text><rect x="1412.4" y="21.2" width="28.1" height="419.4" fill="url(#cbg)" stroke="#444" stroke-width="1"/><text x="1448.3" y="30.85" font-size="21.6" text-anchor="start" font-family="Liberation Sans" fill="#262626">0</text><line x1="1436.5" y1="91.1" x2="1440.5" y2="91.1" stroke="#333" stroke-width="1"/><text x="1448.3" y="100.75" font-size="21.6" text-anchor="start" font-family="Liberation Sans" fill="#262626">-5</text><line x1="1436.5" y1="161" x2="1440.5" y2="161" stroke="#333" stroke-width="1"/><text x="1448.3" y="170.65" font-size="21.6" text-anchor="start" font-family="Liberation Sans" fill="#262626">-10</text><line x1="1436.5" y1="230.9" x2="1440.5" y2="230.9" stroke="#333" stroke-width="1"/><text x="1448.3" y="240.55" font-size="21.6" text-anchor="start" font-family="Liberation Sans" fill="#262626">-15</text><line x1="1436.5" y1="300.8" x2="1440.5" y2="300.8" stroke="#333" stroke-width="1"/><text x="1448.3" y="310.45" font-size="21.6" text-anchor="start" font-family="Liberation Sans" fill="#262626">-20</text><line x1="1436.5" y1="370.7" x2="1440.5" y2="370.7" stroke="#333" stroke-width="1"/><text x="1448.3" y="380.35" font-size="21.6" text-anchor="start" font-family="Liberation Sans" fill="#262626">-25</text><text x="1448.3" y="450.25" font-size="21.6" text-anchor="start" font-family="Liberation Sans" fill="#262626">-30</text><text x="0" y="0" font-size="43" text-anchor="middle" font-family="Liberation Serif" fill="#000" transform="translate(1178 556.7) scale(0.945 1)">(<tspan font-weight="bold">b</tspan>)</text><text x="74.5" y="936" font-size="24" text-anchor="end" font-family="Liberation Sans" fill="#262626">10</text><text x="74.5" y="852.3" font-size="24" text-anchor="end" font-family="Liberation Sans" fill="#262626">20</text><text x="74.5" y="768.6" font-size="24" text-anchor="end" font-family="Liberation Sans" fill="#262626">30</text><text x="74.5" y="684.9" font-size="24" text-anchor="end" font-family="Liberation Sans" fill="#262626">40</text><text x="74.5" y="601.2" font-size="24" text-anchor="end" font-family="Liberation Sans" fill="#262626">50</text><text x="83" y="1034.6" font-size="24" text-anchor="middle" font-family="Liberation Sans" fill="#262626">0</text><text x="162.48" y="1034.6" font-size="24" text-anchor="middle" font-family="Liberation Sans" fill="#262626">30</text><text x="241.97" y="1034.6" font-size="24" text-anchor="middle" font-family="Liberation Sans" fill="#262626">60</text><text x="321.45" y="1034.6" font-size="24" text-anchor="middle" font-family="Liberation Sans" fill="#262626">90</text><text x="400.93" y="1034.6" font-size="24" text-anchor="middle" font-family="Liberation Sans" fill="#262626">120</text><text x="480.42" y="1034.6" font-size="24" text-anchor="middle" font-family="Liberation Sans" fill="#262626">150</text><text x="559.9" y="1034.6" font-size="24" text-anchor="middle" font-family="Liberation Sans" fill="#262626">180</text><text x="321.45" y="1069.1" font-size="26.2" text-anchor="middle" font-family="Liberation Sans" fill="#262626">Angle(°)</text><text x="0" y="0" font-size="26.6" text-anchor="middle" font-family="Liberation Sans" fill="#262626" transform="translate(37.8 792.2) rotate(-90)">Time(s)</text><rect x="592.3" y="583" width="28.2" height="419.6" fill="url(#cbg)" stroke="#444" stroke-width="1"/><text x="628.3" y="592.65" font-size="21.6" text-anchor="start" font-family="Liberation Sans" fill="#262626">0</text><line x1="616.5" y1="652.93" x2="620.5" y2="652.93" stroke="#333" stroke-width="1"/><text x="628.3" y="662.58" font-size="21.6" text-anchor="start" font-family="Liberation Sans" fill="#262626">-5</text><line x1="616.5" y1="722.87" x2="620.5" y2="722.87" stroke="#333" stroke-width="1"/><text x="628.3" y="732.52" font-size="21.6" text-anchor="start" font-family="Liberation Sans" fill="#262626">-10</text><line x1="616.5" y1="792.8" x2="620.5" y2="792.8" stroke="#333" stroke-width="1"/><text x="628.3" y="802.45" font-size="21.6" text-anchor="start" font-family="Liberation Sans" fill="#262626">-15</text><line x1="616.5" y1="862.73" x2="620.5" y2="862.73" stroke="#333" stroke-width="1"/><text x="628.3" y="872.38" font-size="21.6" text-anchor="start" font-family="Liberation Sans" fill="#262626">-20</text><line x1="616.5" y1="932.67" x2="620.5" y2="932.67" stroke="#333" stroke-width="1"/><text x="628.3" y="942.32" font-size="21.6" text-anchor="start" font-family="Liberation Sans" fill="#262626">-25</text><text x="628.3" y="1012.25" font-size="21.6" text-anchor="start" font-family="Liberation Sans" fill="#262626">-30</text><text x="0" y="0" font-size="43" text-anchor="middle" font-family="Liberation Serif" fill="#000" transform="translate(359 1116.7) scale(0.945 1)">(<tspan font-weight="bold">c</tspan>)</text><text x="894.5" y="936.2" font-size="24" text-anchor="end" font-family="Liberation Sans" fill="#262626">10</text><text x="894.5" y="852.5" font-size="24" text-anchor="end" font-family="Liberation Sans" fill="#262626">20</text><text x="894.5" y="768.8" font-size="24" text-anchor="end" font-family="Liberation Sans" fill="#262626">30</text><text x="894.5" y="685.1" font-size="24" text-anchor="end" font-family="Liberation Sans" fill="#262626">40</text><text x="894.5" y="601.4" font-size="24" text-anchor="end" font-family="Liberation Sans" fill="#262626">50</text><text x="903" y="1034.8" font-size="24" text-anchor="middle" font-family="Liberation Sans" fill="#262626">0</text><text x="982.5" y="1034.8" font-size="24" text-anchor="middle" font-family="Liberation Sans" fill="#262626">30</text><text x="1062" y="1034.8" font-size="24" text-anchor="middle" font-family="Liberation Sans" fill="#262626">60</text><text x="1141.5" y="1034.8" font-size="24" text-anchor="middle" font-family="Liberation Sans" fill="#262626">90</text><text x="1221" y="1034.8" font-size="24" text-anchor="middle" font-family="Liberation Sans" fill="#262626">120</text><text x="1300.5" y="1034.8" font-size="24" text-anchor="middle" font-family="Liberation Sans" fill="#262626">150</text><text x="1380" y="1034.8" font-size="24" text-anchor="middle" font-family="Liberation Sans" fill="#262626">180</text><text x="1141.5" y="1069.3" font-size="26.2" text-anchor="middle" font-family="Liberation Sans" fill="#262626">Angle(°)</text><text x="0" y="0" font-size="26.6" text-anchor="middle" font-family="Liberation Sans" fill="#262626" transform="translate(857.8 792.4) rotate(-90)">Time(s)</text><rect x="1412.6" y="583.1" width="27.9" height="419.4" fill="url(#cbg)" stroke="#444" stroke-width="1"/><text x="1448.3" y="592.75" font-size="21.6" text-anchor="start" font-family="Liberation Sans" fill="#262626">0</text><line x1="1436.5" y1="653" x2="1440.5" y2="653" stroke="#333" stroke-width="1"/><text x="1448.3" y="662.65" font-size="21.6" text-anchor="start" font-family="Liberation Sans" fill="#262626">-5</text><line x1="1436.5" y1="722.9" x2="1440.5" y2="722.9" stroke="#333" stroke-width="1"/><text x="1448.3" y="732.55" font-size="21.6" text-anchor="start" font-family="Liberation Sans" fill="#262626">-10</text><line x1="1436.5" y1="792.8" x2="1440.5" y2="792.8" stroke="#333" stroke-width="1"/><text x="1448.3" y="802.45" font-size="21.6" text-anchor="start" font-family="Liberation Sans" fill="#262626">-15</text><line x1="1436.5" y1="862.7" x2="1440.5" y2="862.7" stroke="#333" stroke-width="1"/><text x="1448.3" y="872.35" font-size="21.6" text-anchor="start" font-family="Liberation Sans" fill="#262626">-20</text><line x1="1436.5" y1="932.6" x2="1440.5" y2="932.6" stroke="#333" stroke-width="1"/><text x="1448.3" y="942.25" font-size="21.6" text-anchor="start" font-family="Liberation Sans" fill="#262626">-25</text><text x="1448.3" y="1012.15" font-size="21.6" text-anchor="start" font-family="Liberation Sans" fill="#262626">-30</text><text x="0" y="0" font-size="43" text-anchor="middle" font-family="Liberation Serif" fill="#000" transform="translate(1178 1116.7) scale(0.945 1)">(<tspan font-weight="bold">d</tspan>)</text><text x="77.8" y="1501" font-size="24" text-anchor="end" font-family="Liberation Sans" fill="#262626">10</text><text x="77.8" y="1417.3" font-size="24" text-anchor="end" font-family="Liberation Sans" fill="#262626">20</text><text x="77.8" y="1333.6" font-size="24" text-anchor="end" font-family="Liberation Sans" fill="#262626">30</text><text x="77.8" y="1249.9" font-size="24" text-anchor="end" font-family="Liberation Sans" fill="#262626">40</text><text x="77.8" y="1166.2" font-size="24" text-anchor="end" font-family="Liberation Sans" fill="#262626">50</text><text x="86.3" y="1600.4" font-size="24" text-anchor="middle" font-family="Liberation Sans" fill="#262626">0</text><text x="222.8" y="1600.4" font-size="24" text-anchor="middle" font-family="Liberation Sans" fill="#262626">50</text><text x="359.3" y="1600.4" font-size="24" text-anchor="middle" font-family="Liberation Sans" fill="#262626">100</text><text x="495.8" y="1600.4" font-size="24" text-anchor="middle" font-family="Liberation Sans" fill="#262626">150</text><text x="332" y="1634.9" font-size="26.2" text-anchor="middle" font-family="Liberation Sans" fill="#262626">Angle(°)</text><text x="0" y="0" font-size="26.6" text-anchor="middle" font-family="Liberation Sans" fill="#262626" transform="translate(41.1 1357.6) rotate(-90)">Time(s)</text><rect x="591.6" y="1148.2" width="26.5" height="419.1" fill="url(#cbg)" stroke="#444" stroke-width="1"/><text x="625.9" y="1157.85" font-size="21.6" text-anchor="start" font-family="Liberation Sans" fill="#262626">0</text><line x1="614.1" y1="1218.05" x2="618.1" y2="1218.05" stroke="#333" stroke-width="1"/><text x="625.9" y="1227.7" font-size="21.6" text-anchor="start" font-family="Liberation Sans" fill="#262626">-5</text><line x1="614.1" y1="1287.9" x2="618.1" y2="1287.9" stroke="#333" stroke-width="1"/><text x="625.9" y="1297.55" font-size="21.6" text-anchor="start" font-family="Liberation Sans" fill="#262626">-10</text><line x1="614.1" y1="1357.75" x2="618.1" y2="1357.75" stroke="#333" stroke-width="1"/><text x="625.9" y="1367.4" font-size="21.6" text-anchor="start" font-family="Liberation Sans" fill="#262626">-15</text><line x1="614.1" y1="1427.6" x2="618.1" y2="1427.6" stroke="#333" stroke-width="1"/><text x="625.9" y="1437.25" font-size="21.6" text-anchor="start" font-family="Liberation Sans" fill="#262626">-20</text><line x1="614.1" y1="1497.45" x2="618.1" y2="1497.45" stroke="#333" stroke-width="1"/><text x="625.9" y="1507.1" font-size="21.6" text-anchor="start" font-family="Liberation Sans" fill="#262626">-25</text><text x="625.9" y="1576.95" font-size="21.6" text-anchor="start" font-family="Liberation Sans" fill="#262626">-30</text><text x="0" y="0" font-size="43" text-anchor="middle" font-family="Liberation Serif" fill="#000" transform="translate(359 1682.2) scale(0.945 1)">(<tspan font-weight="bold">e</tspan>)</text><text x="894.5" y="1497.2" font-size="24" text-anchor="end" font-family="Liberation Sans" fill="#262626">10</text><text x="894.5" y="1413.5" font-size="24" text-anchor="end" font-family="Liberation Sans" fill="#262626">20</text><text x="894.5" y="1329.8" font-size="24" text-anchor="end" font-family="Liberation Sans" fill="#262626">30</text><text x="894.5" y="1246.1" font-size="24" text-anchor="end" font-family="Liberation Sans" fill="#262626">40</text><text x="894.5" y="1162.4" font-size="24" text-anchor="end" font-family="Liberation Sans" fill="#262626">50</text><text x="903" y="1596" font-size="24" text-anchor="middle" font-family="Liberation Sans" fill="#262626">0</text><text x="982.42" y="1596" font-size="24" text-anchor="middle" font-family="Liberation Sans" fill="#262626">30</text><text x="1061.83" y="1596" font-size="24" text-anchor="middle" font-family="Liberation Sans" fill="#262626">60</text><text x="1141.25" y="1596" font-size="24" text-anchor="middle" font-family="Liberation Sans" fill="#262626">90</text><text x="1220.67" y="1596" font-size="24" text-anchor="middle" font-family="Liberation Sans" fill="#262626">120</text><text x="1300.08" y="1596" font-size="24" text-anchor="middle" font-family="Liberation Sans" fill="#262626">150</text><text x="1379.5" y="1596" font-size="24" text-anchor="middle" font-family="Liberation Sans" fill="#262626">180</text><text x="1141.25" y="1630.5" font-size="26.2" text-anchor="middle" font-family="Liberation Sans" fill="#262626">Angle(°)</text><text x="0" y="0" font-size="26.6" text-anchor="middle" font-family="Liberation Sans" fill="#262626" transform="translate(857.8 1353.5) rotate(-90)">Time(s)</text><rect x="1411.9" y="1144.2" width="26.3" height="420.1" fill="url(#cbg)" stroke="#444" stroke-width="1"/><text x="1446" y="1153.85" font-size="21.6" text-anchor="start" font-family="Liberation Sans" fill="#262626">0</text><line x1="1434.2" y1="1214.22" x2="1438.2" y2="1214.22" stroke="#333" stroke-width="1"/><text x="1446" y="1223.87" font-size="21.6" text-anchor="start" font-family="Liberation Sans" fill="#262626">-5</text><line x1="1434.2" y1="1284.23" x2="1438.2" y2="1284.23" stroke="#333" stroke-width="1"/><text x="1446" y="1293.88" font-size="21.6" text-anchor="start" font-family="Liberation Sans" fill="#262626">-10</text><line x1="1434.2" y1="1354.25" x2="1438.2" y2="1354.25" stroke="#333" stroke-width="1"/><text x="1446" y="1363.9" font-size="21.6" text-anchor="start" font-family="Liberation Sans" fill="#262626">-15</text><line x1="1434.2" y1="1424.27" x2="1438.2" y2="1424.27" stroke="#333" stroke-width="1"/><text x="1446" y="1433.92" font-size="21.6" text-anchor="start" font-family="Liberation Sans" fill="#262626">-20</text><line x1="1434.2" y1="1494.28" x2="1438.2" y2="1494.28" stroke="#333" stroke-width="1"/><text x="1446" y="1503.93" font-size="21.6" text-anchor="start" font-family="Liberation Sans" fill="#262626">-25</text><text x="1446" y="1573.95" font-size="21.6" text-anchor="start" font-family="Liberation Sans" fill="#262626">-30</text><text x="0" y="0" font-size="43" text-anchor="middle" font-family="Liberation Serif" fill="#000" transform="translate(1178 1682.2) scale(0.945 1)">(<tspan font-weight="bold">f</tspan>)</text></svg></body></html>
